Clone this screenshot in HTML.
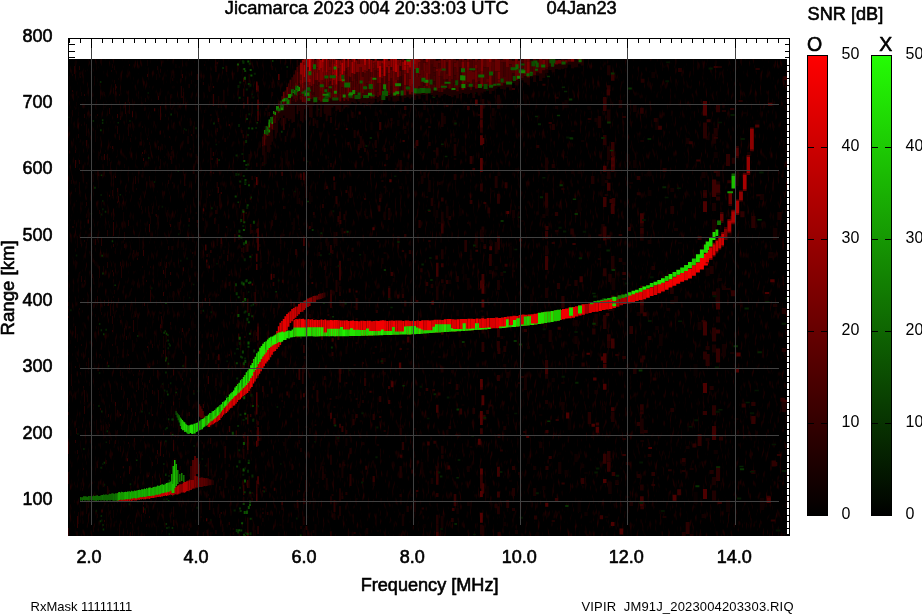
<!DOCTYPE html>
<html><head><meta charset="utf-8"><title>Jicamarca ionogram</title>
<style>html,body{margin:0;padding:0;background:#fff}svg{display:block}text{font-family:"Liberation Sans",sans-serif;fill:#000}</style></head><body>
<svg width="922" height="614" viewBox="0 0 922 614">
<defs>
<linearGradient id="gr" x1="0" y1="1" x2="0" y2="0"><stop offset="0" stop-color="#000"/><stop offset="1" stop-color="#ff0000"/></linearGradient>
<linearGradient id="gg" x1="0" y1="1" x2="0" y2="0"><stop offset="0" stop-color="#000"/><stop offset="1" stop-color="#24fc04"/></linearGradient>
<filter id="b1" x="-5%" y="-5%" width="110%" height="110%"><feGaussianBlur stdDeviation="0.25 0.75"/></filter>
<filter id="nz" x="0" y="0" width="100%" height="100%" color-interpolation-filters="sRGB"><feTurbulence type="fractalNoise" baseFrequency="0.4 0.1" numOctaves="2" seed="5"/><feColorMatrix type="matrix" values="0.5 0 0 0 -0.29  0 0 0 0 0  0 0 0 0 0  0 0 0 0 1"/></filter>
<filter id="b2" x="-5%" y="-5%" width="110%" height="110%"><feGaussianBlur stdDeviation="1.5"/></filter>
<clipPath id="cp"><rect x="68" y="59" width="719" height="477"/></clipPath>
</defs>
<rect width="922" height="614" fill="#fff"/>
<g stroke="#000" stroke-width="1" shape-rendering="crispEdges" fill="none">
<rect x="68.5" y="38.5" width="721" height="497"/>
<path d="M69.5 38v5M80.5 38v5M91.5 38v10M102.5 38v5M112.5 38v5M123.5 38v5M134.5 38v5M145.5 38v5M155.5 38v5M166.5 38v5M177.5 38v5M188.5 38v5M198.5 38v10M209.5 38v5M220.5 38v5M231.5 38v5M241.5 38v5M252.5 38v5M263.5 38v5M273.5 38v5M284.5 38v5M295.5 38v5M306.5 38v10M316.5 38v5M327.5 38v5M338.5 38v5M349.5 38v5M359.5 38v5M370.5 38v5M381.5 38v5M392.5 38v5M402.5 38v5M413.5 38v10M424.5 38v5M434.5 38v5M445.5 38v5M456.5 38v5M467.5 38v5M477.5 38v5M488.5 38v5M499.5 38v5M510.5 38v5M520.5 38v10M531.5 38v5M542.5 38v5M553.5 38v5M563.5 38v5M574.5 38v5M585.5 38v5M595.5 38v5M606.5 38v5M617.5 38v5M627.5 38v10M638.5 38v5M649.5 38v5M660.5 38v5M671.5 38v5M681.5 38v5M692.5 38v5M703.5 38v5M714.5 38v5M724.5 38v5M735.5 38v10M746.5 38v5M756.5 38v5M767.5 38v5M778.5 38v5M68 534.5h7M790 534.5h-5M68 528.5h7M790 528.5h-5M68 521.5h7M790 521.5h-5M68 515.5h7M790 515.5h-5M68 508.5h7M790 508.5h-5M68 501.5h12M790 501.5h-10M68 495.5h7M790 495.5h-5M68 488.5h7M790 488.5h-5M68 482.5h7M790 482.5h-5M68 475.5h7M790 475.5h-5M68 468.5h7M790 468.5h-5M68 462.5h7M790 462.5h-5M68 455.5h7M790 455.5h-5M68 448.5h7M790 448.5h-5M68 442.5h7M790 442.5h-5M68 435.5h12M790 435.5h-10M68 429.5h7M790 429.5h-5M68 422.5h7M790 422.5h-5M68 415.5h7M790 415.5h-5M68 409.5h7M790 409.5h-5M68 402.5h7M790 402.5h-5M68 396.5h7M790 396.5h-5M68 389.5h7M790 389.5h-5M68 382.5h7M790 382.5h-5M68 376.5h7M790 376.5h-5M68 368.5h12M790 368.5h-10M68 362.5h7M790 362.5h-5M68 356.5h7M790 356.5h-5M68 349.5h7M790 349.5h-5M68 343.5h7M790 343.5h-5M68 336.5h7M790 336.5h-5M68 329.5h7M790 329.5h-5M68 323.5h7M790 323.5h-5M68 316.5h7M790 316.5h-5M68 309.5h7M790 309.5h-5M68 302.5h12M790 302.5h-10M68 296.5h7M790 296.5h-5M68 290.5h7M790 290.5h-5M68 283.5h7M790 283.5h-5M68 276.5h7M790 276.5h-5M68 270.5h7M790 270.5h-5M68 263.5h7M790 263.5h-5M68 257.5h7M790 257.5h-5M68 250.5h7M790 250.5h-5M68 243.5h7M790 243.5h-5M68 237.5h12M790 237.5h-10M68 230.5h7M790 230.5h-5M68 223.5h7M790 223.5h-5M68 217.5h7M790 217.5h-5M68 210.5h7M790 210.5h-5M68 204.5h7M790 204.5h-5M68 197.5h7M790 197.5h-5M68 190.5h7M790 190.5h-5M68 184.5h7M790 184.5h-5M68 177.5h7M790 177.5h-5M68 170.5h12M790 170.5h-10M68 164.5h7M790 164.5h-5M68 157.5h7M790 157.5h-5M68 151.5h7M790 151.5h-5M68 144.5h7M790 144.5h-5M68 137.5h7M790 137.5h-5M68 131.5h7M790 131.5h-5M68 124.5h7M790 124.5h-5M68 118.5h7M790 118.5h-5M68 111.5h7M790 111.5h-5M68 104.5h12M790 104.5h-10M68 98.5h7M790 98.5h-5M68 91.5h7M790 91.5h-5M68 85.5h7M790 85.5h-5M68 78.5h7M790 78.5h-5M68 71.5h7M790 71.5h-5M68 65.5h7M790 65.5h-5M68 57.5h7M790 57.5h-5M68 51.5h7M790 51.5h-5M68 44.5h7M790 44.5h-5M68 38.5h12M790 38.5h-10"/>
</g>
<rect x="68" y="59" width="719" height="477" fill="#000"/>
<g clip-path="url(#cp)">
<rect x="68" y="59" width="719" height="477" filter="url(#nz)"/>
<g ><path fill="#1f0000" d="M68.0 472.0h1.0v12.0h-1.0zM68.0 316.0h1.0v2.0h-1.0zM68.0 412.0h1.0v3.0h-1.0zM75.0 326.0h1.0v12.0h-1.0zM75.0 150.0h1.0v3.0h-1.0zM75.0 366.0h1.0v2.0h-1.0zM77.0 450.0h1.0v4.0h-1.0zM79.0 66.0h1.0v4.0h-1.0zM81.0 276.0h1.0v6.0h-1.0zM83.0 386.0h1.0v2.0h-1.0zM83.0 468.0h1.0v2.0h-1.0zM84.0 240.0h1.0v2.0h-1.0zM84.0 114.0h1.0v4.0h-1.0zM84.0 390.0h1.0v12.0h-1.0zM84.0 280.0h1.0v2.0h-1.0zM86.0 202.0h1.0v4.0h-1.0zM94.0 498.0h1.0v4.0h-1.0zM97.0 464.0h1.0v4.0h-1.0zM97.0 296.0h1.0v8.0h-1.0zM97.0 114.0h1.0v2.0h-1.0zM97.0 238.0h1.0v2.0h-1.0zM97.0 496.0h1.0v2.0h-1.0zM104.0 300.0h1.0v6.0h-1.0zM107.0 262.0h1.0v6.0h-1.0zM107.0 154.0h1.0v8.0h-1.0zM107.0 230.0h1.0v6.0h-1.0zM107.0 486.0h1.0v8.0h-1.0zM109.0 108.0h1.0v6.0h-1.0zM112.0 190.0h1.0v6.0h-1.0zM112.0 316.0h1.0v8.0h-1.0zM112.0 270.0h1.0v2.0h-1.0zM112.0 344.0h1.0v2.0h-1.0zM115.0 440.0h1.0v4.0h-1.0zM117.0 126.0h1.0v8.0h-1.0zM117.0 410.0h1.0v4.0h-1.0zM120.0 116.0h1.0v4.0h-1.0zM120.0 262.0h1.0v4.0h-1.0zM120.0 320.0h1.0v3.0h-1.0zM120.0 370.0h1.0v2.0h-1.0zM120.0 476.0h1.0v2.0h-1.0zM121.0 266.0h1.0v12.0h-1.0zM121.0 386.0h1.0v4.0h-1.0zM124.0 244.0h1.0v4.0h-1.0zM127.0 398.0h1.0v12.0h-1.0zM128.0 220.0h1.0v6.0h-1.0zM128.0 442.0h1.0v2.0h-1.0zM129.0 364.0h1.0v6.0h-1.0zM135.0 176.0h1.0v8.0h-1.0zM135.0 412.0h1.0v4.0h-1.0zM135.0 314.0h1.0v3.0h-1.0zM139.0 370.0h1.0v2.0h-1.0zM142.0 404.0h1.0v6.0h-1.0zM144.0 150.0h1.0v4.0h-1.0zM146.0 280.0h1.0v2.0h-1.0zM146.0 490.0h1.0v2.0h-1.0zM149.0 380.0h1.0v3.0h-1.0zM149.0 516.0h1.0v2.0h-1.0zM152.0 344.0h1.0v4.0h-1.0zM152.0 462.0h1.0v4.0h-1.0zM152.0 476.0h1.0v2.0h-1.0zM152.0 390.0h1.0v4.0h-1.0zM153.0 536.0h1.0v6.0h-1.0zM157.0 370.0h1.0v4.0h-1.0zM158.0 390.0h1.0v12.0h-1.0zM158.0 146.0h1.0v4.0h-1.0zM163.0 432.0h1.0v4.0h-1.0zM163.0 454.0h1.0v3.0h-1.0zM168.1 246.0h1.0v4.0h-1.0zM168.1 180.0h1.0v4.0h-1.0zM170.1 432.0h1.0v4.0h-1.0zM170.1 322.0h1.0v3.0h-1.0zM170.1 156.0h1.0v4.0h-1.0zM170.1 282.0h1.0v4.0h-1.0zM171.2 156.0h1.0v8.0h-1.0zM171.2 512.0h1.0v2.0h-1.0zM171.2 146.0h1.0v4.0h-1.0zM176.5 388.0h1.1v2.0h-1.1zM176.5 474.0h1.1v4.0h-1.1zM181.9 378.0h1.1v3.0h-1.1zM183.0 92.0h1.1v12.0h-1.1zM185.2 208.0h1.1v4.0h-1.1zM187.5 136.0h1.1v8.0h-1.1zM188.6 84.0h1.1v4.0h-1.1zM188.6 328.0h1.1v3.0h-1.1zM188.6 528.0h1.1v3.0h-1.1zM192.1 252.0h1.2v2.0h-1.2zM198.0 324.0h1.2v4.0h-1.2zM198.0 178.0h1.2v12.0h-1.2zM198.0 468.0h1.2v3.0h-1.2zM200.4 516.0h1.2v2.0h-1.2zM200.4 310.0h1.2v4.0h-1.2zM202.8 82.0h1.2v3.0h-1.2zM206.5 530.0h1.2v3.0h-1.2zM207.7 354.0h1.3v6.0h-1.3zM207.7 468.0h1.3v8.0h-1.3zM207.7 458.0h1.3v12.0h-1.3zM209.0 298.0h1.3v8.0h-1.3zM209.0 318.0h1.3v2.0h-1.3zM209.0 498.0h1.3v12.0h-1.3zM209.0 194.0h1.3v2.0h-1.3zM212.8 172.0h1.3v2.0h-1.3zM214.1 218.0h1.3v6.0h-1.3zM215.3 530.0h1.3v4.0h-1.3zM215.3 360.0h1.3v4.0h-1.3zM215.3 378.0h1.3v8.0h-1.3zM216.6 182.0h1.3v6.0h-1.3zM216.6 128.0h1.3v4.0h-1.3zM217.9 414.0h1.3v4.0h-1.3zM217.9 364.0h1.3v6.0h-1.3zM219.2 194.0h1.3v12.0h-1.3zM219.2 514.0h1.3v4.0h-1.3zM220.6 478.0h1.3v2.0h-1.3zM224.5 138.0h1.3v4.0h-1.3zM228.6 282.0h1.4v4.0h-1.4zM228.6 274.0h1.4v2.0h-1.4zM228.6 522.0h1.4v3.0h-1.4zM228.6 354.0h1.4v2.0h-1.4zM238.3 234.0h1.4v6.0h-1.4zM247.0 388.0h1.5v2.0h-1.5zM249.9 388.0h1.5v8.0h-1.5zM249.9 430.0h1.5v2.0h-1.5zM249.9 226.0h1.5v8.0h-1.5zM251.4 230.0h1.5v3.0h-1.5zM251.4 498.0h1.5v4.0h-1.5zM251.4 176.0h1.5v4.0h-1.5zM251.4 492.0h1.5v2.0h-1.5zM262.1 162.0h1.6v4.0h-1.6zM262.1 512.0h1.6v2.0h-1.6zM262.1 490.0h1.6v2.0h-1.6zM265.2 352.0h1.6v4.0h-1.6zM268.4 112.0h1.6v4.0h-1.6zM283.0 206.0h1.7v3.0h-1.7zM296.6 60.0h1.7v12.0h-1.7zM298.4 490.0h1.8v2.0h-1.8zM305.5 426.0h1.8v2.0h-1.8zM305.5 500.0h1.8v4.0h-1.8zM312.7 118.0h1.8v8.0h-1.8zM312.7 386.0h1.8v4.0h-1.8zM312.7 318.0h1.8v2.0h-1.8zM323.9 376.0h1.9v4.0h-1.9zM323.9 266.0h1.9v4.0h-1.9zM323.9 70.0h1.9v4.0h-1.9zM329.6 398.0h1.9v2.0h-1.9zM331.6 250.0h1.9v4.0h-1.9zM333.5 182.0h2.0v8.0h-2.0zM333.5 420.0h2.0v6.0h-2.0zM335.5 128.0h2.0v2.0h-2.0zM335.5 280.0h2.0v12.0h-2.0zM335.5 232.0h2.0v4.0h-2.0zM335.5 334.0h2.0v2.0h-2.0zM339.4 270.0h2.0v4.0h-2.0zM341.4 496.0h2.0v3.0h-2.0zM343.4 464.0h2.0v2.0h-2.0zM343.4 214.0h2.0v6.0h-2.0zM345.4 492.0h2.0v3.0h-2.0zM345.4 382.0h2.0v2.0h-2.0zM345.4 430.0h2.0v4.0h-2.0zM349.5 390.0h2.0v4.0h-2.0zM349.5 448.0h2.0v6.0h-2.0zM349.5 186.0h2.0v12.0h-2.0zM349.5 70.0h2.0v4.0h-2.0zM349.5 74.0h2.0v2.0h-2.0zM355.6 342.0h2.1v2.0h-2.1zM355.6 398.0h2.1v2.0h-2.1zM355.6 318.0h2.1v6.0h-2.1zM361.9 362.0h2.1v2.0h-2.1zM364.0 148.0h2.1v4.0h-2.1zM383.6 430.0h2.2v2.0h-2.2zM383.6 148.0h2.2v4.0h-2.2zM388.0 208.0h2.3v12.0h-2.3zM399.5 428.0h2.3v8.0h-2.3zM399.5 160.0h2.3v12.0h-2.3zM399.5 466.0h2.3v12.0h-2.3zM399.5 494.0h2.3v3.0h-2.3zM399.5 406.0h2.3v2.0h-2.3zM404.1 64.0h2.3v3.0h-2.3zM404.1 114.0h2.3v2.0h-2.3zM428.2 142.0h2.5v4.0h-2.5zM428.2 126.0h2.5v2.0h-2.5zM430.7 284.0h2.5v4.0h-2.5zM430.7 198.0h2.5v8.0h-2.5zM448.5 426.0h2.6v3.0h-2.6zM448.5 216.0h2.6v4.0h-2.6zM448.5 382.0h2.6v2.0h-2.6zM453.7 144.0h2.6v12.0h-2.6zM453.7 174.0h2.6v6.0h-2.6zM456.3 276.0h2.6v6.0h-2.6zM467.0 90.0h2.7v4.0h-2.7zM472.4 94.0h2.7v4.0h-2.7zM472.4 408.0h2.7v6.0h-2.7zM472.4 320.0h2.7v8.0h-2.7zM477.9 114.0h2.8v2.0h-2.8zM483.4 244.0h2.8v4.0h-2.8zM483.4 418.0h2.8v2.0h-2.8zM494.7 504.0h2.9v4.0h-2.9zM494.7 176.0h2.9v12.0h-2.9zM497.5 434.0h2.9v4.0h-2.9zM503.3 346.0h2.9v6.0h-2.9zM512.0 488.0h3.0v8.0h-3.0zM512.0 508.0h3.0v3.0h-3.0zM520.9 376.0h3.0v2.0h-3.0zM545.4 314.0h3.1v2.0h-3.1zM551.7 124.0h3.2v6.0h-3.2zM551.7 520.0h3.2v2.0h-3.2zM551.7 164.0h3.2v4.0h-3.2zM554.9 230.0h3.2v2.0h-3.2zM561.3 188.0h3.2v2.0h-3.2zM561.3 402.0h3.2v3.0h-3.2zM574.3 280.0h3.3v6.0h-3.3zM591.0 176.0h3.4v8.0h-3.4zM594.4 322.0h3.4v2.0h-3.4zM597.8 116.0h3.4v12.0h-3.4zM608.2 274.0h3.5v8.0h-3.5zM615.2 482.0h3.5v3.0h-3.5zM618.7 258.0h3.5v4.0h-3.5zM622.3 438.0h3.6v2.0h-3.6zM625.8 462.0h3.6v3.0h-3.6zM633.0 368.0h3.6v6.0h-3.6zM636.7 474.0h3.6v4.0h-3.6zM647.7 454.0h3.7v3.0h-3.7zM647.7 336.0h3.7v4.0h-3.7zM651.4 266.0h3.7v4.0h-3.7zM670.3 408.0h3.8v4.0h-3.8zM670.3 206.0h3.8v8.0h-3.8zM681.8 532.0h3.9v12.0h-3.9zM681.8 470.0h3.9v2.0h-3.9zM705.6 346.0h4.0v4.0h-4.0zM709.6 266.0h4.1v8.0h-4.1zM709.6 386.0h4.1v4.0h-4.1zM709.6 470.0h4.1v4.0h-4.1zM713.7 246.0h4.1v8.0h-4.1zM713.7 128.0h4.1v8.0h-4.1zM717.8 66.0h4.1v2.0h-4.1zM721.9 110.0h4.1v2.0h-4.1zM751.2 470.0h4.3v4.0h-4.3zM781.8 308.0h4.5v6.0h-4.5zM781.8 400.0h4.5v12.0h-4.5zM781.8 348.0h4.5v4.0h-4.5zM786.2 332.0h4.5v2.0h-4.5zM243.0 535.2h1.4v14.0h-1.4zM243.0 247.1h1.4v6.0h-1.4zM243.0 449.0h1.4v10.0h-1.4zM247.0 517.5h1.5v14.0h-1.5zM256.0 162.8h1.5v4.0h-1.5zM256.0 332.0h1.5v4.0h-1.5zM256.0 419.8h1.5v8.0h-1.5zM256.0 236.8h1.5v6.0h-1.5zM257.3 322.8h1.5v6.0h-1.5zM303.0 516.6h1.8v4.0h-1.8zM303.0 157.2h1.8v4.0h-1.8zM303.0 235.4h1.8v10.0h-1.8zM330.0 531.2h1.9v14.0h-1.9zM330.0 117.0h1.9v6.0h-1.9zM330.0 322.4h1.9v4.0h-1.9zM339.0 331.7h2.0v4.0h-2.0zM339.0 286.1h2.0v10.0h-2.0zM339.0 211.6h2.0v8.0h-2.0zM436.0 466.1h2.5v8.0h-2.5zM436.0 525.1h2.5v6.0h-2.5zM436.0 147.6h2.5v8.0h-2.5zM436.0 514.8h2.5v10.0h-2.5zM441.0 279.3h2.6v4.0h-2.6zM480.0 229.4h2.8v10.0h-2.8zM480.0 524.4h2.8v10.0h-2.8zM481.5 99.0h2.8v10.0h-2.8zM481.5 525.6h2.8v14.0h-2.8zM481.5 226.4h2.8v6.0h-2.8zM481.5 319.6h2.8v14.0h-2.8zM497.0 506.2h2.9v8.0h-2.9zM545.0 201.1h3.1v8.0h-3.1zM545.0 364.8h3.1v14.0h-3.1zM603.0 98.0h3.5v10.0h-3.5zM607.0 334.1h3.5v14.0h-3.5zM611.0 412.0h3.5v10.0h-3.5zM611.0 202.4h3.5v10.0h-3.5zM611.0 304.8h3.5v6.0h-3.5zM611.0 256.1h3.5v14.0h-3.5zM640.0 484.5h3.7v6.0h-3.7zM640.0 216.7h3.7v10.0h-3.7zM703.0 123.1h4.0v4.0h-4.0zM712.0 490.5h4.1v10.0h-4.1zM716.0 170.4h4.1v6.0h-4.1zM160.0 262.0h1.0v4.0h-1.0zM160.0 452.0h1.0v4.0h-1.0zM113.0 225.7h1.0v6.0h-1.0z"/>
<path fill="#140000" d="M68.0 302.0h1.0v4.0h-1.0zM71.0 180.0h1.0v4.0h-1.0zM72.0 74.0h1.0v2.0h-1.0zM72.0 110.0h1.0v4.0h-1.0zM73.0 94.0h1.0v4.0h-1.0zM78.0 512.0h1.0v12.0h-1.0zM79.0 182.0h1.0v12.0h-1.0zM79.0 308.0h1.0v2.0h-1.0zM79.0 168.0h1.0v2.0h-1.0zM80.0 372.0h1.0v3.0h-1.0zM80.0 76.0h1.0v2.0h-1.0zM81.0 92.0h1.0v4.0h-1.0zM82.0 488.0h1.0v3.0h-1.0zM86.0 182.0h1.0v2.0h-1.0zM86.0 502.0h1.0v12.0h-1.0zM86.0 214.0h1.0v4.0h-1.0zM86.0 362.0h1.0v4.0h-1.0zM86.0 242.0h1.0v6.0h-1.0zM86.0 124.0h1.0v12.0h-1.0zM87.0 398.0h1.0v4.0h-1.0zM88.0 500.0h1.0v8.0h-1.0zM92.0 482.0h1.0v2.0h-1.0zM93.0 526.0h1.0v6.0h-1.0zM93.0 494.0h1.0v2.0h-1.0zM97.0 514.0h1.0v4.0h-1.0zM100.0 354.0h1.0v2.0h-1.0zM101.0 312.0h1.0v3.0h-1.0zM101.0 156.0h1.0v4.0h-1.0zM103.0 266.0h1.0v8.0h-1.0zM106.0 424.0h1.0v6.0h-1.0zM107.0 304.0h1.0v2.0h-1.0zM110.0 162.0h1.0v8.0h-1.0zM110.0 146.0h1.0v2.0h-1.0zM111.0 394.0h1.0v8.0h-1.0zM111.0 172.0h1.0v12.0h-1.0zM112.0 64.0h1.0v4.0h-1.0zM113.0 296.0h1.0v2.0h-1.0zM114.0 290.0h1.0v4.0h-1.0zM114.0 66.0h1.0v4.0h-1.0zM114.0 80.0h1.0v3.0h-1.0zM115.0 404.0h1.0v12.0h-1.0zM117.0 346.0h1.0v8.0h-1.0zM117.0 430.0h1.0v3.0h-1.0zM117.0 302.0h1.0v6.0h-1.0zM117.0 192.0h1.0v4.0h-1.0zM119.0 528.0h1.0v12.0h-1.0zM120.0 446.0h1.0v6.0h-1.0zM120.0 370.0h1.0v6.0h-1.0zM125.0 304.0h1.0v3.0h-1.0zM128.0 424.0h1.0v8.0h-1.0zM130.0 138.0h1.0v4.0h-1.0zM130.0 522.0h1.0v2.0h-1.0zM131.0 418.0h1.0v2.0h-1.0zM133.0 374.0h1.0v2.0h-1.0zM134.0 442.0h1.0v8.0h-1.0zM135.0 476.0h1.0v8.0h-1.0zM135.0 428.0h1.0v3.0h-1.0zM135.0 426.0h1.0v2.0h-1.0zM136.0 188.0h1.0v2.0h-1.0zM138.0 252.0h1.0v4.0h-1.0zM141.0 514.0h1.0v8.0h-1.0zM141.0 206.0h1.0v4.0h-1.0zM142.0 126.0h1.0v2.0h-1.0zM142.0 382.0h1.0v3.0h-1.0zM142.0 266.0h1.0v2.0h-1.0zM143.0 388.0h1.0v12.0h-1.0zM143.0 436.0h1.0v2.0h-1.0zM144.0 108.0h1.0v3.0h-1.0zM145.0 228.0h1.0v3.0h-1.0zM145.0 400.0h1.0v4.0h-1.0zM145.0 98.0h1.0v4.0h-1.0zM146.0 502.0h1.0v6.0h-1.0zM146.0 524.0h1.0v3.0h-1.0zM148.0 206.0h1.0v8.0h-1.0zM149.0 142.0h1.0v3.0h-1.0zM150.0 266.0h1.0v2.0h-1.0zM150.0 216.0h1.0v8.0h-1.0zM152.0 206.0h1.0v8.0h-1.0zM155.0 214.0h1.0v2.0h-1.0zM158.0 400.0h1.0v3.0h-1.0zM158.0 206.0h1.0v4.0h-1.0zM158.0 376.0h1.0v4.0h-1.0zM159.0 486.0h1.0v3.0h-1.0zM159.0 166.0h1.0v3.0h-1.0zM162.0 530.0h1.0v2.0h-1.0zM163.0 400.0h1.0v4.0h-1.0zM163.0 336.0h1.0v12.0h-1.0zM165.0 114.0h1.0v3.0h-1.0zM168.1 420.0h1.0v3.0h-1.0zM168.1 384.0h1.0v4.0h-1.0zM168.1 280.0h1.0v4.0h-1.0zM169.1 222.0h1.0v3.0h-1.0zM169.1 470.0h1.0v4.0h-1.0zM171.2 94.0h1.0v4.0h-1.0zM171.2 246.0h1.0v4.0h-1.0zM171.2 108.0h1.0v2.0h-1.0zM171.2 406.0h1.0v6.0h-1.0zM172.2 466.0h1.1v8.0h-1.1zM172.2 182.0h1.1v2.0h-1.1zM173.3 74.0h1.1v4.0h-1.1zM173.3 262.0h1.1v3.0h-1.1zM174.3 458.0h1.1v12.0h-1.1zM177.5 246.0h1.1v2.0h-1.1zM178.6 500.0h1.1v4.0h-1.1zM179.7 232.0h1.1v2.0h-1.1zM181.9 282.0h1.1v6.0h-1.1zM183.0 352.0h1.1v2.0h-1.1zM183.0 442.0h1.1v4.0h-1.1zM183.0 130.0h1.1v4.0h-1.1zM184.1 370.0h1.1v2.0h-1.1zM185.2 452.0h1.1v3.0h-1.1zM188.6 302.0h1.1v8.0h-1.1zM188.6 400.0h1.1v4.0h-1.1zM188.6 400.0h1.1v6.0h-1.1zM189.8 118.0h1.2v8.0h-1.2zM189.8 148.0h1.2v2.0h-1.2zM190.9 260.0h1.2v8.0h-1.2zM195.6 212.0h1.2v2.0h-1.2zM195.6 154.0h1.2v4.0h-1.2zM196.8 156.0h1.2v8.0h-1.2zM198.0 354.0h1.2v4.0h-1.2zM198.0 456.0h1.2v2.0h-1.2zM201.6 442.0h1.2v2.0h-1.2zM202.8 532.0h1.2v12.0h-1.2zM202.8 212.0h1.2v2.0h-1.2zM202.8 218.0h1.2v3.0h-1.2zM204.0 64.0h1.2v2.0h-1.2zM206.5 190.0h1.2v8.0h-1.2zM207.7 494.0h1.3v2.0h-1.3zM209.0 86.0h1.3v6.0h-1.3zM209.0 316.0h1.3v6.0h-1.3zM211.5 306.0h1.3v6.0h-1.3zM212.8 270.0h1.3v12.0h-1.3zM212.8 508.0h1.3v6.0h-1.3zM215.3 346.0h1.3v4.0h-1.3zM216.6 356.0h1.3v4.0h-1.3zM216.6 206.0h1.3v8.0h-1.3zM216.6 238.0h1.3v8.0h-1.3zM217.9 224.0h1.3v8.0h-1.3zM217.9 294.0h1.3v2.0h-1.3zM217.9 96.0h1.3v12.0h-1.3zM217.9 504.0h1.3v8.0h-1.3zM220.6 372.0h1.3v12.0h-1.3zM221.9 280.0h1.3v6.0h-1.3zM221.9 524.0h1.3v8.0h-1.3zM223.2 250.0h1.3v4.0h-1.3zM223.2 532.0h1.3v4.0h-1.3zM225.9 436.0h1.4v4.0h-1.4zM228.6 464.0h1.4v3.0h-1.4zM231.4 312.0h1.4v2.0h-1.4zM231.4 112.0h1.4v4.0h-1.4zM231.4 366.0h1.4v2.0h-1.4zM232.7 532.0h1.4v3.0h-1.4zM232.7 528.0h1.4v2.0h-1.4zM236.9 64.0h1.4v8.0h-1.4zM242.6 292.0h1.4v8.0h-1.4zM242.6 364.0h1.4v2.0h-1.4zM245.5 268.0h1.5v2.0h-1.5zM248.5 476.0h1.5v12.0h-1.5zM248.5 74.0h1.5v8.0h-1.5zM248.5 154.0h1.5v12.0h-1.5zM251.4 394.0h1.5v8.0h-1.5zM251.4 102.0h1.5v12.0h-1.5zM251.4 254.0h1.5v2.0h-1.5zM252.9 524.0h1.5v12.0h-1.5zM254.4 330.0h1.5v12.0h-1.5zM255.9 512.0h1.5v4.0h-1.5zM257.5 230.0h1.5v3.0h-1.5zM259.0 244.0h1.5v3.0h-1.5zM259.0 102.0h1.5v3.0h-1.5zM262.1 508.0h1.6v2.0h-1.6zM262.1 518.0h1.6v4.0h-1.6zM265.2 488.0h1.6v4.0h-1.6zM266.8 394.0h1.6v3.0h-1.6zM266.8 262.0h1.6v2.0h-1.6zM271.5 456.0h1.6v8.0h-1.6zM271.5 66.0h1.6v4.0h-1.6zM273.1 154.0h1.6v4.0h-1.6zM274.8 344.0h1.6v4.0h-1.6zM274.8 170.0h1.6v4.0h-1.6zM279.7 240.0h1.7v4.0h-1.7zM279.7 342.0h1.7v2.0h-1.7zM281.3 158.0h1.7v12.0h-1.7zM281.3 504.0h1.7v6.0h-1.7zM281.3 400.0h1.7v2.0h-1.7zM283.0 234.0h1.7v2.0h-1.7zM283.0 128.0h1.7v2.0h-1.7zM284.7 330.0h1.7v4.0h-1.7zM284.7 346.0h1.7v12.0h-1.7zM293.2 316.0h1.7v12.0h-1.7zM296.6 100.0h1.7v2.0h-1.7zM298.4 440.0h1.8v4.0h-1.8zM298.4 292.0h1.8v12.0h-1.8zM298.4 198.0h1.8v6.0h-1.8zM301.9 80.0h1.8v2.0h-1.8zM303.7 406.0h1.8v2.0h-1.8zM309.1 502.0h1.8v2.0h-1.8zM312.7 530.0h1.8v3.0h-1.8zM314.6 86.0h1.8v2.0h-1.8zM316.4 482.0h1.9v2.0h-1.9zM316.4 92.0h1.9v4.0h-1.9zM316.4 120.0h1.9v8.0h-1.9zM318.3 86.0h1.9v12.0h-1.9zM322.0 466.0h1.9v12.0h-1.9zM323.9 474.0h1.9v4.0h-1.9zM323.9 186.0h1.9v4.0h-1.9zM325.8 276.0h1.9v12.0h-1.9zM325.8 478.0h1.9v12.0h-1.9zM325.8 238.0h1.9v8.0h-1.9zM333.5 232.0h2.0v12.0h-2.0zM333.5 134.0h2.0v2.0h-2.0zM333.5 406.0h2.0v2.0h-2.0zM333.5 514.0h2.0v6.0h-2.0zM335.5 70.0h2.0v4.0h-2.0zM335.5 396.0h2.0v3.0h-2.0zM335.5 238.0h2.0v8.0h-2.0zM335.5 436.0h2.0v4.0h-2.0zM337.4 438.0h2.0v4.0h-2.0zM339.4 300.0h2.0v6.0h-2.0zM339.4 320.0h2.0v6.0h-2.0zM339.4 268.0h2.0v8.0h-2.0zM341.4 228.0h2.0v6.0h-2.0zM341.4 466.0h2.0v12.0h-2.0zM345.4 68.0h2.0v4.0h-2.0zM345.4 60.0h2.0v4.0h-2.0zM349.5 334.0h2.0v4.0h-2.0zM349.5 276.0h2.0v4.0h-2.0zM353.6 306.0h2.1v2.0h-2.1zM353.6 364.0h2.1v2.0h-2.1zM357.7 404.0h2.1v4.0h-2.1zM361.9 442.0h2.1v3.0h-2.1zM364.0 372.0h2.1v2.0h-2.1zM364.0 340.0h2.1v4.0h-2.1zM364.0 380.0h2.1v2.0h-2.1zM366.1 528.0h2.1v6.0h-2.1zM366.1 216.0h2.1v3.0h-2.1zM372.6 92.0h2.2v4.0h-2.2zM372.6 352.0h2.2v2.0h-2.2zM372.6 478.0h2.2v8.0h-2.2zM372.6 100.0h2.2v2.0h-2.2zM376.9 240.0h2.2v2.0h-2.2zM376.9 444.0h2.2v2.0h-2.2zM379.1 110.0h2.2v2.0h-2.2zM379.1 194.0h2.2v4.0h-2.2zM381.3 258.0h2.2v6.0h-2.2zM383.6 372.0h2.2v3.0h-2.2zM383.6 252.0h2.2v2.0h-2.2zM383.6 358.0h2.2v4.0h-2.2zM383.6 212.0h2.2v8.0h-2.2zM383.6 186.0h2.2v2.0h-2.2zM388.0 286.0h2.3v8.0h-2.3zM388.0 210.0h2.3v8.0h-2.3zM390.3 146.0h2.3v4.0h-2.3zM394.9 86.0h2.3v2.0h-2.3zM394.9 168.0h2.3v2.0h-2.3zM397.2 84.0h2.3v6.0h-2.3zM399.5 186.0h2.3v3.0h-2.3zM401.8 514.0h2.3v12.0h-2.3zM404.1 130.0h2.3v4.0h-2.3zM404.1 126.0h2.3v3.0h-2.3zM408.8 322.0h2.4v6.0h-2.4zM413.6 428.0h2.4v2.0h-2.4zM413.6 500.0h2.4v12.0h-2.4zM416.0 320.0h2.4v4.0h-2.4zM418.4 392.0h2.4v4.0h-2.4zM420.8 176.0h2.4v8.0h-2.4zM423.3 102.0h2.5v8.0h-2.5zM423.3 172.0h2.5v6.0h-2.5zM425.7 118.0h2.5v4.0h-2.5zM425.7 196.0h2.5v2.0h-2.5zM428.2 180.0h2.5v12.0h-2.5zM430.7 478.0h2.5v6.0h-2.5zM433.2 158.0h2.5v6.0h-2.5zM433.2 150.0h2.5v2.0h-2.5zM438.2 182.0h2.5v3.0h-2.5zM440.8 516.0h2.6v12.0h-2.6zM443.3 116.0h2.6v8.0h-2.6zM445.9 206.0h2.6v12.0h-2.6zM448.5 320.0h2.6v2.0h-2.6zM451.1 370.0h2.6v3.0h-2.6zM453.7 158.0h2.6v2.0h-2.6zM467.0 222.0h2.7v2.0h-2.7zM467.0 466.0h2.7v6.0h-2.7zM472.4 84.0h2.7v8.0h-2.7zM475.1 240.0h2.7v4.0h-2.7zM477.9 288.0h2.8v2.0h-2.8zM480.6 230.0h2.8v12.0h-2.8zM480.6 310.0h2.8v2.0h-2.8zM489.0 270.0h2.8v4.0h-2.8zM491.8 108.0h2.8v8.0h-2.8zM497.5 68.0h2.9v2.0h-2.9zM500.4 272.0h2.9v4.0h-2.9zM500.4 336.0h2.9v3.0h-2.9zM503.3 364.0h2.9v3.0h-2.9zM506.2 372.0h2.9v6.0h-2.9zM512.0 210.0h3.0v8.0h-3.0zM512.0 270.0h3.0v2.0h-3.0zM515.0 530.0h3.0v4.0h-3.0zM524.0 378.0h3.0v12.0h-3.0zM527.0 346.0h3.0v3.0h-3.0zM533.1 466.0h3.1v4.0h-3.1zM539.2 442.0h3.1v6.0h-3.1zM542.3 214.0h3.1v4.0h-3.1zM554.9 106.0h3.2v3.0h-3.2zM558.1 462.0h3.2v12.0h-3.2zM561.3 382.0h3.2v2.0h-3.2zM561.3 402.0h3.2v8.0h-3.2zM567.8 284.0h3.3v2.0h-3.3zM571.1 356.0h3.3v4.0h-3.3zM574.3 336.0h3.3v8.0h-3.3zM574.3 320.0h3.3v6.0h-3.3zM574.3 354.0h3.3v2.0h-3.3zM594.4 314.0h3.4v12.0h-3.4zM594.4 390.0h3.4v4.0h-3.4zM594.4 118.0h3.4v4.0h-3.4zM608.2 482.0h3.5v12.0h-3.5zM608.2 458.0h3.5v4.0h-3.5zM611.7 278.0h3.5v12.0h-3.5zM615.2 480.0h3.5v4.0h-3.5zM622.3 278.0h3.6v2.0h-3.6zM633.0 104.0h3.6v8.0h-3.6zM636.7 312.0h3.6v4.0h-3.6zM640.3 140.0h3.7v2.0h-3.7zM640.3 440.0h3.7v2.0h-3.7zM647.7 240.0h3.7v4.0h-3.7zM666.4 308.0h3.8v3.0h-3.8zM670.3 284.0h3.8v3.0h-3.8zM670.3 300.0h3.8v4.0h-3.8zM670.3 188.0h3.8v4.0h-3.8zM674.1 228.0h3.9v3.0h-3.9zM674.1 296.0h3.9v6.0h-3.9zM685.7 138.0h3.9v6.0h-3.9zM685.7 138.0h3.9v3.0h-3.9zM685.7 446.0h3.9v3.0h-3.9zM689.7 468.0h3.9v2.0h-3.9zM697.6 322.0h4.0v8.0h-4.0zM701.6 514.0h4.0v4.0h-4.0zM701.6 172.0h4.0v6.0h-4.0zM705.6 136.0h4.0v4.0h-4.0zM705.6 268.0h4.0v8.0h-4.0zM705.6 438.0h4.0v3.0h-4.0zM705.6 354.0h4.0v6.0h-4.0zM717.8 278.0h4.1v3.0h-4.1zM721.9 344.0h4.1v12.0h-4.1zM730.1 352.0h4.2v2.0h-4.2zM734.3 174.0h4.2v12.0h-4.2zM747.0 152.0h4.3v4.0h-4.3zM759.8 194.0h4.3v6.0h-4.3zM768.5 252.0h4.4v6.0h-4.4zM772.9 228.0h4.4v12.0h-4.4zM786.2 96.0h4.5v6.0h-4.5zM786.2 70.0h4.5v4.0h-4.5zM160.0 158.9h1.0v10.0h-1.0zM173.0 290.9h1.1v10.0h-1.1zM173.0 413.5h1.1v14.0h-1.1zM173.0 511.1h1.1v6.0h-1.1z"/>
<path fill="#290000" d="M68.0 442.0h1.0v12.0h-1.0zM68.0 528.0h1.0v12.0h-1.0zM75.0 440.0h1.0v3.0h-1.0zM79.0 160.0h1.0v4.0h-1.0zM84.0 94.0h1.0v2.0h-1.0zM84.0 406.0h1.0v8.0h-1.0zM86.0 140.0h1.0v6.0h-1.0zM104.0 520.0h1.0v2.0h-1.0zM112.0 330.0h1.0v2.0h-1.0zM115.0 84.0h1.0v6.0h-1.0zM117.0 188.0h1.0v4.0h-1.0zM135.0 492.0h1.0v3.0h-1.0zM143.0 502.0h1.0v3.0h-1.0zM143.0 498.0h1.0v2.0h-1.0zM146.0 496.0h1.0v3.0h-1.0zM149.0 366.0h1.0v2.0h-1.0zM163.0 350.0h1.0v4.0h-1.0zM202.8 208.0h1.2v2.0h-1.2zM212.8 152.0h1.3v4.0h-1.3zM215.3 66.0h1.3v6.0h-1.3zM215.3 210.0h1.3v4.0h-1.3zM215.3 424.0h1.3v3.0h-1.3zM216.6 62.0h1.3v2.0h-1.3zM220.6 512.0h1.3v2.0h-1.3zM249.9 224.0h1.5v3.0h-1.5zM251.4 360.0h1.5v6.0h-1.5zM262.1 386.0h1.6v6.0h-1.6zM296.6 326.0h1.7v12.0h-1.7zM296.6 500.0h1.7v8.0h-1.7zM296.6 102.0h1.7v12.0h-1.7zM305.5 186.0h1.8v12.0h-1.8zM305.5 526.0h1.8v4.0h-1.8zM323.9 76.0h1.9v2.0h-1.9zM331.6 352.0h1.9v4.0h-1.9zM331.6 338.0h1.9v4.0h-1.9zM333.5 90.0h2.0v6.0h-2.0zM333.5 500.0h2.0v12.0h-2.0zM335.5 196.0h2.0v8.0h-2.0zM335.5 64.0h2.0v3.0h-2.0zM337.4 72.0h2.0v2.0h-2.0zM337.4 68.0h2.0v2.0h-2.0zM337.4 216.0h2.0v6.0h-2.0zM341.4 88.0h2.0v12.0h-2.0zM345.4 190.0h2.0v3.0h-2.0zM349.5 474.0h2.0v12.0h-2.0zM355.6 414.0h2.1v4.0h-2.1zM355.6 298.0h2.1v12.0h-2.1zM364.0 198.0h2.1v2.0h-2.1zM364.0 378.0h2.1v8.0h-2.1zM372.6 414.0h2.2v6.0h-2.2zM379.1 198.0h2.2v4.0h-2.2zM379.1 396.0h2.2v6.0h-2.2zM379.1 416.0h2.2v2.0h-2.2zM401.8 442.0h2.3v8.0h-2.3zM401.8 290.0h2.3v8.0h-2.3zM401.8 536.0h2.3v2.0h-2.3zM401.8 250.0h2.3v2.0h-2.3zM404.1 234.0h2.3v4.0h-2.3zM428.2 240.0h2.5v2.0h-2.5zM445.9 104.0h2.6v3.0h-2.6zM445.9 280.0h2.6v4.0h-2.6zM448.5 92.0h2.6v4.0h-2.6zM456.3 322.0h2.6v8.0h-2.6zM483.4 246.0h2.8v3.0h-2.8zM489.0 62.0h2.8v4.0h-2.8zM489.0 254.0h2.8v12.0h-2.8zM497.5 348.0h2.9v6.0h-2.9zM497.5 532.0h2.9v4.0h-2.9zM497.5 532.0h2.9v2.0h-2.9zM512.0 466.0h3.0v4.0h-3.0zM545.4 466.0h3.1v4.0h-3.1zM551.7 242.0h3.2v2.0h-3.2zM554.9 212.0h3.2v4.0h-3.2zM561.3 296.0h3.2v12.0h-3.2zM608.2 308.0h3.5v3.0h-3.5zM615.2 354.0h3.5v2.0h-3.5zM618.7 234.0h3.5v2.0h-3.5zM622.3 356.0h3.6v3.0h-3.6zM622.3 116.0h3.6v2.0h-3.6zM629.4 326.0h3.6v8.0h-3.6zM636.7 176.0h3.6v4.0h-3.6zM636.7 422.0h3.6v4.0h-3.6zM651.4 472.0h3.7v4.0h-3.7zM651.4 484.0h3.7v2.0h-3.7zM681.8 458.0h3.9v6.0h-3.9zM685.7 522.0h3.9v12.0h-3.9zM701.6 320.0h4.0v2.0h-4.0zM705.6 354.0h4.0v12.0h-4.0zM713.7 170.0h4.1v3.0h-4.1zM730.1 216.0h4.2v8.0h-4.2zM730.1 108.0h4.2v2.0h-4.2zM751.2 216.0h4.3v12.0h-4.3zM751.2 402.0h4.3v4.0h-4.3zM786.2 164.0h4.5v3.0h-4.5zM243.0 102.4h1.4v6.0h-1.4zM243.0 374.8h1.4v4.0h-1.4zM243.0 88.4h1.4v8.0h-1.4zM247.0 298.6h1.5v14.0h-1.5zM247.0 243.7h1.5v8.0h-1.5zM247.0 530.3h1.5v6.0h-1.5zM256.0 480.6h1.5v6.0h-1.5zM256.0 88.2h1.5v4.0h-1.5zM256.0 228.8h1.5v4.0h-1.5zM257.3 324.0h1.5v8.0h-1.5zM257.3 107.8h1.5v8.0h-1.5zM257.3 525.9h1.5v8.0h-1.5zM303.0 345.1h1.8v8.0h-1.8zM303.0 498.2h1.8v6.0h-1.8zM330.0 289.8h1.9v14.0h-1.9zM330.0 244.9h1.9v8.0h-1.9zM339.0 368.6h2.0v14.0h-2.0zM339.0 97.7h2.0v14.0h-2.0zM436.0 493.0h2.5v4.0h-2.5zM441.0 197.6h2.6v4.0h-2.6zM480.0 124.8h2.8v8.0h-2.8zM480.0 183.5h2.8v8.0h-2.8zM481.5 315.8h2.8v14.0h-2.8zM481.5 341.9h2.8v10.0h-2.8zM497.0 193.8h2.9v10.0h-2.9zM497.0 235.7h2.9v14.0h-2.9zM497.0 375.1h2.9v6.0h-2.9zM497.0 95.1h2.9v8.0h-2.9zM497.0 323.3h2.9v14.0h-2.9zM497.0 341.0h2.9v10.0h-2.9zM545.0 359.9h3.1v8.0h-3.1zM545.0 192.8h3.1v14.0h-3.1zM603.0 268.3h3.5v8.0h-3.5zM603.0 315.0h3.5v14.0h-3.5zM603.0 298.7h3.5v6.0h-3.5zM603.0 135.1h3.5v10.0h-3.5zM607.0 451.1h3.5v10.0h-3.5zM607.0 335.0h3.5v6.0h-3.5zM607.0 85.2h3.5v6.0h-3.5zM607.0 235.3h3.5v4.0h-3.5zM607.0 461.5h3.5v6.0h-3.5zM611.0 295.2h3.5v8.0h-3.5zM640.0 429.6h3.7v4.0h-3.7zM640.0 107.8h3.7v6.0h-3.7zM640.0 404.3h3.7v10.0h-3.7zM640.0 299.5h3.7v14.0h-3.7zM703.0 122.4h4.0v10.0h-4.0zM703.0 351.4h4.0v8.0h-4.0zM703.0 190.1h4.0v8.0h-4.0zM703.0 124.6h4.0v14.0h-4.0zM712.0 405.2h4.1v10.0h-4.1zM712.0 327.4h4.1v14.0h-4.1zM712.0 291.4h4.1v4.0h-4.1zM716.0 104.3h4.1v8.0h-4.1zM716.0 466.9h4.1v14.0h-4.1zM716.0 196.6h4.1v4.0h-4.1zM160.0 130.4h1.0v4.0h-1.0zM173.0 439.7h1.1v8.0h-1.1z"/>
<path fill="#0f0000" d="M68.0 352.0h1.0v3.0h-1.0zM68.0 272.0h1.0v3.0h-1.0zM74.0 220.0h1.0v4.0h-1.0zM75.0 260.0h1.0v4.0h-1.0zM75.0 188.0h1.0v4.0h-1.0zM75.0 346.0h1.0v2.0h-1.0zM77.0 236.0h1.0v12.0h-1.0zM77.0 334.0h1.0v8.0h-1.0zM77.0 358.0h1.0v4.0h-1.0zM79.0 272.0h1.0v2.0h-1.0zM80.0 232.0h1.0v12.0h-1.0zM81.0 394.0h1.0v2.0h-1.0zM81.0 124.0h1.0v2.0h-1.0zM83.0 298.0h1.0v2.0h-1.0zM88.0 210.0h1.0v12.0h-1.0zM88.0 94.0h1.0v2.0h-1.0zM89.0 228.0h1.0v2.0h-1.0zM91.0 516.0h1.0v4.0h-1.0zM91.0 452.0h1.0v4.0h-1.0zM91.0 400.0h1.0v3.0h-1.0zM93.0 280.0h1.0v4.0h-1.0zM93.0 404.0h1.0v2.0h-1.0zM93.0 174.0h1.0v8.0h-1.0zM94.0 76.0h1.0v6.0h-1.0zM94.0 260.0h1.0v4.0h-1.0zM95.0 314.0h1.0v3.0h-1.0zM95.0 130.0h1.0v12.0h-1.0zM96.0 420.0h1.0v12.0h-1.0zM96.0 326.0h1.0v3.0h-1.0zM98.0 388.0h1.0v2.0h-1.0zM99.0 354.0h1.0v4.0h-1.0zM99.0 394.0h1.0v2.0h-1.0zM99.0 152.0h1.0v4.0h-1.0zM104.0 358.0h1.0v2.0h-1.0zM104.0 92.0h1.0v2.0h-1.0zM107.0 160.0h1.0v6.0h-1.0zM107.0 498.0h1.0v3.0h-1.0zM108.0 504.0h1.0v3.0h-1.0zM109.0 158.0h1.0v3.0h-1.0zM109.0 490.0h1.0v2.0h-1.0zM110.0 510.0h1.0v4.0h-1.0zM113.0 510.0h1.0v8.0h-1.0zM113.0 310.0h1.0v4.0h-1.0zM115.0 248.0h1.0v6.0h-1.0zM116.0 156.0h1.0v2.0h-1.0zM116.0 310.0h1.0v2.0h-1.0zM119.0 228.0h1.0v6.0h-1.0zM122.0 204.0h1.0v6.0h-1.0zM122.0 480.0h1.0v4.0h-1.0zM122.0 372.0h1.0v6.0h-1.0zM123.0 212.0h1.0v12.0h-1.0zM123.0 342.0h1.0v4.0h-1.0zM123.0 312.0h1.0v4.0h-1.0zM124.0 164.0h1.0v4.0h-1.0zM124.0 232.0h1.0v6.0h-1.0zM126.0 190.0h1.0v2.0h-1.0zM129.0 500.0h1.0v3.0h-1.0zM130.0 262.0h1.0v4.0h-1.0zM131.0 288.0h1.0v2.0h-1.0zM132.0 340.0h1.0v12.0h-1.0zM133.0 184.0h1.0v8.0h-1.0zM136.0 452.0h1.0v2.0h-1.0zM137.0 510.0h1.0v4.0h-1.0zM138.0 378.0h1.0v2.0h-1.0zM139.0 198.0h1.0v2.0h-1.0zM141.0 154.0h1.0v2.0h-1.0zM142.0 454.0h1.0v2.0h-1.0zM142.0 280.0h1.0v2.0h-1.0zM142.0 168.0h1.0v3.0h-1.0zM144.0 270.0h1.0v8.0h-1.0zM146.0 392.0h1.0v6.0h-1.0zM147.0 60.0h1.0v6.0h-1.0zM149.0 176.0h1.0v6.0h-1.0zM151.0 406.0h1.0v8.0h-1.0zM152.0 478.0h1.0v4.0h-1.0zM153.0 368.0h1.0v8.0h-1.0zM154.0 490.0h1.0v2.0h-1.0zM154.0 436.0h1.0v2.0h-1.0zM156.0 74.0h1.0v6.0h-1.0zM157.0 360.0h1.0v4.0h-1.0zM160.0 280.0h1.0v2.0h-1.0zM160.0 496.0h1.0v2.0h-1.0zM160.0 492.0h1.0v2.0h-1.0zM161.0 330.0h1.0v3.0h-1.0zM162.0 144.0h1.0v6.0h-1.0zM163.0 430.0h1.0v3.0h-1.0zM166.0 356.0h1.0v2.0h-1.0zM167.0 210.0h1.0v12.0h-1.0zM168.1 414.0h1.0v2.0h-1.0zM168.1 174.0h1.0v3.0h-1.0zM168.1 262.0h1.0v2.0h-1.0zM171.2 424.0h1.0v2.0h-1.0zM172.2 460.0h1.1v12.0h-1.1zM173.3 396.0h1.1v4.0h-1.1zM174.3 108.0h1.1v6.0h-1.1zM175.4 64.0h1.1v4.0h-1.1zM176.5 498.0h1.1v4.0h-1.1zM177.5 242.0h1.1v6.0h-1.1zM180.8 70.0h1.1v6.0h-1.1zM183.0 242.0h1.1v8.0h-1.1zM183.0 296.0h1.1v12.0h-1.1zM185.2 184.0h1.1v2.0h-1.1zM185.2 248.0h1.1v3.0h-1.1zM186.4 236.0h1.1v4.0h-1.1zM186.4 368.0h1.1v6.0h-1.1zM189.8 338.0h1.2v3.0h-1.2zM190.9 80.0h1.2v4.0h-1.2zM192.1 238.0h1.2v4.0h-1.2zM194.4 324.0h1.2v4.0h-1.2zM194.4 480.0h1.2v4.0h-1.2zM195.6 190.0h1.2v8.0h-1.2zM200.4 500.0h1.2v12.0h-1.2zM201.6 250.0h1.2v8.0h-1.2zM201.6 334.0h1.2v4.0h-1.2zM204.0 384.0h1.2v3.0h-1.2zM204.0 110.0h1.2v3.0h-1.2zM205.2 418.0h1.2v2.0h-1.2zM207.7 522.0h1.3v2.0h-1.3zM210.2 532.0h1.3v12.0h-1.3zM211.5 474.0h1.3v6.0h-1.3zM215.3 490.0h1.3v2.0h-1.3zM216.6 78.0h1.3v4.0h-1.3zM217.9 122.0h1.3v2.0h-1.3zM219.2 390.0h1.3v4.0h-1.3zM220.6 102.0h1.3v6.0h-1.3zM224.5 456.0h1.3v8.0h-1.3zM224.5 412.0h1.3v2.0h-1.3zM230.0 168.0h1.4v2.0h-1.4zM232.7 316.0h1.4v8.0h-1.4zM239.8 468.0h1.4v4.0h-1.4zM241.2 178.0h1.4v2.0h-1.4zM242.6 98.0h1.4v3.0h-1.4zM244.1 410.0h1.5v8.0h-1.5zM249.9 338.0h1.5v4.0h-1.5zM254.4 230.0h1.5v4.0h-1.5zM254.4 176.0h1.5v3.0h-1.5zM254.4 530.0h1.5v6.0h-1.5zM255.9 424.0h1.5v3.0h-1.5zM257.5 484.0h1.5v4.0h-1.5zM257.5 180.0h1.5v3.0h-1.5zM259.0 416.0h1.5v4.0h-1.5zM260.5 262.0h1.5v6.0h-1.5zM262.1 406.0h1.6v4.0h-1.6zM262.1 206.0h1.6v3.0h-1.6zM263.6 126.0h1.6v8.0h-1.6zM263.6 128.0h1.6v2.0h-1.6zM265.2 152.0h1.6v12.0h-1.6zM265.2 324.0h1.6v2.0h-1.6zM268.4 202.0h1.6v2.0h-1.6zM269.9 130.0h1.6v3.0h-1.6zM273.1 370.0h1.6v8.0h-1.6zM273.1 498.0h1.6v3.0h-1.6zM274.8 478.0h1.6v3.0h-1.6zM278.0 80.0h1.6v3.0h-1.6zM278.0 258.0h1.6v4.0h-1.6zM281.3 496.0h1.7v3.0h-1.7zM283.0 406.0h1.7v2.0h-1.7zM283.0 442.0h1.7v4.0h-1.7zM283.0 98.0h1.7v4.0h-1.7zM284.7 438.0h1.7v12.0h-1.7zM286.3 150.0h1.7v12.0h-1.7zM291.4 222.0h1.7v3.0h-1.7zM291.4 522.0h1.7v6.0h-1.7zM293.2 218.0h1.7v12.0h-1.7zM294.9 394.0h1.7v6.0h-1.7zM294.9 364.0h1.7v2.0h-1.7zM296.6 188.0h1.7v12.0h-1.7zM296.6 288.0h1.7v3.0h-1.7zM296.6 192.0h1.7v12.0h-1.7zM298.4 228.0h1.8v2.0h-1.8zM303.7 528.0h1.8v8.0h-1.8zM305.5 398.0h1.8v2.0h-1.8zM309.1 428.0h1.8v6.0h-1.8zM309.1 192.0h1.8v12.0h-1.8zM310.9 222.0h1.8v6.0h-1.8zM312.7 498.0h1.8v12.0h-1.8zM314.6 434.0h1.8v6.0h-1.8zM320.1 242.0h1.9v8.0h-1.9zM322.0 476.0h1.9v2.0h-1.9zM327.7 404.0h1.9v12.0h-1.9zM329.6 316.0h1.9v6.0h-1.9zM335.5 266.0h2.0v2.0h-2.0zM339.4 286.0h2.0v6.0h-2.0zM345.4 346.0h2.0v8.0h-2.0zM345.4 438.0h2.0v8.0h-2.0zM347.4 66.0h2.0v6.0h-2.0zM347.4 258.0h2.0v3.0h-2.0zM347.4 104.0h2.0v4.0h-2.0zM351.5 414.0h2.1v12.0h-2.1zM351.5 532.0h2.1v4.0h-2.1zM351.5 262.0h2.1v4.0h-2.1zM355.6 498.0h2.1v2.0h-2.1zM357.7 94.0h2.1v4.0h-2.1zM359.8 420.0h2.1v2.0h-2.1zM364.0 212.0h2.1v2.0h-2.1zM364.0 254.0h2.1v8.0h-2.1zM366.1 82.0h2.1v2.0h-2.1zM374.7 112.0h2.2v4.0h-2.2zM374.7 154.0h2.2v3.0h-2.2zM392.6 278.0h2.3v4.0h-2.3zM397.2 120.0h2.3v6.0h-2.3zM401.8 288.0h2.3v6.0h-2.3zM406.5 348.0h2.4v2.0h-2.4zM420.8 462.0h2.4v12.0h-2.4zM435.7 210.0h2.5v8.0h-2.5zM438.2 356.0h2.5v2.0h-2.5zM438.2 222.0h2.5v2.0h-2.5zM443.3 284.0h2.6v6.0h-2.6zM445.9 430.0h2.6v6.0h-2.6zM445.9 462.0h2.6v8.0h-2.6zM448.5 280.0h2.6v4.0h-2.6zM453.7 138.0h2.6v4.0h-2.6zM453.7 120.0h2.6v6.0h-2.6zM456.3 392.0h2.6v3.0h-2.6zM456.3 310.0h2.6v6.0h-2.6zM456.3 508.0h2.6v6.0h-2.6zM467.0 502.0h2.7v4.0h-2.7zM467.0 278.0h2.7v12.0h-2.7zM469.7 446.0h2.7v2.0h-2.7zM483.4 286.0h2.8v8.0h-2.8zM489.0 240.0h2.8v4.0h-2.8zM489.0 502.0h2.8v2.0h-2.8zM494.7 266.0h2.9v4.0h-2.9zM497.5 172.0h2.9v4.0h-2.9zM503.3 522.0h2.9v4.0h-2.9zM518.0 206.0h3.0v3.0h-3.0zM533.1 64.0h3.1v6.0h-3.1zM539.2 344.0h3.1v8.0h-3.1zM542.3 486.0h3.1v4.0h-3.1zM545.4 208.0h3.1v8.0h-3.1zM551.7 378.0h3.2v4.0h-3.2zM564.5 470.0h3.2v4.0h-3.2zM564.5 100.0h3.2v8.0h-3.2zM571.1 170.0h3.3v4.0h-3.3zM571.1 130.0h3.3v2.0h-3.3zM574.3 454.0h3.3v8.0h-3.3zM581.0 464.0h3.3v4.0h-3.3zM581.0 140.0h3.3v2.0h-3.3zM584.3 512.0h3.4v4.0h-3.4zM591.0 436.0h3.4v2.0h-3.4zM597.8 244.0h3.4v4.0h-3.4zM604.7 516.0h3.5v2.0h-3.5zM622.3 262.0h3.6v3.0h-3.6zM625.8 496.0h3.6v2.0h-3.6zM625.8 154.0h3.6v8.0h-3.6zM629.4 182.0h3.6v2.0h-3.6zM633.0 160.0h3.6v8.0h-3.6zM647.7 190.0h3.7v6.0h-3.7zM647.7 170.0h3.7v6.0h-3.7zM651.4 72.0h3.7v6.0h-3.7zM655.1 326.0h3.8v4.0h-3.8zM655.1 118.0h3.8v12.0h-3.8zM658.9 334.0h3.8v12.0h-3.8zM681.8 462.0h3.9v4.0h-3.9zM713.7 152.0h4.1v6.0h-4.1zM713.7 450.0h4.1v4.0h-4.1zM726.0 500.0h4.1v12.0h-4.1zM730.1 190.0h4.2v2.0h-4.2zM734.3 418.0h4.2v2.0h-4.2zM738.5 302.0h4.2v3.0h-4.2zM759.8 498.0h4.3v12.0h-4.3zM768.5 254.0h4.4v2.0h-4.4zM113.0 356.6h1.0v6.0h-1.0z"/>
<path fill="#050000" d="M69.0 456.0h1.0v2.0h-1.0zM269.9 348.0h1.6v2.0h-1.6zM276.4 436.0h1.6v2.0h-1.6zM288.0 250.0h1.7v4.0h-1.7zM289.7 370.0h1.7v12.0h-1.7zM368.3 150.0h2.1v2.0h-2.1zM558.1 452.0h3.2v3.0h-3.2z"/>
<path fill="#0a0000" d="M69.0 76.0h1.0v4.0h-1.0zM70.0 430.0h1.0v6.0h-1.0zM70.0 340.0h1.0v4.0h-1.0zM71.0 364.0h1.0v12.0h-1.0zM72.0 386.0h1.0v4.0h-1.0zM73.0 284.0h1.0v8.0h-1.0zM74.0 500.0h1.0v3.0h-1.0zM74.0 396.0h1.0v2.0h-1.0zM76.0 160.0h1.0v4.0h-1.0zM76.0 200.0h1.0v2.0h-1.0zM76.0 102.0h1.0v4.0h-1.0zM78.0 96.0h1.0v2.0h-1.0zM78.0 112.0h1.0v4.0h-1.0zM80.0 194.0h1.0v3.0h-1.0zM82.0 518.0h1.0v6.0h-1.0zM85.0 206.0h1.0v2.0h-1.0zM85.0 70.0h1.0v2.0h-1.0zM87.0 140.0h1.0v12.0h-1.0zM89.0 382.0h1.0v4.0h-1.0zM90.0 252.0h1.0v4.0h-1.0zM90.0 426.0h1.0v4.0h-1.0zM92.0 246.0h1.0v4.0h-1.0zM92.0 254.0h1.0v8.0h-1.0zM95.0 264.0h1.0v2.0h-1.0zM96.0 304.0h1.0v4.0h-1.0zM98.0 278.0h1.0v8.0h-1.0zM98.0 176.0h1.0v12.0h-1.0zM100.0 212.0h1.0v6.0h-1.0zM101.0 394.0h1.0v8.0h-1.0zM102.0 466.0h1.0v3.0h-1.0zM102.0 496.0h1.0v6.0h-1.0zM102.0 210.0h1.0v6.0h-1.0zM102.0 164.0h1.0v4.0h-1.0zM103.0 102.0h1.0v8.0h-1.0zM103.0 436.0h1.0v3.0h-1.0zM105.0 422.0h1.0v12.0h-1.0zM105.0 150.0h1.0v2.0h-1.0zM106.0 104.0h1.0v2.0h-1.0zM106.0 512.0h1.0v12.0h-1.0zM108.0 422.0h1.0v4.0h-1.0zM114.0 502.0h1.0v4.0h-1.0zM116.0 346.0h1.0v2.0h-1.0zM116.0 356.0h1.0v12.0h-1.0zM118.0 78.0h1.0v2.0h-1.0zM118.0 188.0h1.0v8.0h-1.0zM118.0 356.0h1.0v2.0h-1.0zM121.0 428.0h1.0v2.0h-1.0zM125.0 458.0h1.0v3.0h-1.0zM125.0 194.0h1.0v2.0h-1.0zM126.0 520.0h1.0v8.0h-1.0zM126.0 320.0h1.0v6.0h-1.0zM127.0 72.0h1.0v3.0h-1.0zM127.0 414.0h1.0v8.0h-1.0zM131.0 134.0h1.0v3.0h-1.0zM132.0 154.0h1.0v6.0h-1.0zM132.0 302.0h1.0v12.0h-1.0zM134.0 250.0h1.0v4.0h-1.0zM134.0 532.0h1.0v4.0h-1.0zM136.0 338.0h1.0v4.0h-1.0zM137.0 454.0h1.0v4.0h-1.0zM137.0 318.0h1.0v12.0h-1.0zM138.0 94.0h1.0v3.0h-1.0zM139.0 238.0h1.0v12.0h-1.0zM140.0 468.0h1.0v4.0h-1.0zM140.0 132.0h1.0v8.0h-1.0zM141.0 378.0h1.0v4.0h-1.0zM148.0 342.0h1.0v2.0h-1.0zM148.0 154.0h1.0v12.0h-1.0zM148.0 128.0h1.0v8.0h-1.0zM151.0 212.0h1.0v2.0h-1.0zM153.0 320.0h1.0v3.0h-1.0zM154.0 334.0h1.0v12.0h-1.0zM155.0 176.0h1.0v4.0h-1.0zM155.0 486.0h1.0v8.0h-1.0zM155.0 230.0h1.0v4.0h-1.0zM156.0 526.0h1.0v12.0h-1.0zM156.0 156.0h1.0v2.0h-1.0zM159.0 340.0h1.0v4.0h-1.0zM161.0 530.0h1.0v4.0h-1.0zM161.0 144.0h1.0v2.0h-1.0zM162.0 280.0h1.0v8.0h-1.0zM162.0 502.0h1.0v12.0h-1.0zM164.0 156.0h1.0v2.0h-1.0zM164.0 272.0h1.0v3.0h-1.0zM165.0 184.0h1.0v2.0h-1.0zM167.0 240.0h1.0v4.0h-1.0zM167.0 296.0h1.0v12.0h-1.0zM167.0 392.0h1.0v2.0h-1.0zM169.1 220.0h1.0v4.0h-1.0zM173.3 406.0h1.1v8.0h-1.1zM174.3 124.0h1.1v6.0h-1.1zM174.3 350.0h1.1v3.0h-1.1zM175.4 416.0h1.1v12.0h-1.1zM177.5 102.0h1.1v8.0h-1.1zM177.5 296.0h1.1v4.0h-1.1zM179.7 496.0h1.1v8.0h-1.1zM180.8 214.0h1.1v4.0h-1.1zM184.1 182.0h1.1v4.0h-1.1zM184.1 308.0h1.1v8.0h-1.1zM186.4 416.0h1.1v12.0h-1.1zM186.4 396.0h1.1v3.0h-1.1zM187.5 450.0h1.1v4.0h-1.1zM187.5 464.0h1.1v12.0h-1.1zM190.9 504.0h1.2v3.0h-1.2zM192.1 318.0h1.2v12.0h-1.2zM193.2 472.0h1.2v12.0h-1.2zM194.4 266.0h1.2v3.0h-1.2zM195.6 84.0h1.2v2.0h-1.2zM196.8 378.0h1.2v2.0h-1.2zM199.2 380.0h1.2v4.0h-1.2zM199.2 70.0h1.2v4.0h-1.2zM199.2 304.0h1.2v2.0h-1.2zM201.6 488.0h1.2v2.0h-1.2zM204.0 226.0h1.2v8.0h-1.2zM205.2 212.0h1.2v4.0h-1.2zM205.2 478.0h1.2v6.0h-1.2zM211.5 532.0h1.3v2.0h-1.3zM214.1 164.0h1.3v4.0h-1.3zM214.1 258.0h1.3v8.0h-1.3zM221.9 282.0h1.3v6.0h-1.3zM221.9 380.0h1.3v2.0h-1.3zM223.2 370.0h1.3v2.0h-1.3zM225.9 486.0h1.4v2.0h-1.4zM227.2 92.0h1.4v4.0h-1.4zM227.2 376.0h1.4v4.0h-1.4zM227.2 228.0h1.4v4.0h-1.4zM230.0 410.0h1.4v8.0h-1.4zM231.4 258.0h1.4v2.0h-1.4zM234.1 186.0h1.4v4.0h-1.4zM234.1 264.0h1.4v12.0h-1.4zM235.5 208.0h1.4v2.0h-1.4zM235.5 310.0h1.4v6.0h-1.4zM236.9 380.0h1.4v6.0h-1.4zM236.9 208.0h1.4v12.0h-1.4zM238.3 62.0h1.4v6.0h-1.4zM238.3 202.0h1.4v2.0h-1.4zM239.8 296.0h1.4v6.0h-1.4zM239.8 470.0h1.4v8.0h-1.4zM241.2 332.0h1.4v2.0h-1.4zM244.1 384.0h1.5v2.0h-1.5zM247.0 394.0h1.5v8.0h-1.5zM247.0 160.0h1.5v8.0h-1.5zM248.5 460.0h1.5v2.0h-1.5zM252.9 292.0h1.5v4.0h-1.5zM252.9 206.0h1.5v3.0h-1.5zM255.9 388.0h1.5v6.0h-1.5zM255.9 468.0h1.5v4.0h-1.5zM257.5 290.0h1.5v4.0h-1.5zM260.5 434.0h1.5v4.0h-1.5zM263.6 310.0h1.6v3.0h-1.6zM266.8 292.0h1.6v6.0h-1.6zM268.4 426.0h1.6v3.0h-1.6zM276.4 386.0h1.6v4.0h-1.6zM278.0 378.0h1.6v2.0h-1.6zM278.0 532.0h1.6v8.0h-1.6zM279.7 524.0h1.7v2.0h-1.7zM279.7 298.0h1.7v8.0h-1.7zM286.3 70.0h1.7v8.0h-1.7zM288.0 194.0h1.7v2.0h-1.7zM289.7 164.0h1.7v12.0h-1.7zM291.4 284.0h1.7v6.0h-1.7zM294.9 504.0h1.7v6.0h-1.7zM294.9 324.0h1.7v8.0h-1.7zM300.1 202.0h1.8v3.0h-1.8zM301.9 472.0h1.8v3.0h-1.8zM307.3 390.0h1.8v8.0h-1.8zM307.3 282.0h1.8v3.0h-1.8zM307.3 368.0h1.8v2.0h-1.8zM310.9 196.0h1.8v6.0h-1.8zM310.9 266.0h1.8v8.0h-1.8zM310.9 310.0h1.8v8.0h-1.8zM314.6 524.0h1.8v12.0h-1.8zM318.3 470.0h1.9v8.0h-1.9zM318.3 100.0h1.9v3.0h-1.9zM320.1 282.0h1.9v2.0h-1.9zM327.7 412.0h1.9v4.0h-1.9zM327.7 160.0h1.9v4.0h-1.9zM329.6 258.0h1.9v8.0h-1.9zM343.4 460.0h2.0v2.0h-2.0zM366.1 366.0h2.1v3.0h-2.1zM368.3 298.0h2.1v4.0h-2.1zM370.4 122.0h2.2v8.0h-2.2zM370.4 166.0h2.2v8.0h-2.2zM376.9 62.0h2.2v4.0h-2.2zM376.9 530.0h2.2v2.0h-2.2zM381.3 348.0h2.2v4.0h-2.2zM385.8 190.0h2.2v2.0h-2.2zM392.6 236.0h2.3v2.0h-2.3zM394.9 320.0h2.3v6.0h-2.3zM394.9 136.0h2.3v2.0h-2.3zM406.5 162.0h2.4v12.0h-2.4zM408.8 262.0h2.4v2.0h-2.4zM411.2 494.0h2.4v3.0h-2.4zM411.2 296.0h2.4v4.0h-2.4zM418.4 88.0h2.4v2.0h-2.4zM420.8 154.0h2.4v2.0h-2.4zM423.3 524.0h2.5v4.0h-2.5zM433.2 204.0h2.5v12.0h-2.5zM435.7 98.0h2.5v2.0h-2.5zM435.7 276.0h2.5v12.0h-2.5zM440.8 144.0h2.6v3.0h-2.6zM440.8 532.0h2.6v4.0h-2.6zM451.1 344.0h2.6v12.0h-2.6zM459.0 210.0h2.7v6.0h-2.7zM459.0 208.0h2.7v3.0h-2.7zM459.0 340.0h2.7v8.0h-2.7zM461.6 146.0h2.7v6.0h-2.7zM461.6 270.0h2.7v4.0h-2.7zM461.6 404.0h2.7v2.0h-2.7zM464.3 102.0h2.7v4.0h-2.7zM464.3 274.0h2.7v6.0h-2.7zM477.9 62.0h2.8v4.0h-2.8zM480.6 108.0h2.8v12.0h-2.8zM486.2 488.0h2.8v4.0h-2.8zM486.2 486.0h2.8v12.0h-2.8zM491.8 118.0h2.8v12.0h-2.8zM491.8 190.0h2.8v2.0h-2.8zM506.2 414.0h2.9v2.0h-2.9zM509.1 480.0h2.9v2.0h-2.9zM509.1 246.0h2.9v12.0h-2.9zM515.0 168.0h3.0v4.0h-3.0zM520.9 220.0h3.0v2.0h-3.0zM524.0 94.0h3.0v12.0h-3.0zM527.0 458.0h3.0v6.0h-3.0zM530.0 62.0h3.1v6.0h-3.1zM530.0 294.0h3.1v12.0h-3.1zM536.1 532.0h3.1v8.0h-3.1zM536.1 190.0h3.1v2.0h-3.1zM539.2 414.0h3.1v2.0h-3.1zM542.3 334.0h3.1v4.0h-3.1zM564.5 156.0h3.2v2.0h-3.2zM567.8 418.0h3.3v12.0h-3.3zM577.6 170.0h3.3v4.0h-3.3zM577.6 200.0h3.3v12.0h-3.3zM577.6 500.0h3.3v12.0h-3.3zM584.3 472.0h3.4v2.0h-3.4zM587.7 106.0h3.4v4.0h-3.4zM601.3 406.0h3.5v4.0h-3.5zM601.3 174.0h3.5v12.0h-3.5zM644.0 174.0h3.7v2.0h-3.7zM658.9 510.0h3.8v4.0h-3.8zM666.4 62.0h3.8v2.0h-3.8zM678.0 242.0h3.9v2.0h-3.9zM693.6 492.0h4.0v12.0h-4.0zM693.6 364.0h4.0v12.0h-4.0zM742.7 112.0h4.2v2.0h-4.2zM755.5 120.0h4.3v4.0h-4.3zM764.2 294.0h4.4v8.0h-4.4zM777.3 480.0h4.4v2.0h-4.4z"/>
<path fill="#1a0000" d="M71.0 374.0h1.0v12.0h-1.0zM71.0 192.0h1.0v2.0h-1.0zM78.0 134.0h1.0v4.0h-1.0zM81.0 344.0h1.0v2.0h-1.0zM88.0 358.0h1.0v12.0h-1.0zM90.0 430.0h1.0v2.0h-1.0zM90.0 114.0h1.0v2.0h-1.0zM91.0 400.0h1.0v12.0h-1.0zM91.0 188.0h1.0v6.0h-1.0zM92.0 274.0h1.0v4.0h-1.0zM99.0 266.0h1.0v12.0h-1.0zM99.0 210.0h1.0v4.0h-1.0zM100.0 302.0h1.0v4.0h-1.0zM103.0 484.0h1.0v3.0h-1.0zM106.0 460.0h1.0v4.0h-1.0zM109.0 424.0h1.0v3.0h-1.0zM109.0 440.0h1.0v4.0h-1.0zM110.0 304.0h1.0v12.0h-1.0zM111.0 70.0h1.0v2.0h-1.0zM111.0 300.0h1.0v4.0h-1.0zM118.0 298.0h1.0v4.0h-1.0zM119.0 94.0h1.0v2.0h-1.0zM119.0 136.0h1.0v4.0h-1.0zM122.0 494.0h1.0v2.0h-1.0zM124.0 232.0h1.0v8.0h-1.0zM124.0 328.0h1.0v8.0h-1.0zM128.0 124.0h1.0v12.0h-1.0zM128.0 354.0h1.0v2.0h-1.0zM129.0 102.0h1.0v12.0h-1.0zM129.0 64.0h1.0v2.0h-1.0zM130.0 532.0h1.0v8.0h-1.0zM131.0 408.0h1.0v4.0h-1.0zM133.0 250.0h1.0v4.0h-1.0zM136.0 390.0h1.0v2.0h-1.0zM138.0 378.0h1.0v12.0h-1.0zM144.0 424.0h1.0v4.0h-1.0zM147.0 138.0h1.0v2.0h-1.0zM157.0 458.0h1.0v6.0h-1.0zM157.0 66.0h1.0v4.0h-1.0zM165.0 266.0h1.0v12.0h-1.0zM166.0 340.0h1.0v2.0h-1.0zM169.1 136.0h1.0v2.0h-1.0zM172.2 246.0h1.1v4.0h-1.1zM172.2 78.0h1.1v3.0h-1.1zM178.6 426.0h1.1v6.0h-1.1zM178.6 398.0h1.1v2.0h-1.1zM179.7 288.0h1.1v4.0h-1.1zM179.7 466.0h1.1v4.0h-1.1zM180.8 338.0h1.1v12.0h-1.1zM181.9 96.0h1.1v2.0h-1.1zM189.8 378.0h1.2v4.0h-1.2zM193.2 126.0h1.2v8.0h-1.2zM206.5 264.0h1.2v4.0h-1.2zM206.5 480.0h1.2v6.0h-1.2zM210.2 148.0h1.3v12.0h-1.3zM210.2 114.0h1.3v2.0h-1.3zM219.2 256.0h1.3v3.0h-1.3zM219.2 486.0h1.3v4.0h-1.3zM223.2 90.0h1.3v12.0h-1.3zM224.5 480.0h1.3v8.0h-1.3zM232.7 486.0h1.4v4.0h-1.4zM234.1 286.0h1.4v6.0h-1.4zM236.9 306.0h1.4v12.0h-1.4zM239.8 340.0h1.4v8.0h-1.4zM244.1 432.0h1.5v12.0h-1.5zM245.5 240.0h1.5v12.0h-1.5zM245.5 114.0h1.5v6.0h-1.5zM252.9 418.0h1.5v2.0h-1.5zM265.2 108.0h1.6v3.0h-1.6zM271.5 92.0h1.6v4.0h-1.6zM271.5 220.0h1.6v6.0h-1.6zM271.5 82.0h1.6v6.0h-1.6zM273.1 308.0h1.6v6.0h-1.6zM274.8 216.0h1.6v4.0h-1.6zM284.7 136.0h1.7v6.0h-1.7zM291.4 464.0h1.7v6.0h-1.7zM293.2 128.0h1.7v8.0h-1.7zM293.2 382.0h1.7v3.0h-1.7zM300.1 526.0h1.8v3.0h-1.8zM300.1 448.0h1.8v4.0h-1.8zM301.9 366.0h1.8v8.0h-1.8zM303.7 180.0h1.8v4.0h-1.8zM303.7 356.0h1.8v3.0h-1.8zM309.1 314.0h1.8v4.0h-1.8zM309.1 76.0h1.8v2.0h-1.8zM314.6 424.0h1.8v2.0h-1.8zM318.3 252.0h1.9v4.0h-1.9zM322.0 472.0h1.9v8.0h-1.9zM331.6 494.0h1.9v2.0h-1.9zM351.5 248.0h2.1v4.0h-2.1zM351.5 112.0h2.1v6.0h-2.1zM353.6 130.0h2.1v8.0h-2.1zM357.7 144.0h2.1v2.0h-2.1zM359.8 156.0h2.1v2.0h-2.1zM359.8 136.0h2.1v12.0h-2.1zM361.9 80.0h2.1v4.0h-2.1zM361.9 478.0h2.1v4.0h-2.1zM361.9 400.0h2.1v3.0h-2.1zM374.7 346.0h2.2v2.0h-2.2zM374.7 150.0h2.2v2.0h-2.2zM374.7 140.0h2.2v8.0h-2.2zM381.3 180.0h2.2v2.0h-2.2zM385.8 154.0h2.2v6.0h-2.2zM385.8 60.0h2.2v2.0h-2.2zM385.8 60.0h2.2v6.0h-2.2zM390.3 118.0h2.3v3.0h-2.3zM390.3 380.0h2.3v6.0h-2.3zM397.2 236.0h2.3v6.0h-2.3zM406.5 506.0h2.4v6.0h-2.4zM413.6 146.0h2.4v2.0h-2.4zM438.2 324.0h2.5v2.0h-2.5zM469.7 258.0h2.7v2.0h-2.7zM475.1 236.0h2.7v12.0h-2.7zM494.7 242.0h2.9v12.0h-2.9zM503.3 426.0h2.9v4.0h-2.9zM518.0 382.0h3.0v2.0h-3.0zM518.0 472.0h3.0v3.0h-3.0zM533.1 488.0h3.1v8.0h-3.1zM548.6 330.0h3.2v12.0h-3.2zM597.8 258.0h3.4v2.0h-3.4zM601.3 224.0h3.5v12.0h-3.5zM604.7 194.0h3.5v2.0h-3.5zM604.7 180.0h3.5v3.0h-3.5zM618.7 100.0h3.5v8.0h-3.5zM629.4 502.0h3.6v4.0h-3.6zM640.3 410.0h3.7v2.0h-3.7zM662.6 516.0h3.8v2.0h-3.8zM689.7 534.0h3.9v2.0h-3.9zM721.9 286.0h4.1v4.0h-4.1zM726.0 288.0h4.1v2.0h-4.1zM772.9 304.0h4.4v3.0h-4.4zM777.3 212.0h4.4v8.0h-4.4zM243.0 291.9h1.4v14.0h-1.4zM243.0 497.0h1.4v8.0h-1.4zM247.0 448.2h1.5v6.0h-1.5zM303.0 364.7h1.8v8.0h-1.8zM303.0 493.6h1.8v4.0h-1.8zM303.0 521.0h1.8v4.0h-1.8zM303.0 535.7h1.8v14.0h-1.8zM330.0 496.2h1.9v8.0h-1.9zM330.0 78.3h1.9v14.0h-1.9zM330.0 454.8h1.9v10.0h-1.9zM330.0 79.4h1.9v10.0h-1.9zM330.0 163.1h1.9v4.0h-1.9zM339.0 488.2h2.0v14.0h-2.0zM339.0 506.0h2.0v10.0h-2.0zM339.0 463.5h2.0v4.0h-2.0zM436.0 162.8h2.5v6.0h-2.5zM436.0 286.3h2.5v14.0h-2.5zM436.0 295.1h2.5v4.0h-2.5zM441.0 366.4h2.6v6.0h-2.6zM441.0 211.7h2.6v14.0h-2.6zM441.0 454.8h2.6v4.0h-2.6zM441.0 249.3h2.6v10.0h-2.6zM441.0 445.8h2.6v8.0h-2.6zM441.0 72.8h2.6v6.0h-2.6zM441.0 113.0h2.6v14.0h-2.6zM497.0 279.9h2.9v10.0h-2.9zM497.0 94.7h2.9v14.0h-2.9zM545.0 288.1h3.1v10.0h-3.1zM545.0 400.0h3.1v4.0h-3.1zM545.0 245.4h3.1v10.0h-3.1zM545.0 157.6h3.1v14.0h-3.1zM607.0 109.5h3.5v14.0h-3.5zM607.0 169.3h3.5v10.0h-3.5zM607.0 65.3h3.5v10.0h-3.5zM607.0 146.3h3.5v14.0h-3.5zM640.0 230.8h3.7v10.0h-3.7zM640.0 418.6h3.7v14.0h-3.7zM712.0 202.9h4.1v8.0h-4.1zM712.0 133.7h4.1v10.0h-4.1zM712.0 344.6h4.1v8.0h-4.1zM712.0 219.4h4.1v14.0h-4.1zM712.0 477.1h4.1v8.0h-4.1zM716.0 288.3h4.1v14.0h-4.1zM716.0 316.6h4.1v6.0h-4.1zM716.0 181.2h4.1v14.0h-4.1zM160.0 68.8h1.0v4.0h-1.0zM160.0 482.2h1.0v6.0h-1.0zM173.0 506.4h1.1v8.0h-1.1zM113.0 210.1h1.0v10.0h-1.0zM113.0 87.8h1.0v6.0h-1.0zM113.0 300.9h1.0v10.0h-1.0z"/>
<path fill="#240000" d="M72.0 90.0h1.0v2.0h-1.0zM74.0 66.0h1.0v8.0h-1.0zM76.0 428.0h1.0v6.0h-1.0zM100.0 408.0h1.0v2.0h-1.0zM101.0 238.0h1.0v8.0h-1.0zM108.0 300.0h1.0v6.0h-1.0zM108.0 414.0h1.0v3.0h-1.0zM113.0 244.0h1.0v3.0h-1.0zM125.0 102.0h1.0v12.0h-1.0zM126.0 336.0h1.0v4.0h-1.0zM133.0 320.0h1.0v12.0h-1.0zM134.0 438.0h1.0v4.0h-1.0zM137.0 258.0h1.0v2.0h-1.0zM145.0 510.0h1.0v4.0h-1.0zM150.0 290.0h1.0v12.0h-1.0zM150.0 490.0h1.0v8.0h-1.0zM156.0 214.0h1.0v3.0h-1.0zM161.0 316.0h1.0v8.0h-1.0zM165.0 350.0h1.0v12.0h-1.0zM166.0 262.0h1.0v6.0h-1.0zM166.0 356.0h1.0v4.0h-1.0zM178.6 222.0h1.1v8.0h-1.1zM180.8 86.0h1.1v12.0h-1.1zM184.1 174.0h1.1v12.0h-1.1zM190.9 134.0h1.2v2.0h-1.2zM193.2 166.0h1.2v8.0h-1.2zM193.2 390.0h1.2v4.0h-1.2zM196.8 220.0h1.2v3.0h-1.2zM196.8 74.0h1.2v6.0h-1.2zM211.5 158.0h1.3v2.0h-1.3zM225.9 66.0h1.4v6.0h-1.4zM225.9 226.0h1.4v2.0h-1.4zM234.1 234.0h1.4v8.0h-1.4zM241.2 248.0h1.4v4.0h-1.4zM241.2 130.0h1.4v3.0h-1.4zM242.6 366.0h1.4v2.0h-1.4zM244.1 336.0h1.5v2.0h-1.5zM245.5 212.0h1.5v2.0h-1.5zM259.0 438.0h1.5v3.0h-1.5zM266.8 512.0h1.6v3.0h-1.6zM300.1 176.0h1.8v4.0h-1.8zM301.9 372.0h1.8v12.0h-1.8zM316.4 390.0h1.9v12.0h-1.9zM322.0 204.0h1.9v4.0h-1.9zM347.4 142.0h2.0v3.0h-2.0zM353.6 532.0h2.1v2.0h-2.1zM357.7 146.0h2.1v4.0h-2.1zM359.8 76.0h2.1v3.0h-2.1zM381.3 358.0h2.2v6.0h-2.2zM390.3 76.0h2.3v8.0h-2.3zM408.8 250.0h2.4v4.0h-2.4zM418.4 220.0h2.4v8.0h-2.4zM451.1 518.0h2.6v4.0h-2.6zM464.3 240.0h2.7v12.0h-2.7zM475.1 80.0h2.7v12.0h-2.7zM486.2 410.0h2.8v4.0h-2.8zM506.2 500.0h2.9v8.0h-2.9zM587.7 118.0h3.4v2.0h-3.4zM587.7 412.0h3.4v12.0h-3.4zM644.0 430.0h3.7v3.0h-3.7zM662.6 168.0h3.8v4.0h-3.8zM678.0 68.0h3.9v4.0h-3.9zM738.5 100.0h4.2v2.0h-4.2zM755.5 68.0h4.3v2.0h-4.3zM100.7 424.7h1.0v6.0h-1.0zM404.1 300.5h2.3v6.0h-2.3zM481.2 488.0h2.8v6.0h-2.8zM455.3 433.9h2.6v2.0h-2.6zM636.8 192.3h3.7v3.0h-3.7zM242.7 134.2h1.4v4.0h-1.4zM731.8 157.7h4.2v6.0h-4.2zM189.2 277.8h1.1v4.0h-1.1zM416.7 460.6h2.4v3.0h-2.4zM300.6 88.1h1.8v4.0h-1.8zM523.1 431.1h3.0v2.0h-3.0zM270.9 387.6h1.6v6.0h-1.6zM786.0 313.1h4.5v4.0h-4.5zM455.8 384.1h2.6v6.0h-2.6zM640.0 358.4h3.7v4.0h-3.7zM375.7 310.0h2.2v3.0h-2.2zM352.5 419.1h2.1v6.0h-2.1zM432.5 388.9h2.5v2.0h-2.5zM209.9 438.0h1.3v6.0h-1.3zM536.2 145.0h3.1v3.0h-3.1zM756.2 194.2h4.3v2.0h-4.3zM641.6 355.6h3.7v4.0h-3.7zM592.1 328.4h3.4v6.0h-3.4zM534.0 515.4h3.1v4.0h-3.1zM411.2 469.6h2.4v4.0h-2.4zM392.4 83.1h2.3v2.0h-2.3zM420.2 268.3h2.4v4.0h-2.4zM312.9 211.9h1.8v3.0h-1.8zM555.4 96.7h3.2v2.0h-3.2zM277.8 117.4h1.6v3.0h-1.6zM500.0 449.6h2.9v2.0h-2.9zM487.4 207.6h2.8v6.0h-2.8zM277.2 358.5h1.6v6.0h-1.6zM227.0 254.9h1.4v6.0h-1.4zM69.1 150.6h1.0v3.0h-1.0zM173.2 519.8h1.1v6.0h-1.1zM670.0 288.1h3.8v6.0h-3.8zM640.8 78.8h3.7v4.0h-3.7zM581.5 362.4h3.3v4.0h-3.3zM556.9 283.0h3.2v6.0h-3.2zM652.7 377.4h3.7v3.0h-3.7zM719.0 436.5h4.1v4.0h-4.1zM653.8 117.9h3.7v4.0h-3.7zM327.5 314.0h1.9v2.0h-1.9zM421.6 507.6h2.4v2.0h-2.4zM489.1 404.6h2.8v2.0h-2.8zM488.9 63.1h2.8v3.0h-2.8zM570.3 228.6h3.3v6.0h-3.3zM442.0 86.2h2.6v6.0h-2.6zM160.4 312.0h1.0v2.0h-1.0zM210.4 333.9h1.3v3.0h-1.3zM668.0 469.2h3.8v2.0h-3.8zM193.7 463.6h1.2v4.0h-1.2zM113.0 272.2h1.0v4.0h-1.0zM113.0 208.5h1.0v6.0h-1.0z"/>
<path fill="#330000" d="M75.0 160.0h1.0v8.0h-1.0zM104.0 154.0h1.0v6.0h-1.0zM104.0 536.0h1.0v4.0h-1.0zM107.0 362.0h1.0v2.0h-1.0zM115.0 402.0h1.0v4.0h-1.0zM115.0 176.0h1.0v2.0h-1.0zM117.0 114.0h1.0v4.0h-1.0zM120.0 414.0h1.0v2.0h-1.0zM135.0 490.0h1.0v12.0h-1.0zM142.0 152.0h1.0v2.0h-1.0zM143.0 158.0h1.0v3.0h-1.0zM143.0 250.0h1.0v6.0h-1.0zM149.0 224.0h1.0v8.0h-1.0zM158.0 96.0h1.0v4.0h-1.0zM163.0 270.0h1.0v4.0h-1.0zM163.0 292.0h1.0v4.0h-1.0zM170.1 224.0h1.0v3.0h-1.0zM170.1 272.0h1.0v3.0h-1.0zM188.6 218.0h1.1v4.0h-1.1zM188.6 412.0h1.1v4.0h-1.1zM198.0 148.0h1.2v4.0h-1.2zM202.8 404.0h1.2v4.0h-1.2zM207.7 376.0h1.3v8.0h-1.3zM212.8 94.0h1.3v12.0h-1.3zM212.8 86.0h1.3v2.0h-1.3zM216.6 158.0h1.3v6.0h-1.3zM217.9 118.0h1.3v4.0h-1.3zM220.6 192.0h1.3v2.0h-1.3zM220.6 238.0h1.3v6.0h-1.3zM228.6 124.0h1.4v2.0h-1.4zM249.9 414.0h1.5v3.0h-1.5zM281.3 502.0h1.7v3.0h-1.7zM281.3 172.0h1.7v4.0h-1.7zM283.0 118.0h1.7v12.0h-1.7zM283.0 96.0h1.7v4.0h-1.7zM298.4 368.0h1.8v12.0h-1.8zM305.5 480.0h1.8v12.0h-1.8zM312.7 100.0h1.8v3.0h-1.8zM333.5 418.0h2.0v6.0h-2.0zM337.4 336.0h2.0v4.0h-2.0zM339.4 220.0h2.0v4.0h-2.0zM339.4 368.0h2.0v6.0h-2.0zM341.4 426.0h2.0v6.0h-2.0zM372.6 476.0h2.2v6.0h-2.2zM379.1 122.0h2.2v8.0h-2.2zM388.0 400.0h2.3v4.0h-2.3zM388.0 288.0h2.3v12.0h-2.3zM388.0 386.0h2.3v3.0h-2.3zM399.5 348.0h2.3v2.0h-2.3zM404.1 106.0h2.3v4.0h-2.3zM416.0 490.0h2.4v2.0h-2.4zM416.0 300.0h2.4v3.0h-2.4zM416.0 140.0h2.4v6.0h-2.4zM416.0 140.0h2.4v4.0h-2.4zM428.2 210.0h2.5v2.0h-2.5zM445.9 82.0h2.6v3.0h-2.6zM453.7 494.0h2.6v12.0h-2.6zM456.3 72.0h2.6v6.0h-2.6zM467.0 106.0h2.7v4.0h-2.7zM472.4 168.0h2.7v2.0h-2.7zM483.4 202.0h2.8v2.0h-2.8zM512.0 88.0h3.0v2.0h-3.0zM545.4 226.0h3.1v4.0h-3.1zM545.4 430.0h3.1v3.0h-3.1zM554.9 498.0h3.2v4.0h-3.2zM611.7 156.0h3.5v12.0h-3.5zM611.7 198.0h3.5v8.0h-3.5zM611.7 472.0h3.5v4.0h-3.5zM622.3 454.0h3.6v2.0h-3.6zM622.3 272.0h3.6v3.0h-3.6zM713.7 66.0h4.1v2.0h-4.1zM717.8 502.0h4.1v2.0h-4.1zM751.2 416.0h4.3v8.0h-4.3zM243.0 209.3h1.4v14.0h-1.4zM243.0 434.3h1.4v4.0h-1.4zM243.0 485.1h1.4v10.0h-1.4zM247.0 414.3h1.5v10.0h-1.5zM247.0 480.3h1.5v6.0h-1.5zM247.0 479.9h1.5v8.0h-1.5zM256.0 485.2h1.5v8.0h-1.5zM256.0 81.2h1.5v6.0h-1.5zM257.3 437.8h1.5v8.0h-1.5zM257.3 421.3h1.5v4.0h-1.5zM330.0 294.0h1.9v14.0h-1.9zM339.0 66.4h2.0v6.0h-2.0zM339.0 260.7h2.0v14.0h-2.0zM339.0 272.4h2.0v8.0h-2.0zM339.0 423.7h2.0v4.0h-2.0zM436.0 470.7h2.5v14.0h-2.5zM441.0 263.3h2.6v4.0h-2.6zM441.0 324.8h2.6v10.0h-2.6zM441.0 223.4h2.6v10.0h-2.6zM480.0 478.4h2.8v10.0h-2.8zM480.0 428.3h2.8v6.0h-2.8zM480.0 468.7h2.8v14.0h-2.8zM497.0 491.6h2.9v6.0h-2.9zM545.0 230.8h3.1v8.0h-3.1zM545.0 312.9h3.1v8.0h-3.1zM603.0 97.0h3.5v14.0h-3.5zM603.0 453.7h3.5v10.0h-3.5zM603.0 226.4h3.5v14.0h-3.5zM607.0 461.8h3.5v10.0h-3.5zM611.0 141.9h3.5v14.0h-3.5zM611.0 72.8h3.5v8.0h-3.5zM703.0 110.0h4.0v6.0h-4.0zM703.0 410.9h4.0v4.0h-4.0zM703.0 192.5h4.0v4.0h-4.0zM716.0 184.5h4.1v4.0h-4.1zM716.0 329.5h4.1v4.0h-4.1zM716.0 348.4h4.1v14.0h-4.1zM160.0 106.0h1.0v14.0h-1.0zM160.0 442.1h1.0v14.0h-1.0zM160.0 477.8h1.0v6.0h-1.0zM173.0 443.3h1.1v8.0h-1.1zM173.0 401.5h1.1v4.0h-1.1zM173.0 369.4h1.1v6.0h-1.1zM173.0 481.5h1.1v14.0h-1.1z"/>
<path fill="#2e0000" d="M77.0 516.0h1.0v12.0h-1.0zM129.0 466.0h1.0v8.0h-1.0zM144.0 302.0h1.0v4.0h-1.0zM147.0 346.0h1.0v2.0h-1.0zM147.0 420.0h1.0v6.0h-1.0zM147.0 74.0h1.0v3.0h-1.0zM157.0 450.0h1.0v4.0h-1.0zM181.9 328.0h1.1v4.0h-1.1zM181.9 74.0h1.1v4.0h-1.1zM185.2 356.0h1.1v12.0h-1.1zM206.5 254.0h1.2v3.0h-1.2zM210.2 250.0h1.3v3.0h-1.3zM210.2 170.0h1.3v3.0h-1.3zM224.5 446.0h1.3v12.0h-1.3zM254.4 292.0h1.5v12.0h-1.5zM273.1 274.0h1.6v4.0h-1.6zM293.2 302.0h1.7v4.0h-1.7zM397.2 324.0h2.3v4.0h-2.3zM425.7 282.0h2.5v4.0h-2.5zM425.7 388.0h2.5v3.0h-2.5zM469.7 156.0h2.7v8.0h-2.7zM469.7 200.0h2.7v4.0h-2.7zM548.6 122.0h3.2v2.0h-3.2zM548.6 456.0h3.2v3.0h-3.2zM581.0 478.0h3.3v6.0h-3.3zM697.6 236.0h4.0v4.0h-4.0zM697.6 434.0h4.0v12.0h-4.0zM726.0 154.0h4.1v12.0h-4.1zM772.9 462.0h4.4v4.0h-4.4zM235.6 430.4h1.4v6.0h-1.4zM433.4 440.8h2.5v3.0h-2.5zM776.9 453.9h4.4v2.0h-4.4zM117.9 196.1h1.0v6.0h-1.0zM504.6 263.8h2.9v3.0h-2.9zM286.3 391.4h1.7v4.0h-1.7zM217.7 187.0h1.3v6.0h-1.3zM117.2 201.3h1.0v2.0h-1.0zM741.6 403.6h4.2v4.0h-4.2zM215.8 422.6h1.3v4.0h-1.3zM321.1 336.0h1.9v4.0h-1.9zM640.1 227.8h3.7v6.0h-3.7zM740.3 211.3h4.2v6.0h-4.2zM482.8 414.9h2.8v4.0h-2.8zM519.1 238.6h3.0v3.0h-3.0zM555.6 419.1h3.2v2.0h-3.2zM730.9 290.2h4.2v6.0h-4.2zM459.4 408.6h2.7v6.0h-2.7zM189.6 488.2h1.1v2.0h-1.1zM435.4 255.4h2.5v4.0h-2.5zM688.8 141.2h3.9v3.0h-3.9zM396.9 294.5h2.3v4.0h-2.3zM97.6 366.9h1.0v4.0h-1.0zM152.1 414.0h1.0v2.0h-1.0zM365.2 465.7h2.1v4.0h-2.1zM348.7 288.4h2.0v4.0h-2.0zM771.5 460.4h4.4v6.0h-4.4zM281.9 279.7h1.7v3.0h-1.7zM780.4 397.8h4.5v4.0h-4.5zM298.5 85.4h1.8v2.0h-1.8zM504.6 182.2h2.9v6.0h-2.9zM325.9 186.1h1.9v3.0h-1.9zM378.2 205.4h2.2v6.0h-2.2zM524.0 329.1h3.0v3.0h-3.0zM238.0 333.5h1.4v6.0h-1.4zM295.2 248.9h1.7v6.0h-1.7zM673.0 273.1h3.9v6.0h-3.9zM727.3 180.3h4.2v3.0h-4.2zM692.4 443.6h4.0v4.0h-4.0zM272.7 281.9h1.6v4.0h-1.6zM627.3 226.9h3.6v4.0h-3.6zM94.8 238.9h1.0v6.0h-1.0zM713.8 136.7h4.1v2.0h-4.1zM115.8 86.2h1.0v2.0h-1.0zM640.3 506.2h3.7v3.0h-3.7zM783.3 76.3h4.5v4.0h-4.5zM542.4 83.7h3.1v2.0h-3.1zM438.0 392.5h2.5v3.0h-2.5zM129.4 326.3h1.0v2.0h-1.0zM309.0 226.0h1.8v3.0h-1.8zM598.4 234.2h3.4v2.0h-3.4zM239.3 184.8h1.4v3.0h-1.4zM561.5 482.5h3.2v2.0h-3.2zM72.5 226.1h1.0v2.0h-1.0zM384.0 164.2h2.2v2.0h-2.2zM770.8 519.4h4.4v2.0h-4.4zM113.0 222.1h1.0v14.0h-1.0z"/>
<path fill="#4c0000" d="M591.5 423.8h3.4v3.0h-3.4zM398.9 362.4h2.3v6.0h-2.3zM545.2 502.8h3.1v4.0h-3.1zM619.5 528.4h3.6v6.0h-3.6zM101.5 509.4h1.0v3.0h-1.0zM251.7 283.4h1.5v2.0h-1.5zM205.2 244.5h1.2v6.0h-1.2zM208.5 265.6h1.3v3.0h-1.3zM672.6 494.8h3.9v6.0h-3.9zM764.8 291.9h4.4v2.0h-4.4zM206.1 518.2h1.2v3.0h-1.2zM142.9 506.7h1.0v6.0h-1.0zM477.9 438.8h2.8v6.0h-2.8zM391.1 381.2h2.3v6.0h-2.3zM600.8 356.5h3.4v4.0h-3.4zM595.7 426.7h3.4v6.0h-3.4zM736.4 352.5h4.2v4.0h-4.2zM593.1 377.5h3.4v3.0h-3.4zM734.8 368.6h4.2v4.0h-4.2zM126.8 458.2h1.0v3.0h-1.0zM475.0 99.5h2.7v6.0h-2.7zM770.2 279.3h4.4v3.0h-4.4zM526.2 435.0h3.0v3.0h-3.0zM160.4 324.3h1.0v4.0h-1.0zM766.5 497.1h4.4v6.0h-4.4zM489.3 246.2h2.8v4.0h-2.8zM586.5 352.7h3.4v2.0h-3.4zM154.2 108.2h1.0v3.0h-1.0zM372.4 227.3h2.2v3.0h-2.2zM198.7 350.7h1.2v3.0h-1.2zM506.3 211.1h2.9v3.0h-2.9zM648.3 447.1h3.7v2.0h-3.7zM278.0 73.9h1.6v6.0h-1.6zM566.0 412.4h3.3v6.0h-3.3zM218.2 354.3h1.3v6.0h-1.3zM768.0 102.8h4.4v3.0h-4.4zM431.4 300.7h2.5v4.0h-2.5zM333.9 87.7h2.0v6.0h-2.0zM755.1 124.5h4.3v3.0h-4.3zM270.6 273.8h1.6v6.0h-1.6zM206.2 259.6h1.2v3.0h-1.2zM389.3 179.2h2.3v3.0h-2.3zM203.0 208.5h1.2v3.0h-1.2zM87.7 219.6h1.0v4.0h-1.0zM481.5 138.1h2.8v6.0h-2.8zM481.5 299.5h2.8v8.0h-2.8zM481.5 279.8h2.8v14.0h-2.8zM481.5 395.3h2.8v10.0h-2.8zM481.5 61.5h2.8v4.0h-2.8zM603.0 479.1h3.5v4.0h-3.5zM603.0 165.8h3.5v6.0h-3.5zM603.0 353.2h3.5v10.0h-3.5zM603.0 383.8h3.5v6.0h-3.5zM611.0 522.0h3.5v4.0h-3.5zM611.0 157.5h3.5v14.0h-3.5zM703.0 207.9h4.0v4.0h-4.0zM703.0 100.9h4.0v14.0h-4.0zM703.0 201.2h4.0v8.0h-4.0zM703.0 489.1h4.0v10.0h-4.0zM703.0 382.9h4.0v10.0h-4.0z"/>
<path fill="#380000" d="M228.8 426.1h1.4v6.0h-1.4zM399.8 454.7h2.3v3.0h-2.3zM390.6 272.1h2.3v4.0h-2.3zM329.8 64.0h1.9v6.0h-1.9zM611.4 166.4h3.5v4.0h-3.5zM606.6 89.5h3.5v6.0h-3.5zM658.1 125.8h3.8v4.0h-3.8zM273.8 487.8h1.6v3.0h-1.6zM132.0 111.2h1.0v6.0h-1.0zM333.0 176.4h2.0v4.0h-2.0zM475.4 249.8h2.7v2.0h-2.7zM447.5 465.6h2.6v4.0h-2.6zM369.4 390.7h2.2v2.0h-2.2zM182.8 267.2h1.1v4.0h-1.1zM579.5 276.3h3.3v6.0h-3.3zM300.0 173.5h1.8v4.0h-1.8zM311.4 282.0h1.8v2.0h-1.8zM572.4 243.1h3.3v2.0h-3.3zM595.7 422.6h3.4v3.0h-3.4zM122.8 466.3h1.0v2.0h-1.0zM263.3 486.6h1.6v2.0h-1.6zM766.3 495.7h4.4v2.0h-4.4zM331.8 338.3h1.9v3.0h-1.9zM642.8 312.2h3.7v4.0h-3.7zM147.7 474.9h1.0v2.0h-1.0zM677.2 489.3h3.9v6.0h-3.9zM109.1 194.8h1.0v2.0h-1.0zM402.5 139.9h2.3v2.0h-2.3zM174.7 434.7h1.1v2.0h-1.1zM345.8 127.9h2.0v2.0h-2.0zM557.6 326.7h3.2v3.0h-3.2zM355.5 290.5h2.1v2.0h-2.1zM343.6 231.2h2.0v2.0h-2.0zM427.2 441.4h2.5v4.0h-2.5zM451.9 508.0h2.6v3.0h-2.6zM204.7 298.0h1.2v3.0h-1.2zM609.5 199.1h3.5v4.0h-3.5zM599.7 515.2h3.4v4.0h-3.4zM140.5 141.6h1.0v4.0h-1.0zM605.8 313.0h3.5v3.0h-3.5zM112.2 145.9h1.0v3.0h-1.0zM706.6 119.3h4.0v3.0h-4.0zM407.0 336.4h2.4v6.0h-2.4zM249.8 197.7h1.5v2.0h-1.5zM696.2 159.4h4.0v2.0h-4.0zM783.1 399.7h4.5v2.0h-4.5zM358.6 111.4h2.1v3.0h-2.1z"/>
<path fill="#3d0000" d="M243.0 77.7h1.4v4.0h-1.4zM247.0 531.9h1.5v8.0h-1.5zM247.0 96.8h1.5v8.0h-1.5zM247.0 533.5h1.5v8.0h-1.5zM247.0 436.1h1.5v14.0h-1.5zM303.0 172.3h1.8v8.0h-1.8zM303.0 393.2h1.8v4.0h-1.8zM303.0 238.0h1.8v8.0h-1.8zM330.0 412.7h1.9v6.0h-1.9zM436.0 531.6h2.5v14.0h-2.5zM436.0 404.7h2.5v8.0h-2.5zM436.0 262.7h2.5v14.0h-2.5zM481.5 274.1h2.8v10.0h-2.8zM481.5 483.3h2.8v10.0h-2.8zM481.5 59.0h2.8v6.0h-2.8zM497.0 320.9h2.9v6.0h-2.9zM497.0 466.7h2.9v10.0h-2.9zM545.0 255.9h3.1v14.0h-3.1zM545.0 368.1h3.1v6.0h-3.1zM603.0 364.1h3.5v4.0h-3.5zM603.0 197.0h3.5v10.0h-3.5zM607.0 182.8h3.5v8.0h-3.5zM611.0 160.6h3.5v4.0h-3.5zM611.0 203.9h3.5v10.0h-3.5zM611.0 535.9h3.5v4.0h-3.5zM611.0 407.3h3.5v4.0h-3.5zM611.0 338.6h3.5v10.0h-3.5zM640.0 297.4h3.7v8.0h-3.7zM640.0 496.3h3.7v10.0h-3.7zM640.0 213.2h3.7v10.0h-3.7zM640.0 285.7h3.7v10.0h-3.7zM703.0 321.5h4.0v14.0h-4.0zM712.0 179.5h4.1v10.0h-4.1zM712.0 425.9h4.1v14.0h-4.1zM712.0 182.9h4.1v14.0h-4.1zM716.0 184.7h4.1v8.0h-4.1zM716.0 301.4h4.1v8.0h-4.1z"/>
<path fill="#420000" d="M256.0 403.7h1.5v10.0h-1.5zM256.0 253.7h1.5v8.0h-1.5zM256.0 493.2h1.5v8.0h-1.5zM256.0 410.6h1.5v4.0h-1.5zM256.0 264.1h1.5v6.0h-1.5zM257.3 85.5h1.5v6.0h-1.5zM257.3 326.4h1.5v14.0h-1.5zM257.3 107.0h1.5v14.0h-1.5zM480.0 104.5h2.8v14.0h-2.8zM480.0 280.4h2.8v8.0h-2.8zM480.0 383.7h2.8v6.0h-2.8zM480.0 72.2h2.8v14.0h-2.8zM480.0 119.5h2.8v8.0h-2.8z"/>
<path fill="#520000" d="M256.0 392.3h1.5v14.0h-1.5zM256.0 82.3h1.5v8.0h-1.5zM256.0 440.8h1.5v6.0h-1.5zM256.0 176.9h1.5v8.0h-1.5zM257.3 99.4h1.5v8.0h-1.5zM257.3 228.3h1.5v14.0h-1.5zM257.3 367.9h1.5v10.0h-1.5zM257.3 427.0h1.5v14.0h-1.5zM257.3 476.2h1.5v8.0h-1.5zM257.3 240.7h1.5v10.0h-1.5zM480.0 468.6h2.8v6.0h-2.8zM480.0 378.9h2.8v8.0h-2.8zM480.0 512.7h2.8v10.0h-2.8zM480.0 135.2h2.8v10.0h-2.8zM480.0 411.0h2.8v14.0h-2.8zM480.0 491.1h2.8v6.0h-2.8zM480.0 157.9h2.8v14.0h-2.8z"/>
<path fill="#073201" d="M213.2 122.6h1.5v2.0h-1.5zM222.3 67.0h1.5v2.0h-1.5zM107.8 365.2h1.5v1.5h-1.5zM647.5 138.3h3.7v1.5h-3.7zM114.4 284.4h1.5v1.5h-1.5zM556.9 114.8h3.2v1.5h-3.2zM609.8 149.7h3.5v1.5h-3.5zM307.1 200.8h1.8v1.5h-1.8zM94.2 186.7h1.5v2.0h-1.5zM280.9 130.7h1.7v2.0h-1.7zM513.7 340.0h3.0v2.0h-3.0zM311.8 229.1h1.8v2.0h-1.8zM175.4 391.7h1.5v1.5h-1.5zM565.2 505.0h3.3v2.0h-3.3zM610.9 72.4h3.5v2.0h-3.5zM628.2 87.5h3.6v2.0h-3.6zM218.3 159.3h1.5v1.5h-1.5zM607.1 121.6h3.5v2.0h-3.5zM739.9 468.3h4.2v2.0h-4.2zM546.9 75.7h3.1v1.5h-3.1zM299.8 534.6h1.8v2.0h-1.8zM255.4 127.2h1.5v1.5h-1.5zM383.8 268.9h2.2v2.0h-2.2zM197.7 390.2h1.5v2.0h-1.5zM572.8 198.5h3.3v1.5h-3.3zM574.6 213.1h3.3v2.0h-3.3zM569.2 137.2h3.3v1.5h-3.3zM402.4 384.9h2.3v1.5h-2.3zM547.2 420.5h3.1v1.5h-3.1zM569.9 137.6h3.3v2.0h-3.3zM569.0 98.6h3.3v2.0h-3.3zM225.7 396.1h1.5v2.0h-1.5zM250.5 196.5h1.5v2.0h-1.5zM733.6 345.3h4.2v2.0h-4.2zM256.5 122.1h1.5v1.5h-1.5zM592.3 322.7h3.4v2.0h-3.4zM170.4 113.6h1.5v2.0h-1.5zM275.3 290.9h1.6v1.5h-1.6zM100.7 174.5h1.5v1.5h-1.5zM438.4 70.9h2.5v1.5h-2.5zM695.4 485.2h4.0v2.0h-4.0zM332.1 316.0h1.9v1.5h-1.9zM716.1 466.3h4.1v1.5h-4.1zM638.7 369.4h3.7v2.0h-3.7zM719.5 236.3h4.1v2.0h-4.1zM286.4 66.3h1.7v1.5h-1.7zM330.9 346.6h1.9v2.0h-1.9zM237.5 201.5h1.5v1.5h-1.5zM300.0 336.5h1.8v2.0h-1.8zM334.3 424.6h2.0v2.0h-2.0zM346.6 230.7h2.0v2.0h-2.0zM461.9 341.1h2.7v2.0h-2.7zM271.9 59.9h1.6v2.0h-1.6zM559.6 184.3h3.2v2.0h-3.2zM456.5 408.4h2.6v2.0h-2.6zM757.5 219.0h4.3v1.5h-4.3zM500.7 220.1h2.9v2.0h-2.9zM432.6 95.8h2.5v2.0h-2.5zM611.6 269.1h3.5v2.0h-3.5zM647.2 292.6h3.7v1.5h-3.7zM136.0 459.5h1.5v1.5h-1.5zM111.7 240.2h1.5v2.0h-1.5zM306.8 83.7h1.8v2.0h-1.8zM252.6 303.4h1.5v2.0h-1.5zM602.2 298.1h3.5v2.0h-3.5zM518.9 343.4h3.0v2.0h-3.0zM247.9 313.0h2.0v3.0h-2.0zM241.1 356.5h2.0v2.0h-2.0zM250.5 368.7h2.0v2.0h-2.0zM235.8 528.9h2.0v3.0h-2.0zM242.9 242.2h2.0v3.0h-2.0zM237.7 296.3h2.0v2.0h-2.0zM240.9 281.6h2.0v3.0h-2.0zM244.0 535.0h2.0v3.0h-2.0zM247.9 127.3h2.0v2.0h-2.0zM243.6 491.2h2.0v2.0h-2.0zM249.7 517.7h2.0v2.0h-2.0zM245.3 163.9h2.0v2.0h-2.0zM245.2 417.5h2.0v2.0h-2.0zM247.8 83.1h2.0v2.0h-2.0zM246.4 317.7h2.0v3.0h-2.0zM237.2 530.5h2.0v3.0h-2.0zM239.7 510.0h2.0v2.0h-2.0zM253.2 349.4h2.0v3.0h-2.0zM236.5 348.0h2.0v2.0h-2.0zM242.4 60.8h2.0v3.0h-2.0zM239.0 507.5h2.0v2.0h-2.0zM244.3 181.9h2.0v3.0h-2.0zM238.6 96.7h2.0v2.0h-2.0zM240.2 219.1h2.0v3.0h-2.0zM251.2 315.3h2.0v2.0h-2.0zM240.0 355.7h2.0v2.0h-2.0zM244.5 310.4h2.0v2.0h-2.0zM236.1 465.4h2.0v2.0h-2.0zM239.2 180.4h2.0v2.0h-2.0zM235.0 283.2h2.0v3.0h-2.0zM249.2 491.8h2.0v2.0h-2.0zM235.7 292.2h2.0v3.0h-2.0zM238.4 229.8h2.0v3.0h-2.0zM246.0 118.1h2.0v2.0h-2.0zM101.4 254.8h1.5v2.0h-1.5zM103.6 461.7h1.5v2.0h-1.5zM103.0 333.2h1.5v2.0h-1.5zM99.7 520.2h1.5v2.0h-1.5zM101.9 119.2h1.5v2.0h-1.5zM102.2 272.5h1.5v2.0h-1.5zM100.1 129.2h1.5v2.0h-1.5zM102.7 528.5h1.5v2.0h-1.5z"/>
<path fill="#052301" d="M483.4 416.8h2.8v2.0h-2.8zM439.9 475.5h2.5v2.0h-2.5zM561.8 86.4h3.2v1.5h-3.2zM397.3 240.9h2.3v2.0h-2.3zM257.3 405.3h1.5v2.0h-1.5zM757.5 351.2h4.3v2.0h-4.3zM90.7 213.1h1.5v1.5h-1.5zM141.2 410.4h1.5v2.0h-1.5zM320.4 232.2h1.9v2.0h-1.9zM485.9 88.4h2.8v2.0h-2.8zM534.9 115.8h3.1v1.5h-3.1zM454.2 122.5h2.6v2.0h-2.6zM499.5 471.3h2.9v1.5h-2.9zM182.3 364.9h1.5v2.0h-1.5zM433.5 393.2h2.5v2.0h-2.5zM473.0 244.5h2.7v2.0h-2.7zM765.1 301.3h4.4v1.5h-4.4zM117.5 122.0h1.5v1.5h-1.5zM380.6 360.3h2.2v2.0h-2.2zM441.0 143.6h2.6v1.5h-2.6zM344.6 302.5h2.0v2.0h-2.0zM456.3 476.9h2.6v1.5h-2.6zM662.4 186.2h3.8v2.0h-3.8zM444.8 155.7h2.6v1.5h-2.6zM195.3 127.3h1.5v2.0h-1.5zM606.4 249.5h3.5v2.0h-3.5zM739.3 465.7h4.2v1.5h-4.2zM128.7 503.3h1.5v2.0h-1.5zM575.2 381.8h3.3v2.0h-3.3zM601.1 137.0h3.5v2.0h-3.5zM369.7 137.0h2.2v2.0h-2.2zM148.0 157.0h1.5v2.0h-1.5zM472.9 92.4h2.7v1.5h-2.7zM202.6 309.8h1.5v2.0h-1.5zM539.9 196.2h3.1v2.0h-3.1zM427.7 209.4h2.5v1.5h-2.5zM430.2 279.1h2.5v2.0h-2.5zM83.1 448.1h1.5v2.0h-1.5zM98.2 405.1h1.5v2.0h-1.5zM107.4 367.7h1.5v1.5h-1.5zM593.1 295.6h3.4v2.0h-3.4zM421.4 263.6h2.4v2.0h-2.4zM592.2 292.7h3.4v1.5h-3.4zM322.9 301.9h1.9v2.0h-1.9zM241.9 209.2h1.5v2.0h-1.5zM263.4 490.5h1.6v2.0h-1.6zM785.5 297.4h4.5v2.0h-4.5zM390.4 306.8h2.3v1.5h-2.3zM537.9 123.3h3.1v2.0h-3.1zM92.6 120.1h1.5v2.0h-1.5zM177.5 170.3h1.5v1.5h-1.5zM457.7 459.3h2.6v1.5h-2.6zM227.9 368.5h1.5v1.5h-1.5zM744.5 307.4h4.3v2.0h-4.3zM211.1 207.3h1.5v2.0h-1.5zM276.6 406.3h1.6v1.5h-1.6zM129.7 483.2h1.5v2.0h-1.5zM647.9 320.3h3.7v1.5h-3.7zM454.4 522.9h2.6v2.0h-2.6zM564.0 90.7h3.2v1.5h-3.2zM119.6 194.1h1.5v1.5h-1.5zM137.0 335.1h1.5v2.0h-1.5zM578.8 257.2h3.3v2.0h-3.3z"/>
<path fill="#031400" d="M342.3 98.1h2.0v2.0h-2.0zM178.0 233.3h1.5v2.0h-1.5zM161.9 382.9h1.5v2.0h-1.5zM180.0 259.7h1.5v2.0h-1.5zM183.7 128.1h1.5v2.0h-1.5zM639.3 461.4h3.7v2.0h-3.7zM694.3 419.3h4.0v2.0h-4.0zM427.0 417.8h2.5v1.5h-2.5zM715.6 410.8h4.1v2.0h-4.1zM514.2 412.8h3.0v1.5h-3.0zM749.9 412.2h4.3v2.0h-4.3zM688.5 426.1h3.9v1.5h-3.9zM102.1 462.9h1.5v2.0h-1.5zM471.3 434.9h2.7v2.0h-2.7zM185.4 129.0h1.5v2.0h-1.5zM431.7 87.7h2.5v1.5h-2.5zM188.1 224.4h1.5v2.0h-1.5zM388.2 297.9h2.3v2.0h-2.3zM666.1 61.4h3.8v1.5h-3.8zM558.5 226.8h3.2v2.0h-3.2zM137.1 500.8h1.5v2.0h-1.5zM624.8 282.4h3.6v2.0h-3.6zM161.6 205.7h1.5v2.0h-1.5zM419.6 385.7h2.4v2.0h-2.4zM542.7 328.3h3.1v2.0h-3.1zM781.9 469.9h4.5v2.0h-4.5zM186.3 257.5h1.5v2.0h-1.5zM282.4 188.1h1.7v2.0h-1.7zM463.9 92.1h2.7v1.5h-2.7zM530.8 66.8h3.1v2.0h-3.1zM337.1 437.0h2.0v2.0h-2.0zM160.7 402.3h1.5v1.5h-1.5zM582.8 230.7h3.3v2.0h-3.3zM787.0 89.6h4.5v2.0h-4.5zM775.8 529.4h4.4v2.0h-4.4zM236.5 348.5h1.5v1.5h-1.5zM642.1 218.9h3.7v2.0h-3.7zM771.7 443.7h4.4v1.5h-4.4zM147.5 92.0h1.5v2.0h-1.5zM77.1 433.1h1.5v2.0h-1.5zM574.4 331.0h3.3v2.0h-3.3zM712.5 295.3h4.1v2.0h-4.1zM151.0 287.2h1.5v2.0h-1.5zM280.0 463.2h1.7v1.5h-1.7zM341.0 88.5h2.0v1.5h-2.0zM201.6 458.1h1.5v2.0h-1.5zM332.4 210.3h1.9v2.0h-1.9zM314.1 441.0h1.8v1.5h-1.8zM665.3 80.2h3.8v2.0h-3.8zM543.2 64.5h3.1v1.5h-3.1zM717.9 121.7h4.1v1.5h-4.1zM148.6 412.2h1.5v2.0h-1.5zM428.5 321.3h2.5v2.0h-2.5zM348.7 369.2h2.0v2.0h-2.0zM440.3 527.9h2.6v2.0h-2.6zM216.2 263.0h1.5v1.5h-1.5zM649.9 276.2h3.7v2.0h-3.7zM566.1 136.6h3.3v2.0h-3.3zM660.9 509.9h3.8v2.0h-3.8zM68.2 116.6h1.5v1.5h-1.5zM247.9 291.0h1.5v2.0h-1.5zM503.1 271.0h2.9v2.0h-2.9zM754.5 389.7h4.3v1.5h-4.3zM244.3 182.5h1.5v1.5h-1.5zM204.8 465.0h1.5v1.5h-1.5zM263.7 163.2h1.6v1.5h-1.6zM188.9 296.9h1.5v1.5h-1.5zM210.0 519.2h1.5v1.5h-1.5z"/>
<path fill="#041900" d="M596.0 467.6h3.4v2.0h-3.4zM429.1 257.0h2.5v2.0h-2.5zM361.1 481.6h2.1v2.0h-2.1zM361.4 412.2h2.1v2.0h-2.1zM75.8 254.6h1.5v2.0h-1.5zM730.5 114.0h4.2v2.0h-4.2zM737.0 497.6h4.2v2.0h-4.2zM664.7 196.8h3.8v1.5h-3.8zM196.4 506.7h1.5v2.0h-1.5zM740.6 138.0h4.2v2.0h-4.2zM277.9 279.6h1.6v2.0h-1.6zM105.6 441.4h1.5v1.5h-1.5zM519.7 516.7h3.0v2.0h-3.0zM234.1 352.4h1.5v2.0h-1.5zM129.2 120.1h1.5v2.0h-1.5zM251.5 93.4h1.5v1.5h-1.5zM615.7 474.8h3.5v2.0h-3.5zM514.3 248.8h3.0v1.5h-3.0zM226.4 360.4h1.5v1.5h-1.5zM639.3 502.0h3.7v2.0h-3.7zM256.9 109.6h1.5v1.5h-1.5zM294.2 190.8h1.7v1.5h-1.7zM359.1 254.0h2.1v1.5h-2.1zM317.6 108.8h1.9v1.5h-1.9zM473.2 533.8h2.7v1.5h-2.7zM676.9 187.6h3.9v1.5h-3.9zM101.0 519.6h1.5v2.0h-1.5zM535.7 492.2h3.1v2.0h-3.1zM192.9 283.7h1.5v1.5h-1.5zM215.6 143.7h1.5v1.5h-1.5zM781.6 322.7h4.5v2.0h-4.5zM745.5 401.8h4.3v1.5h-4.3zM337.6 265.2h2.0v1.5h-2.0zM376.2 426.4h2.2v2.0h-2.2zM759.3 171.6h4.3v2.0h-4.3zM306.5 160.7h1.8v1.5h-1.8zM252.3 96.4h1.5v2.0h-1.5zM708.6 67.4h4.1v2.0h-4.1zM718.4 409.0h4.1v1.5h-4.1zM375.4 456.2h2.2v2.0h-2.2zM328.6 253.3h1.9v1.5h-1.9zM678.1 320.4h3.9v1.5h-3.9zM518.1 216.5h3.0v1.5h-3.0zM365.3 145.1h2.1v2.0h-2.1zM750.0 470.9h4.3v1.5h-4.3zM193.4 444.9h1.5v2.0h-1.5zM144.2 508.3h1.5v2.0h-1.5zM563.0 230.5h3.2v2.0h-3.2zM437.8 471.4h2.5v2.0h-2.5zM70.1 309.3h1.5v2.0h-1.5zM153.7 181.1h1.5v2.0h-1.5zM319.9 254.2h1.9v2.0h-1.9zM103.7 483.7h1.5v2.0h-1.5zM295.9 517.4h1.7v2.0h-1.7zM561.6 375.7h3.2v2.0h-3.2zM545.1 66.5h3.1v2.0h-3.1zM446.8 396.5h2.6v2.0h-2.6zM542.3 177.0h3.1v1.5h-3.1zM193.2 392.7h1.5v2.0h-1.5zM714.8 366.6h4.1v1.5h-4.1zM210.5 311.3h1.5v2.0h-1.5zM394.1 175.4h2.3v1.5h-2.3zM594.4 471.4h3.4v2.0h-3.4zM98.8 372.1h1.5v2.0h-1.5zM100.7 213.5h1.5v2.0h-1.5zM102.1 208.2h1.5v2.0h-1.5zM100.4 194.0h1.5v2.0h-1.5zM95.6 509.9h1.5v2.0h-1.5zM102.0 200.1h1.5v2.0h-1.5z"/>
<path fill="#062801" d="M249.5 532.2h2.0v3.0h-2.0zM247.1 163.5h2.0v2.0h-2.0zM251.4 474.4h2.0v3.0h-2.0zM235.6 154.4h2.0v2.0h-2.0zM245.1 139.9h2.0v3.0h-2.0zM248.7 62.8h2.0v2.0h-2.0zM239.2 81.5h2.0v2.0h-2.0zM238.6 460.3h2.0v3.0h-2.0zM243.0 468.6h2.0v2.0h-2.0zM242.8 175.0h2.0v2.0h-2.0zM252.2 418.7h2.0v3.0h-2.0zM247.8 459.7h2.0v2.0h-2.0zM247.0 469.7h2.0v3.0h-2.0zM241.9 60.3h2.0v2.0h-2.0zM237.5 173.4h2.0v2.0h-2.0zM239.5 413.7h2.0v2.0h-2.0zM237.1 424.9h2.0v2.0h-2.0zM243.6 311.4h2.0v2.0h-2.0zM246.1 509.8h2.0v3.0h-2.0zM236.2 377.6h2.0v2.0h-2.0z"/>
<path fill="#0c5101" d="M250.4 74.6h2.0v2.0h-2.0zM237.4 313.9h2.0v3.0h-2.0zM245.0 241.7h2.0v2.0h-2.0zM243.7 511.1h2.0v3.0h-2.0zM245.9 511.1h2.0v3.0h-2.0zM238.7 336.7h2.0v3.0h-2.0zM244.1 297.9h2.0v2.0h-2.0zM238.2 529.3h2.0v2.0h-2.0zM241.1 522.2h2.0v2.0h-2.0zM249.3 281.6h2.0v2.0h-2.0zM238.3 235.1h2.0v3.0h-2.0zM237.2 397.8h2.0v2.0h-2.0zM242.4 210.8h2.0v2.0h-2.0zM244.0 479.5h2.0v3.0h-2.0zM243.9 76.8h2.0v3.0h-2.0zM249.0 503.9h2.0v2.0h-2.0zM242.6 468.5h2.0v3.0h-2.0zM244.2 412.8h2.0v2.0h-2.0zM247.8 505.9h2.0v3.0h-2.0zM242.6 282.6h2.0v3.0h-2.0zM243.3 160.0h2.0v2.0h-2.0zM237.0 63.5h2.0v2.0h-2.0zM242.9 442.1h2.0v3.0h-2.0zM247.5 341.4h2.0v3.0h-2.0zM243.3 67.9h2.0v2.0h-2.0zM245.1 387.7h2.0v2.0h-2.0zM242.9 228.9h2.0v2.0h-2.0zM243.2 396.2h2.0v3.0h-2.0zM245.0 240.5h2.0v3.0h-2.0zM247.3 60.6h2.0v2.0h-2.0zM249.7 69.1h2.0v2.0h-2.0z"/>
<path fill="#041e00" d="M244.3 180.7h2.0v3.0h-2.0zM246.2 206.1h2.0v3.0h-2.0zM247.0 134.0h2.0v2.0h-2.0zM242.3 225.1h2.0v2.0h-2.0zM238.2 449.3h2.0v2.0h-2.0zM233.6 509.4h2.0v2.0h-2.0zM249.4 83.8h2.0v3.0h-2.0zM238.8 341.9h2.0v3.0h-2.0zM245.5 168.2h2.0v2.0h-2.0zM244.1 357.4h2.0v2.0h-2.0zM242.5 419.1h2.0v2.0h-2.0zM250.4 393.8h2.0v3.0h-2.0zM241.4 152.9h2.0v2.0h-2.0zM253.8 72.7h2.0v2.0h-2.0zM235.3 173.0h2.0v3.0h-2.0zM244.7 532.0h2.0v2.0h-2.0zM248.3 113.2h2.0v2.0h-2.0zM243.8 258.3h2.0v3.0h-2.0zM237.5 85.1h2.0v3.0h-2.0zM242.3 473.8h2.0v2.0h-2.0zM245.8 88.4h2.0v2.0h-2.0zM244.8 280.2h2.0v2.0h-2.0zM244.0 467.5h2.0v2.0h-2.0zM239.0 486.8h2.0v2.0h-2.0zM250.4 304.4h2.0v2.0h-2.0zM238.0 124.0h2.0v3.0h-2.0zM169.9 382.2h1.5v2.0h-1.5zM163.9 389.4h1.5v2.0h-1.5zM166.3 390.5h1.5v2.0h-1.5zM168.4 343.1h1.5v2.0h-1.5zM163.1 463.0h1.5v2.0h-1.5zM168.3 475.1h1.5v2.0h-1.5zM164.9 428.3h1.5v2.0h-1.5zM169.4 494.6h1.5v2.0h-1.5zM166.2 498.2h1.5v2.0h-1.5zM167.5 347.3h1.5v2.0h-1.5zM163.3 498.5h1.5v2.0h-1.5zM168.2 526.6h1.5v2.0h-1.5zM168.6 533.2h1.5v2.0h-1.5zM165.1 440.2h1.5v2.0h-1.5z"/>
<path fill="#093f01" d="M249.3 255.7h2.0v2.0h-2.0zM241.9 350.4h2.0v3.0h-2.0zM244.2 299.2h2.0v2.0h-2.0zM247.5 345.7h2.0v2.0h-2.0zM244.3 359.9h2.0v3.0h-2.0zM248.1 281.9h2.0v2.0h-2.0zM249.1 500.6h2.0v3.0h-2.0zM240.4 236.5h2.0v2.0h-2.0zM234.7 195.4h2.0v2.0h-2.0zM242.9 362.2h2.0v3.0h-2.0zM246.5 533.0h2.0v2.0h-2.0zM251.9 405.1h2.0v2.0h-2.0zM235.8 362.3h2.0v2.0h-2.0zM251.3 127.4h2.0v2.0h-2.0zM242.1 300.9h2.0v2.0h-2.0zM252.9 220.8h2.0v3.0h-2.0zM248.9 332.8h2.0v2.0h-2.0zM244.2 70.0h2.0v2.0h-2.0zM245.6 279.2h2.0v3.0h-2.0zM240.3 529.4h2.0v2.0h-2.0zM243.0 533.8h2.0v2.0h-2.0zM231.8 431.7h2.0v3.0h-2.0zM243.3 221.3h2.0v2.0h-2.0zM248.0 184.2h2.0v2.0h-2.0zM242.7 503.1h2.0v2.0h-2.0zM247.8 321.3h2.0v2.0h-2.0zM246.7 204.3h2.0v2.0h-2.0zM244.5 179.0h2.0v2.0h-2.0zM247.7 461.9h2.0v2.0h-2.0zM163.4 331.8h1.5v2.0h-1.5zM165.2 302.1h1.5v2.0h-1.5zM171.9 434.0h1.5v2.0h-1.5zM165.8 332.7h1.5v2.0h-1.5zM168.6 479.8h1.5v2.0h-1.5zM165.0 359.6h1.5v2.0h-1.5zM165.7 357.2h1.5v2.0h-1.5zM167.9 500.1h1.5v2.0h-1.5zM167.6 489.9h1.5v2.0h-1.5zM172.1 418.6h1.5v2.0h-1.5zM167.1 393.6h1.5v2.0h-1.5z"/>
<path fill="#062d01" d="M166.2 427.0h1.5v2.0h-1.5zM166.2 527.1h1.5v2.0h-1.5zM165.1 473.6h1.5v2.0h-1.5zM167.3 339.6h1.5v2.0h-1.5zM165.0 474.0h1.5v2.0h-1.5zM164.4 482.8h1.5v2.0h-1.5zM165.6 523.1h1.5v2.0h-1.5zM167.7 362.8h1.5v2.0h-1.5zM165.2 371.4h1.5v2.0h-1.5zM167.9 418.3h1.5v2.0h-1.5zM167.1 333.9h1.5v2.0h-1.5zM164.5 330.3h1.5v2.0h-1.5zM171.3 418.6h1.5v2.0h-1.5zM169.3 344.4h1.5v2.0h-1.5zM171.7 526.9h1.5v2.0h-1.5z"/>
<path fill="#052601" d="M101.9 122.1h1.5v2.0h-1.5zM102.3 523.9h1.5v2.0h-1.5zM98.9 323.1h1.5v2.0h-1.5zM100.6 515.0h1.5v2.0h-1.5zM101.0 410.4h1.5v2.0h-1.5zM106.5 430.3h1.5v2.0h-1.5zM104.8 210.7h1.5v2.0h-1.5zM100.6 329.2h1.5v2.0h-1.5zM99.9 81.0h1.5v2.0h-1.5zM100.4 466.7h1.5v2.0h-1.5zM105.4 328.8h1.5v2.0h-1.5z"/></g>
<g filter="url(#b1)"><path fill="#330000" d="M262.0 136.4h1.6v8.0h-1.6zM269.9 127.7h1.6v4.7h-1.6zM273.1 113.3h1.6v5.0h-1.6zM273.1 123.3h1.6v1.2h-1.6zM276.3 107.4h1.6v3.0h-1.6zM279.6 105.8h1.7v5.0h-1.7zM281.2 101.2h1.7v3.0h-1.7zM281.2 107.2h1.7v1.4h-1.7zM282.9 103.7h1.7v5.0h-1.7zM284.6 90.4h1.7v5.0h-1.7zM284.6 95.4h1.7v10.4h-1.7zM286.3 100.0h1.7v7.4h-1.7zM287.9 101.5h1.7v2.3h-1.7zM291.4 77.2h1.7v8.0h-1.7zM293.1 91.5h1.7v3.0h-1.7zM294.8 87.3h1.7v5.0h-1.7zM294.8 92.3h1.7v3.0h-1.7zM298.3 65.3h1.8v3.0h-1.8zM298.3 68.3h1.8v3.0h-1.8zM298.3 83.3h1.8v12.0h-1.8zM310.8 86.0h1.8v8.0h-1.8zM312.6 92.0h1.8v3.0h-1.8zM329.5 81.0h1.9v3.0h-1.9zM337.3 81.0h2.0v12.0h-2.0zM355.5 92.2h2.1v5.0h-2.1zM357.6 96.0h2.1v2.5h-2.1zM390.2 86.0h2.3v7.7h-2.3zM399.3 66.1h2.3v5.0h-2.3zM399.3 76.1h2.3v12.0h-2.3zM399.3 88.1h2.3v5.0h-2.3zM420.7 90.0h2.4v0.9h-2.4zM423.2 82.9h2.5v3.0h-2.5zM430.6 88.0h2.5v4.9h-2.5zM433.1 81.3h2.5v3.0h-2.5zM445.8 79.0h2.6v3.0h-2.6zM445.8 82.0h2.6v6.6h-2.6zM458.8 67.0h2.7v12.0h-2.7zM458.8 79.0h2.7v3.0h-2.7zM458.8 82.0h2.7v3.0h-2.7zM458.8 85.0h2.7v2.7h-2.7zM464.1 84.1h2.7v5.3h-2.7zM477.7 80.9h2.8v7.7h-2.8zM511.9 73.5h3.0v3.0h-3.0zM511.9 76.5h3.0v3.8h-3.0zM548.4 62.0h3.2v4.7h-3.2z"/>
<path fill="#3d0000" d="M262.0 144.4h1.6v2.3h-1.6zM265.1 128.8h1.6v5.0h-1.6zM265.1 133.8h1.6v5.9h-1.6zM268.3 129.5h1.6v6.5h-1.6zM273.1 118.3h1.6v5.0h-1.6zM274.7 110.6h1.6v8.0h-1.6zM274.7 118.6h1.6v4.4h-1.6zM277.9 103.2h1.6v3.0h-1.6zM281.2 96.2h1.7v5.0h-1.7zM281.2 104.2h1.7v3.0h-1.7zM287.9 83.5h1.7v5.0h-1.7zM287.9 88.5h1.7v8.0h-1.7zM287.9 96.5h1.7v5.0h-1.7zM289.6 87.8h1.7v5.0h-1.7zM289.6 92.8h1.7v5.0h-1.7zM291.4 85.2h1.7v8.0h-1.7zM293.1 74.5h1.7v5.0h-1.7zM293.1 79.5h1.7v12.0h-1.7zM293.1 94.5h1.7v5.0h-1.7zM294.8 70.3h1.7v12.0h-1.7zM294.8 95.3h1.7v3.0h-1.7zM296.5 95.9h1.7v4.8h-1.7zM298.3 71.3h1.8v12.0h-1.8zM310.8 94.0h1.8v5.0h-1.8zM310.8 99.0h1.8v0.3h-1.8zM312.6 95.0h1.8v3.0h-1.8zM314.5 80.1h1.8v12.0h-1.8zM314.5 92.1h1.8v3.0h-1.8zM314.5 95.1h1.8v4.5h-1.8zM316.3 85.3h1.9v5.0h-1.9zM316.3 90.3h1.9v5.0h-1.9zM316.3 95.3h1.9v3.1h-1.9zM318.2 82.0h1.9v3.0h-1.9zM325.7 87.0h1.9v8.0h-1.9zM325.7 95.0h1.9v4.6h-1.9zM337.3 93.0h2.0v7.2h-2.0zM339.3 101.3h2.0v0.1h-2.0zM345.3 68.2h2.0v5.0h-2.0zM349.4 76.9h2.0v5.0h-2.0zM349.4 96.9h2.0v1.9h-2.0zM353.4 95.0h2.1v3.1h-2.1zM355.5 72.2h2.1v8.0h-2.1zM355.5 97.2h2.1v0.2h-2.1zM361.8 72.0h2.1v5.0h-2.1zM361.8 93.0h2.1v3.4h-2.1zM363.9 90.0h2.1v6.0h-2.1zM366.0 83.6h2.1v8.0h-2.1zM366.0 91.6h2.1v5.0h-2.1zM374.6 86.0h2.2v10.3h-2.2zM376.8 83.4h2.2v8.0h-2.2zM381.2 78.4h2.2v8.0h-2.2zM381.2 86.4h2.2v3.0h-2.2zM385.7 73.0h2.2v5.0h-2.2zM385.7 78.0h2.2v5.0h-2.2zM385.7 95.0h2.2v0.3h-2.2zM390.2 67.0h2.3v3.0h-2.3zM390.2 78.0h2.3v5.0h-2.3zM390.2 83.0h2.3v3.0h-2.3zM397.0 80.1h2.3v3.0h-2.3zM399.3 93.1h2.3v0.6h-2.3zM401.7 75.0h2.3v12.0h-2.3zM401.7 87.0h2.3v8.0h-2.3zM401.7 95.0h2.3v0.6h-2.3zM418.3 86.5h2.4v4.5h-2.4zM420.7 78.0h2.4v12.0h-2.4zM430.6 64.0h2.5v3.0h-2.5zM430.6 67.0h2.5v3.0h-2.5zM430.6 70.0h2.5v5.0h-2.5zM430.6 75.0h2.5v5.0h-2.5zM430.6 80.0h2.5v8.0h-2.5zM433.1 72.3h2.5v3.0h-2.5zM438.1 88.2h2.5v3.0h-2.5zM438.1 91.2h2.5v0.8h-2.5zM440.6 76.0h2.6v8.0h-2.6zM440.6 92.0h2.6v0.2h-2.6zM445.8 62.0h2.6v12.0h-2.6zM450.9 79.0h2.6v11.7h-2.6zM453.6 75.6h2.6v8.0h-2.6zM466.8 82.0h2.7v5.0h-2.7zM466.8 87.0h2.7v0.4h-2.7zM469.5 88.0h2.7v2.1h-2.7zM472.2 79.7h2.7v7.4h-2.7zM477.7 74.9h2.8v3.0h-2.8zM491.7 74.0h2.8v12.0h-2.8zM503.1 62.1h2.9v12.0h-2.9zM503.1 74.1h2.9v3.0h-2.9zM509.0 81.6h2.9v1.3h-2.9zM520.8 62.6h3.0v3.0h-3.0zM520.8 68.6h3.0v9.6h-3.0zM529.8 60.2h3.1v5.0h-3.1zM529.8 65.2h3.1v5.0h-3.1zM529.8 70.2h3.1v4.0h-3.1zM532.9 59.0h3.1v3.0h-3.1zM536.0 59.6h3.1v3.0h-3.1zM536.0 62.6h3.1v10.1h-3.1zM545.3 67.0h3.1v2.8h-3.1z"/>
<path fill="#1f0000" d="M262.0 146.6h1.6v8.7h-1.6zM263.6 145.5h1.6v18.6h-1.6zM265.1 139.7h1.6v5.8h-1.6zM266.7 136.0h1.6v15.9h-1.6zM268.3 136.0h1.6v16.4h-1.6zM269.9 132.4h1.6v12.9h-1.6zM271.5 129.4h1.6v12.0h-1.6zM273.1 124.5h1.6v5.5h-1.6zM274.7 123.0h1.6v15.5h-1.6zM276.3 117.9h1.6v14.9h-1.6zM277.9 113.3h1.6v5.8h-1.6zM279.6 111.0h1.7v7.0h-1.7zM281.2 108.5h1.7v17.3h-1.7zM282.9 108.6h1.7v6.7h-1.7zM284.6 105.8h1.7v18.0h-1.7zM286.3 107.3h1.7v10.6h-1.7zM287.9 103.8h1.7v17.2h-1.7zM289.6 104.7h1.7v14.5h-1.7zM291.4 96.2h1.7v3.0h-1.7zM291.4 101.4h1.7v21.4h-1.7zM293.1 101.7h1.7v20.4h-1.7zM294.8 101.9h1.7v3.5h-1.7zM296.5 100.8h1.7v4.2h-1.7zM298.3 99.8h1.8v11.2h-1.8zM300.0 99.8h1.8v20.9h-1.8zM301.8 101.9h1.8v20.7h-1.8zM303.6 102.5h1.8v6.6h-1.8zM305.4 102.7h1.8v17.5h-1.8zM307.2 101.2h1.8v6.1h-1.8zM309.0 99.0h1.8v18.3h-1.8zM310.8 99.3h1.8v18.4h-1.8zM312.6 99.5h1.8v6.2h-1.8zM314.5 99.5h1.8v3.1h-1.8zM316.3 98.4h1.9v18.1h-1.9zM318.2 100.2h1.9v4.2h-1.9zM320.0 101.8h1.9v15.3h-1.9zM321.9 101.6h1.9v3.5h-1.9zM323.8 98.7h1.9v15.0h-1.9zM325.7 99.6h1.9v21.7h-1.9zM327.6 101.0h1.9v14.4h-1.9zM329.5 98.6h1.9v17.2h-1.9zM331.5 99.5h1.9v8.1h-1.9zM333.4 98.4h2.0v7.6h-2.0zM335.4 99.8h2.0v11.0h-2.0zM337.3 100.3h2.0v9.1h-2.0zM339.3 101.4h2.0v10.3h-2.0zM341.3 97.8h2.0v5.8h-2.0zM343.3 100.9h2.0v7.6h-2.0zM345.3 99.4h2.0v7.5h-2.0zM347.3 101.0h2.0v2.7h-2.0zM349.4 98.9h2.0v6.2h-2.0zM351.4 98.6h2.1v3.3h-2.1zM353.4 98.1h2.1v5.1h-2.1zM355.5 97.4h2.1v2.3h-2.1zM357.6 98.5h2.1v3.0h-2.1zM359.7 98.0h2.1v7.2h-2.1zM361.8 96.4h2.1v6.3h-2.1zM363.9 96.0h2.1v7.1h-2.1zM366.0 99.1h2.1v6.9h-2.1zM368.2 95.5h2.1v6.5h-2.1zM370.3 98.8h2.2v6.2h-2.2zM372.5 98.1h2.2v4.3h-2.2zM374.6 96.4h2.2v2.6h-2.2zM376.8 97.1h2.2v5.1h-2.2zM379.0 95.4h2.2v5.4h-2.2zM381.2 94.9h2.2v7.3h-2.2zM383.4 95.1h2.2v2.4h-2.2zM385.7 95.3h2.2v2.3h-2.2zM387.9 95.1h2.3v5.4h-2.3zM390.2 93.7h2.3v3.3h-2.3zM392.5 95.7h2.3v5.7h-2.3zM394.7 94.7h2.3v6.7h-2.3zM397.0 96.1h2.3v4.6h-2.3zM399.3 93.7h2.3v2.1h-2.3zM401.7 95.6h2.3v6.5h-2.3zM404.0 95.3h2.3v2.6h-2.3zM406.4 91.4h2.4v5.3h-2.4zM408.7 94.4h2.4v4.0h-2.4zM411.1 94.7h2.4v2.5h-2.4zM413.5 94.4h2.4v5.7h-2.4zM415.9 92.0h2.4v3.4h-2.4zM418.3 91.0h2.4v7.8h-2.4zM420.7 90.9h2.4v3.7h-2.4zM423.2 90.3h2.5v4.7h-2.5zM425.6 93.7h2.5v6.8h-2.5zM428.1 91.3h2.5v2.0h-2.5zM430.6 92.9h2.5v2.2h-2.5zM433.1 90.3h2.5v6.8h-2.5zM435.6 90.7h2.5v4.0h-2.5zM438.1 92.0h2.5v5.6h-2.5zM440.6 92.2h2.6v3.3h-2.6zM443.2 89.2h2.6v4.9h-2.6zM445.8 88.6h2.6v6.1h-2.6zM448.3 88.7h2.6v6.8h-2.6zM450.9 90.7h2.6v6.5h-2.6zM453.6 87.7h2.6v7.6h-2.6zM456.2 91.3h2.6v6.9h-2.6zM458.8 87.7h2.7v6.4h-2.7zM461.5 90.0h2.7v2.8h-2.7zM464.1 89.4h2.7v4.3h-2.7zM466.8 87.4h2.7v6.8h-2.7zM469.5 90.1h2.7v2.6h-2.7zM472.2 87.1h2.7v7.2h-2.7zM475.0 88.5h2.7v3.7h-2.7zM477.7 88.6h2.8v6.9h-2.8zM480.5 86.4h2.8v6.0h-2.8zM483.3 85.8h2.8v5.6h-2.8zM486.1 85.9h2.8v3.8h-2.8zM488.9 86.9h2.8v6.8h-2.8zM491.7 86.4h2.8v4.4h-2.8zM494.5 85.7h2.9v2.9h-2.9zM497.4 84.5h2.9v2.4h-2.9zM500.2 85.8h2.9v3.1h-2.9zM503.1 83.2h2.9v6.4h-2.9zM506.0 83.8h2.9v3.5h-2.9zM509.0 82.9h2.9v7.4h-2.9zM511.9 80.3h3.0v2.6h-3.0zM514.8 79.9h3.0v5.4h-3.0zM517.8 78.1h3.0v3.0h-3.0zM520.8 78.2h3.0v2.1h-3.0zM523.8 76.0h3.0v6.5h-3.0zM526.8 77.6h3.0v7.1h-3.0zM529.8 74.2h3.1v2.5h-3.1zM532.9 75.2h3.1v6.8h-3.1zM536.0 72.7h3.1v2.7h-3.1zM539.1 73.4h3.1v7.6h-3.1zM542.2 70.3h3.1v7.4h-3.1zM545.3 69.8h3.1v3.1h-3.1zM548.4 66.7h3.2v3.3h-3.2zM551.6 66.4h3.2v5.9h-3.2zM554.8 64.7h3.2v4.2h-3.2zM557.9 63.8h3.2v5.7h-3.2zM561.2 65.1h3.2v3.6h-3.2zM564.4 63.5h3.2v4.2h-3.2zM567.6 61.8h3.3v2.7h-3.3zM570.9 61.7h3.3v6.6h-3.3zM574.2 59.6h3.3v7.6h-3.3zM577.5 60.0h3.3v4.0h-3.3zM580.8 58.2h3.3v7.3h-3.3z"/>
<path fill="#520000" d="M263.6 133.8h1.6v5.0h-1.6zM263.6 138.8h1.6v6.7h-1.6zM277.9 106.2h1.6v7.1h-1.6zM294.8 82.3h1.7v5.0h-1.7zM296.5 83.9h1.7v12.0h-1.7zM300.0 84.8h1.8v8.0h-1.8zM300.0 95.8h1.8v4.0h-1.8zM303.6 85.0h1.8v3.0h-1.8zM303.6 88.0h1.8v12.0h-1.8zM303.6 100.0h1.8v2.5h-1.8zM305.4 99.0h1.8v3.7h-1.8zM307.2 82.0h1.8v8.0h-1.8zM309.0 85.0h1.8v3.0h-1.8zM309.0 88.0h1.8v5.0h-1.8zM312.6 84.0h1.8v8.0h-1.8zM314.5 60.1h1.8v8.0h-1.8zM318.2 97.0h1.9v3.2h-1.9zM320.0 91.1h1.9v10.7h-1.9zM321.9 80.0h1.9v3.0h-1.9zM323.8 77.1h1.9v5.0h-1.9zM327.6 82.8h1.9v3.0h-1.9zM327.6 97.8h1.9v3.3h-1.9zM329.5 93.0h1.9v5.6h-1.9zM331.5 85.0h1.9v12.0h-1.9zM339.3 81.3h2.0v12.0h-2.0zM341.3 82.5h2.0v5.0h-2.0zM343.3 83.0h2.0v8.0h-2.0zM343.3 91.0h2.0v5.0h-2.0zM343.3 96.0h2.0v4.9h-2.0zM351.4 96.0h2.1v2.6h-2.1zM353.4 79.0h2.1v8.0h-2.1zM353.4 92.0h2.1v3.0h-2.1zM357.6 72.0h2.1v12.0h-2.1zM359.7 80.0h2.1v12.0h-2.1zM359.7 92.0h2.1v6.0h-2.1zM363.9 85.0h2.1v5.0h-2.1zM370.3 72.0h2.2v5.0h-2.2zM372.5 97.5h2.2v0.7h-2.2zM381.2 68.4h2.2v5.0h-2.2zM383.4 88.0h2.2v3.0h-2.2zM383.4 94.0h2.2v1.1h-2.2zM385.7 67.0h2.2v3.0h-2.2zM387.9 93.5h2.3v1.6h-2.3zM394.7 72.0h2.3v8.0h-2.3zM397.0 77.1h2.3v3.0h-2.3zM397.0 83.1h2.3v12.0h-2.3zM399.3 71.1h2.3v5.0h-2.3zM401.7 59.0h2.3v3.0h-2.3zM406.4 73.2h2.4v12.0h-2.4zM406.4 88.2h2.4v3.3h-2.4zM413.5 69.0h2.4v5.0h-2.4zM413.5 74.0h2.4v8.0h-2.4zM413.5 82.0h2.4v12.0h-2.4zM415.9 77.0h2.4v8.0h-2.4zM415.9 85.0h2.4v3.0h-2.4zM418.3 74.5h2.4v12.0h-2.4zM420.7 70.0h2.4v8.0h-2.4zM423.2 85.9h2.5v3.0h-2.5zM425.6 62.0h2.5v3.0h-2.5zM428.1 74.0h2.5v12.0h-2.5zM433.1 59.3h2.5v8.0h-2.5zM435.6 60.4h2.5v8.0h-2.5zM435.6 71.4h2.5v8.0h-2.5zM435.6 79.4h2.5v11.3h-2.5zM443.2 87.7h2.6v1.5h-2.6zM445.8 59.0h2.6v3.0h-2.6zM445.8 74.0h2.6v5.0h-2.6zM448.3 81.5h2.6v7.2h-2.6zM450.9 59.0h2.6v12.0h-2.6zM450.9 71.0h2.6v8.0h-2.6zM453.6 59.6h2.6v3.0h-2.6zM456.2 72.2h2.6v12.0h-2.6zM456.2 89.2h2.6v2.1h-2.6zM461.5 73.0h2.7v8.0h-2.7zM461.5 89.0h2.7v1.0h-2.7zM464.1 60.1h2.7v12.0h-2.7zM464.1 72.1h2.7v12.0h-2.7zM472.2 59.7h2.7v12.0h-2.7zM475.0 62.0h2.7v3.0h-2.7zM475.0 82.0h2.7v3.0h-2.7zM477.7 59.9h2.8v12.0h-2.8zM483.3 59.2h2.8v8.0h-2.8zM491.7 62.0h2.8v12.0h-2.8zM500.2 59.7h2.9v3.0h-2.9zM503.1 59.1h2.9v3.0h-2.9zM509.0 59.6h2.9v5.0h-2.9zM511.9 60.5h3.0v8.0h-3.0zM545.3 59.0h3.1v8.0h-3.1zM561.2 59.4h3.2v5.0h-3.2zM567.6 59.2h3.3v2.6h-3.3z"/>
<path fill="#470000" d="M266.7 125.8h1.6v3.0h-1.6zM269.9 119.7h1.6v8.0h-1.6zM279.6 100.8h1.7v5.0h-1.7zM286.3 95.0h1.7v5.0h-1.7zM289.6 79.8h1.7v8.0h-1.7zM289.6 97.8h1.7v5.0h-1.7zM289.6 102.8h1.7v1.9h-1.7zM294.8 98.3h1.7v3.7h-1.7zM296.5 66.9h1.7v5.0h-1.7zM300.0 92.8h1.8v3.0h-1.8zM303.6 82.0h1.8v3.0h-1.8zM312.6 98.0h1.8v1.5h-1.8zM316.3 80.3h1.9v5.0h-1.9zM318.2 85.0h1.9v12.0h-1.9zM323.8 82.1h1.9v5.0h-1.9zM323.8 87.1h1.9v5.0h-1.9zM323.8 92.1h1.9v6.6h-1.9zM329.5 84.0h1.9v3.0h-1.9zM329.5 87.0h1.9v3.0h-1.9zM329.5 90.0h1.9v3.0h-1.9zM337.3 68.0h2.0v8.0h-2.0zM341.3 87.5h2.0v10.3h-2.0zM345.3 73.2h2.0v5.0h-2.0zM345.3 78.2h2.0v12.0h-2.0zM345.3 90.2h2.0v3.0h-2.0zM345.3 93.2h2.0v6.2h-2.0zM347.3 93.0h2.0v5.0h-2.0zM347.3 98.0h2.0v3.0h-2.0zM351.4 81.0h2.1v3.0h-2.1zM351.4 84.0h2.1v12.0h-2.1zM353.4 74.0h2.1v5.0h-2.1zM355.5 80.2h2.1v12.0h-2.1zM357.6 84.0h2.1v12.0h-2.1zM363.9 73.0h2.1v12.0h-2.1zM366.0 71.6h2.1v12.0h-2.1zM368.2 69.0h2.1v12.0h-2.1zM368.2 89.0h2.1v6.5h-2.1zM370.3 97.0h2.2v1.7h-2.2zM374.6 70.0h2.2v5.0h-2.2zM374.6 75.0h2.2v8.0h-2.2zM374.6 83.0h2.2v3.0h-2.2zM376.8 91.4h2.2v5.7h-2.2zM381.2 89.4h2.2v5.5h-2.2zM385.7 70.0h2.2v3.0h-2.2zM385.7 83.0h2.2v12.0h-2.2zM397.0 95.1h2.3v1.0h-2.3zM401.7 70.0h2.3v5.0h-2.3zM406.4 85.2h2.4v3.0h-2.4zM411.1 92.0h2.4v2.7h-2.4zM420.7 59.0h2.4v8.0h-2.4zM420.7 67.0h2.4v3.0h-2.4zM423.2 59.9h2.5v3.0h-2.5zM423.2 88.9h2.5v1.4h-2.5zM425.6 86.0h2.5v3.0h-2.5zM425.6 89.0h2.5v4.7h-2.5zM430.6 59.0h2.5v5.0h-2.5zM433.1 67.3h2.5v5.0h-2.5zM433.1 75.3h2.5v3.0h-2.5zM433.1 78.3h2.5v3.0h-2.5zM433.1 84.3h2.5v6.0h-2.5zM438.1 63.2h2.5v5.0h-2.5zM440.6 71.0h2.6v5.0h-2.6zM440.6 84.0h2.6v8.0h-2.6zM443.2 79.7h2.6v8.0h-2.6zM453.6 67.6h2.6v8.0h-2.6zM453.6 83.6h2.6v4.1h-2.6zM456.2 84.2h2.6v5.0h-2.6zM458.8 59.0h2.7v8.0h-2.7zM469.5 59.0h2.7v12.0h-2.7zM469.5 83.0h2.7v5.0h-2.7zM477.7 71.9h2.8v3.0h-2.8zM477.7 77.9h2.8v3.0h-2.8zM483.3 67.2h2.8v12.0h-2.8zM483.3 79.2h2.8v6.7h-2.8zM486.1 67.0h2.8v12.0h-2.8zM486.1 82.0h2.8v3.9h-2.8zM491.7 59.0h2.8v3.0h-2.8zM491.7 86.0h2.8v0.4h-2.8zM494.5 71.0h2.9v5.0h-2.9zM494.5 76.0h2.9v9.7h-2.9zM500.2 62.7h2.9v3.0h-2.9zM500.2 65.7h2.9v8.0h-2.9zM500.2 73.7h2.9v12.0h-2.9zM500.2 85.7h2.9v0.1h-2.9zM503.1 77.1h2.9v3.0h-2.9zM503.1 80.1h2.9v3.0h-2.9zM503.1 83.1h2.9v0.1h-2.9zM506.0 67.0h2.9v12.0h-2.9zM506.0 79.0h2.9v4.8h-2.9zM509.0 64.6h2.9v5.0h-2.9zM509.0 69.6h2.9v12.0h-2.9zM511.9 68.5h3.0v5.0h-3.0zM520.8 59.6h3.0v3.0h-3.0zM520.8 65.6h3.0v3.0h-3.0zM523.8 74.0h3.0v2.0h-3.0zM532.9 62.0h3.1v12.0h-3.1zM532.9 74.0h3.1v1.2h-3.1zM539.1 67.0h3.1v6.4h-3.1zM542.2 67.6h3.1v2.6h-3.1zM548.4 59.0h3.2v3.0h-3.2zM551.6 59.0h3.2v7.4h-3.2zM564.4 62.7h3.2v0.7h-3.2z"/>
<path fill="#5c0000" d="M266.7 128.8h1.6v7.1h-1.6zM268.3 124.5h1.6v5.0h-1.6zM271.5 117.6h1.6v11.8h-1.6zM286.3 87.0h1.7v8.0h-1.7zM296.5 71.9h1.7v12.0h-1.7zM300.0 74.8h1.8v5.0h-1.8zM301.8 88.8h1.8v8.0h-1.8zM307.2 67.0h1.8v3.0h-1.8zM307.2 90.0h1.8v11.2h-1.8zM320.0 88.1h1.9v3.0h-1.9zM321.9 83.0h1.9v5.0h-1.9zM321.9 93.0h1.9v8.6h-1.9zM327.6 85.8h1.9v12.0h-1.9zM329.5 62.0h1.9v5.0h-1.9zM329.5 78.0h1.9v3.0h-1.9zM331.5 97.0h1.9v2.5h-1.9zM333.4 83.0h2.0v8.0h-2.0zM333.4 91.0h2.0v7.4h-2.0zM335.4 92.8h2.0v6.9h-2.0zM337.3 76.0h2.0v5.0h-2.0zM339.3 93.3h2.0v8.0h-2.0zM345.3 60.2h2.0v8.0h-2.0zM347.3 76.0h2.0v12.0h-2.0zM349.4 81.9h2.0v3.0h-2.0zM349.4 84.9h2.0v12.0h-2.0zM351.4 73.0h2.1v8.0h-2.1zM353.4 87.0h2.1v5.0h-2.1zM357.6 59.0h2.1v5.0h-2.1zM359.7 67.0h2.1v5.0h-2.1zM359.7 72.0h2.1v8.0h-2.1zM361.8 77.0h2.1v8.0h-2.1zM361.8 85.0h2.1v8.0h-2.1zM363.9 70.0h2.1v3.0h-2.1zM368.2 81.0h2.1v8.0h-2.1zM372.5 68.5h2.2v12.0h-2.2zM372.5 80.5h2.2v12.0h-2.2zM372.5 92.5h2.2v5.0h-2.2zM374.6 65.0h2.2v5.0h-2.2zM376.8 71.4h2.2v12.0h-2.2zM379.0 83.4h2.2v5.0h-2.2zM379.0 88.4h2.2v7.0h-2.2zM381.2 63.4h2.2v5.0h-2.2zM381.2 73.4h2.2v5.0h-2.2zM383.4 91.0h2.2v3.0h-2.2zM387.9 81.5h2.3v12.0h-2.3zM390.2 70.0h2.3v5.0h-2.3zM390.2 75.0h2.3v3.0h-2.3zM392.5 94.0h2.3v1.7h-2.3zM394.7 85.0h2.3v3.0h-2.3zM404.0 85.2h2.3v10.1h-2.3zM408.7 70.7h2.4v8.0h-2.4zM415.9 71.0h2.4v3.0h-2.4zM415.9 74.0h2.4v3.0h-2.4zM415.9 88.0h2.4v4.0h-2.4zM423.2 70.9h2.5v12.0h-2.5zM425.6 65.0h2.5v8.0h-2.5zM428.1 86.0h2.5v5.3h-2.5zM438.1 60.2h2.5v3.0h-2.5zM438.1 76.2h2.5v12.0h-2.5zM443.2 71.7h2.6v8.0h-2.6zM448.3 76.5h2.6v5.0h-2.6zM453.6 62.6h2.6v5.0h-2.6zM456.2 60.2h2.6v12.0h-2.6zM461.5 59.0h2.7v3.0h-2.7zM466.8 59.0h2.7v3.0h-2.7zM466.8 70.0h2.7v12.0h-2.7zM469.5 71.0h2.7v12.0h-2.7zM472.2 71.7h2.7v8.0h-2.7zM475.0 59.0h2.7v3.0h-2.7zM475.0 68.0h2.7v3.0h-2.7zM475.0 85.0h2.7v3.5h-2.7zM486.1 79.0h2.8v3.0h-2.8zM497.4 82.4h2.9v2.1h-2.9zM514.8 67.1h3.0v5.0h-3.0zM514.8 72.1h3.0v7.8h-3.0zM517.8 68.5h3.0v9.6h-3.0zM523.8 59.0h3.0v3.0h-3.0zM523.8 62.0h3.0v12.0h-3.0zM526.8 74.0h3.0v3.6h-3.0zM539.1 59.0h3.1v8.0h-3.1zM564.4 59.7h3.2v3.0h-3.2zM577.5 59.0h3.3v1.0h-3.3z"/>
<path fill="#290000" d="M276.3 110.4h1.6v7.5h-1.6zM279.6 110.8h1.7v0.2h-1.7zM291.4 93.2h1.7v3.0h-1.7zM291.4 99.2h1.7v2.2h-1.7zM293.1 99.5h1.7v2.2h-1.7zM298.3 95.3h1.8v4.5h-1.8zM366.0 96.6h2.1v2.5h-2.1zM561.2 64.4h3.2v0.7h-3.2z"/>
<path fill="#660000" d="M282.9 91.7h1.7v12.0h-1.7zM301.8 96.8h1.8v5.2h-1.8zM303.6 77.0h1.8v5.0h-1.8zM305.4 71.0h1.8v8.0h-1.8zM305.4 79.0h1.8v8.0h-1.8zM305.4 87.0h1.8v12.0h-1.8zM309.0 93.0h1.8v6.0h-1.8zM310.8 74.0h1.8v12.0h-1.8zM312.6 67.0h1.8v5.0h-1.8zM314.5 68.1h1.8v12.0h-1.8zM318.2 70.0h1.9v12.0h-1.9zM320.0 80.1h1.9v8.0h-1.9zM321.9 88.0h1.9v5.0h-1.9zM323.8 59.1h1.9v12.0h-1.9zM327.6 70.8h1.9v12.0h-1.9zM329.5 59.0h1.9v3.0h-1.9zM329.5 70.0h1.9v8.0h-1.9zM333.4 80.0h2.0v3.0h-2.0zM347.3 70.0h2.0v3.0h-2.0zM347.3 73.0h2.0v3.0h-2.0zM349.4 59.9h2.0v5.0h-2.0zM349.4 64.9h2.0v12.0h-2.0zM366.0 59.6h2.1v12.0h-2.1zM370.3 89.0h2.2v8.0h-2.2zM374.6 62.0h2.2v3.0h-2.2zM376.8 68.4h2.2v3.0h-2.2zM383.4 76.0h2.2v12.0h-2.2zM392.5 81.0h2.3v8.0h-2.3zM392.5 89.0h2.3v5.0h-2.3zM394.7 80.0h2.3v5.0h-2.3zM394.7 88.0h2.3v6.7h-2.3zM404.0 70.2h2.3v3.0h-2.3zM408.7 67.7h2.4v3.0h-2.4zM408.7 86.7h2.4v7.8h-2.4zM413.5 94.0h2.4v0.4h-2.4zM418.3 62.5h2.4v12.0h-2.4zM423.2 62.9h2.5v8.0h-2.5zM428.1 59.0h2.5v12.0h-2.5zM428.1 71.0h2.5v3.0h-2.5zM438.1 68.2h2.5v3.0h-2.5zM438.1 71.2h2.5v5.0h-2.5zM440.6 59.0h2.6v12.0h-2.6zM461.5 70.0h2.7v3.0h-2.7zM461.5 81.0h2.7v8.0h-2.7zM475.0 71.0h2.7v8.0h-2.7zM475.0 79.0h2.7v3.0h-2.7zM480.5 71.0h2.8v12.0h-2.8zM486.1 59.0h2.8v8.0h-2.8zM488.9 62.0h2.8v12.0h-2.8zM488.9 86.0h2.8v0.9h-2.8zM494.5 59.0h2.9v12.0h-2.9zM497.4 59.4h2.9v12.0h-2.9zM497.4 79.4h2.9v3.0h-2.9zM506.0 59.0h2.9v8.0h-2.9zM517.8 60.5h3.0v5.0h-3.0zM517.8 65.5h3.0v3.0h-3.0zM526.8 59.0h3.0v3.0h-3.0zM542.2 64.6h3.1v3.0h-3.1zM554.8 60.2h3.2v4.4h-3.2zM557.9 60.0h3.2v3.8h-3.2z"/>
<path fill="#8f0000" d="M300.0 62.8h1.8v12.0h-1.8zM301.8 59.8h1.8v8.0h-1.8zM301.8 67.8h1.8v8.0h-1.8zM301.8 75.8h1.8v8.0h-1.8zM303.6 59.0h1.8v3.0h-1.8zM318.2 59.0h1.9v3.0h-1.9zM321.9 67.0h1.9v5.0h-1.9zM333.4 64.0h2.0v8.0h-2.0zM339.3 73.3h2.0v8.0h-2.0zM341.3 74.5h2.0v8.0h-2.0zM368.2 64.0h2.1v5.0h-2.1zM381.2 60.4h2.2v3.0h-2.2zM390.2 59.0h2.3v8.0h-2.3zM406.4 65.2h2.4v8.0h-2.4z"/>
<path fill="#700000" d="M300.0 79.8h1.8v5.0h-1.8zM309.0 82.0h1.8v3.0h-1.8zM310.8 62.0h1.8v12.0h-1.8zM312.6 59.0h1.8v8.0h-1.8zM316.3 67.3h1.9v5.0h-1.9zM323.8 71.1h1.9v3.0h-1.9zM323.8 74.1h1.9v3.0h-1.9zM325.7 75.0h1.9v12.0h-1.9zM327.6 59.8h1.9v8.0h-1.9zM327.6 67.8h1.9v3.0h-1.9zM329.5 67.0h1.9v3.0h-1.9zM333.4 59.0h2.0v5.0h-2.0zM335.4 84.8h2.0v8.0h-2.0zM337.3 60.0h2.0v8.0h-2.0zM339.3 65.3h2.0v5.0h-2.0zM343.3 71.0h2.0v12.0h-2.0zM347.3 67.0h2.0v3.0h-2.0zM347.3 88.0h2.0v5.0h-2.0zM351.4 59.0h2.1v3.0h-2.1zM359.7 59.0h2.1v5.0h-2.1zM361.8 59.0h2.1v5.0h-2.1zM370.3 77.0h2.2v12.0h-2.2zM372.5 63.5h2.2v5.0h-2.2zM379.0 77.4h2.2v3.0h-2.2zM379.0 80.4h2.2v3.0h-2.2zM387.9 73.5h2.3v8.0h-2.3zM392.5 71.0h2.3v5.0h-2.3zM392.5 76.0h2.3v5.0h-2.3zM397.0 60.1h2.3v5.0h-2.3zM399.3 63.1h2.3v3.0h-2.3zM408.7 78.7h2.4v8.0h-2.4zM411.1 84.0h2.4v3.0h-2.4zM411.1 87.0h2.4v5.0h-2.4zM425.6 73.0h2.5v8.0h-2.5zM425.6 81.0h2.5v5.0h-2.5zM435.6 68.4h2.5v3.0h-2.5zM443.2 59.7h2.6v12.0h-2.6zM466.8 67.0h2.7v3.0h-2.7zM475.0 65.0h2.7v3.0h-2.7zM480.5 83.0h2.8v3.4h-2.8zM488.9 74.0h2.8v12.0h-2.8zM497.4 71.4h2.9v8.0h-2.9zM514.8 59.1h3.0v8.0h-3.0zM542.2 59.6h3.1v5.0h-3.1z"/>
<path fill="#7a0000" d="M301.8 83.8h1.8v5.0h-1.8zM303.6 62.0h1.8v3.0h-1.8zM309.0 71.0h1.8v8.0h-1.8zM310.8 59.0h1.8v3.0h-1.8zM312.6 72.0h1.8v12.0h-1.8zM316.3 59.3h1.9v8.0h-1.9zM320.0 68.1h1.9v12.0h-1.9zM321.9 72.0h1.9v8.0h-1.9zM325.7 72.0h1.9v3.0h-1.9zM331.5 59.0h1.9v3.0h-1.9zM331.5 74.0h1.9v3.0h-1.9zM339.3 70.3h2.0v3.0h-2.0zM341.3 59.5h2.0v3.0h-2.0zM355.5 60.2h2.1v12.0h-2.1zM357.6 64.0h2.1v8.0h-2.1zM359.7 64.0h2.1v3.0h-2.1zM361.8 64.0h2.1v8.0h-2.1zM363.9 65.0h2.1v5.0h-2.1zM372.5 60.5h2.2v3.0h-2.2zM374.6 59.0h2.2v3.0h-2.2zM385.7 59.0h2.2v3.0h-2.2zM387.9 60.5h2.3v5.0h-2.3zM399.3 60.1h2.3v3.0h-2.3zM404.0 73.2h2.3v12.0h-2.3zM415.9 59.0h2.4v12.0h-2.4zM418.3 59.5h2.4v3.0h-2.4zM448.3 59.5h2.6v12.0h-2.6zM448.3 71.5h2.6v5.0h-2.6zM461.5 62.0h2.7v8.0h-2.7zM466.8 62.0h2.7v5.0h-2.7zM480.5 59.0h2.8v12.0h-2.8zM526.8 62.0h3.0v12.0h-3.0zM570.9 59.0h3.3v2.7h-3.3z"/>
<path fill="#ad0000" d="M303.6 65.0h1.8v12.0h-1.8zM353.4 59.0h2.1v3.0h-2.1zM363.9 59.0h2.1v3.0h-2.1zM394.7 64.0h2.3v8.0h-2.3z"/>
<path fill="#990000" d="M305.4 59.0h1.8v12.0h-1.8zM307.2 59.0h1.8v8.0h-1.8zM309.0 79.0h1.8v3.0h-1.8zM318.2 62.0h1.9v8.0h-1.9zM321.9 62.0h1.9v5.0h-1.9zM325.7 59.0h1.9v5.0h-1.9zM325.7 64.0h1.9v8.0h-1.9zM347.3 59.0h2.0v3.0h-2.0zM347.3 62.0h2.0v5.0h-2.0zM368.2 59.0h2.1v5.0h-2.1zM376.8 60.4h2.2v8.0h-2.2zM392.5 59.0h2.3v12.0h-2.3zM413.5 59.0h2.4v5.0h-2.4z"/>
<path fill="#850000" d="M307.2 70.0h1.8v12.0h-1.8zM316.3 72.3h1.9v8.0h-1.9zM331.5 62.0h1.9v12.0h-1.9zM331.5 77.0h1.9v8.0h-1.9zM333.4 72.0h2.0v8.0h-2.0zM339.3 60.3h2.0v5.0h-2.0zM353.4 62.0h2.1v12.0h-2.1zM370.3 60.0h2.2v12.0h-2.2zM379.0 60.4h2.2v5.0h-2.2zM385.7 62.0h2.2v5.0h-2.2zM387.9 65.5h2.3v8.0h-2.3zM397.0 65.1h2.3v12.0h-2.3zM401.7 62.0h2.3v8.0h-2.3zM411.1 59.0h2.4v8.0h-2.4zM411.1 67.0h2.4v5.0h-2.4zM411.1 72.0h2.4v12.0h-2.4zM413.5 64.0h2.4v5.0h-2.4zM425.6 59.0h2.5v3.0h-2.5zM488.9 59.0h2.8v3.0h-2.8z"/>
<path fill="#d60000" d="M309.0 59.0h1.8v12.0h-1.8z"/>
<path fill="#a30000" d="M320.0 60.1h1.9v8.0h-1.9zM335.4 76.8h2.0v8.0h-2.0zM343.3 59.0h2.0v12.0h-2.0zM351.4 62.0h2.1v3.0h-2.1zM351.4 65.0h2.1v8.0h-2.1zM363.9 62.0h2.1v3.0h-2.1zM394.7 59.0h2.3v5.0h-2.3zM404.0 65.2h2.3v5.0h-2.3zM406.4 60.2h2.4v5.0h-2.4zM408.7 59.7h2.4v8.0h-2.4z"/>
<path fill="#b80000" d="M321.9 59.0h1.9v3.0h-1.9zM335.4 59.8h2.0v5.0h-2.0zM341.3 62.5h2.0v12.0h-2.0zM379.0 65.4h2.2v12.0h-2.2zM383.4 64.0h2.2v12.0h-2.2zM404.0 60.2h2.3v5.0h-2.3z"/>
<path fill="#c20000" d="M335.4 64.8h2.0v12.0h-2.0zM383.4 59.0h2.2v5.0h-2.2z"/>
<path fill="#0d5801" d="M493.2 83.8h3.0v2.0h-3.0zM363.1 95.0h6.0v3.0h-6.0zM319.8 84.3h4.0v3.0h-4.0zM313.3 97.2h4.0v5.0h-4.0zM533.4 60.5h4.0v3.0h-4.0zM329.8 75.3h6.0v3.0h-6.0zM301.5 91.8h3.0v2.0h-3.0zM359.7 80.5h3.0v3.0h-3.0zM303.4 90.4h3.0v2.0h-3.0zM468.7 83.7h4.0v3.0h-4.0zM440.9 85.8h6.0v2.0h-6.0zM303.9 92.2h6.0v4.0h-6.0zM357.6 92.5h3.0v3.0h-3.0zM363.1 86.2h4.0v3.0h-4.0zM368.8 83.9h4.0v5.0h-4.0zM328.8 86.3h3.0v2.0h-3.0zM382.0 91.0h6.0v5.0h-6.0zM561.6 61.4h4.0v3.0h-4.0zM529.8 71.8h3.0v3.0h-3.0zM489.0 71.5h4.0v4.0h-4.0zM535.7 62.5h3.0v5.0h-3.0zM510.7 67.3h6.0v3.0h-6.0zM324.4 75.6h4.0v3.0h-4.0zM535.0 68.8h3.0v2.0h-3.0zM400.6 90.5h3.0v5.0h-3.0zM419.6 87.9h6.0v5.0h-6.0zM306.1 87.2h4.0v3.0h-4.0zM489.1 84.7h4.0v3.0h-4.0zM324.3 89.3h3.0v3.0h-3.0zM469.3 68.2h6.0v2.0h-6.0zM496.6 83.5h4.0v2.0h-4.0z"/>
<path fill="#0b4c01" d="M531.4 61.3h4.0v5.0h-4.0zM354.5 95.0h6.0v4.0h-6.0zM323.1 97.6h3.0v3.0h-3.0zM441.7 68.6h4.0v2.0h-4.0zM429.5 79.4h3.0v5.0h-3.0zM341.3 75.0h3.0v4.0h-3.0zM326.5 92.2h4.0v5.0h-4.0zM483.6 84.1h4.0v5.0h-4.0zM332.3 97.6h6.0v3.0h-6.0zM512.9 75.9h3.0v5.0h-3.0zM424.7 88.2h6.0v5.0h-6.0zM520.6 63.4h4.0v2.0h-4.0zM383.8 89.0h3.0v2.0h-3.0zM381.4 95.0h4.0v5.0h-4.0zM455.2 80.2h3.0v5.0h-3.0zM549.4 59.3h6.0v4.0h-6.0zM405.9 86.6h4.0v3.0h-4.0zM529.6 73.1h3.0v3.0h-3.0zM500.6 78.5h3.0v4.0h-3.0zM305.0 89.5h6.0v2.0h-6.0zM370.5 94.4h4.0v2.0h-4.0zM348.4 94.8h4.0v3.0h-4.0zM551.0 62.8h3.0v4.0h-3.0zM324.6 95.7h4.0v3.0h-4.0zM518.5 68.7h6.0v4.0h-6.0zM415.3 88.4h6.0v5.0h-6.0z"/>
<path fill="#127e02" d="M519.3 70.3h6.0v3.0h-6.0zM461.4 83.9h4.0v4.0h-4.0zM395.2 91.3h4.0v3.0h-4.0zM383.1 84.2h3.0v5.0h-3.0zM460.1 75.3h3.0v5.0h-3.0zM368.0 92.8h4.0v3.0h-4.0zM333.9 90.8h3.0v3.0h-3.0zM516.9 75.8h4.0v3.0h-4.0zM342.7 94.5h3.0v3.0h-3.0zM305.0 92.8h4.0v3.0h-4.0zM341.8 79.3h3.0v2.0h-3.0zM393.2 92.6h3.0v3.0h-3.0zM461.4 75.4h4.0v5.0h-4.0zM424.4 79.8h4.0v3.0h-4.0zM406.4 59.4h4.0v2.0h-4.0zM372.4 77.8h4.0v2.0h-4.0zM451.5 87.9h4.0v2.0h-4.0zM322.6 93.8h6.0v2.0h-6.0zM395.1 83.2h6.0v3.0h-6.0zM333.6 66.5h3.0v3.0h-3.0zM348.2 93.5h4.0v2.0h-4.0zM349.1 92.3h4.0v3.0h-4.0zM352.2 89.9h3.0v4.0h-3.0z"/>
<path fill="#0e6502" d="M313.0 64.2h3.0v5.0h-3.0zM433.7 87.5h3.0v3.0h-3.0zM308.4 71.3h3.0v4.0h-3.0zM421.4 77.7h4.0v4.0h-4.0zM526.4 73.2h3.0v3.0h-3.0zM515.5 64.3h3.0v5.0h-3.0zM541.2 64.6h4.0v3.0h-4.0zM444.5 81.8h6.0v2.0h-6.0zM478.2 74.4h6.0v3.0h-6.0zM413.6 88.2h3.0v5.0h-3.0zM461.0 68.2h4.0v4.0h-4.0zM322.5 99.0h6.0v3.0h-6.0zM578.6 59.3h3.0v3.0h-3.0zM477.9 83.9h4.0v4.0h-4.0zM307.3 98.1h3.0v3.0h-3.0zM415.9 68.1h3.0v5.0h-3.0zM506.1 81.5h6.0v3.0h-6.0zM344.2 82.5h6.0v5.0h-6.0z"/></g>
<g filter="url(#b1)"><path fill="#8c0000" d="M117.0 499.1h1.0v3.1h-1.0zM190.7 478.2h1.2v11.9h-1.2zM191.8 477.4h1.2v11.4h-1.2zM193.0 476.0h1.2v12.4h-1.2zM307.0 298.5h1.8v8.5h-1.8zM308.8 297.7h1.8v8.2h-1.8zM310.6 297.3h1.8v5.8h-1.8zM739.0 191.9h3.9v8.0h-3.9zM750.0 129.0h3.8v20.7h-3.8z"/>
<path fill="#990000" d="M118.0 498.8h1.0v2.9h-1.0zM119.0 499.2h1.0v2.7h-1.0zM120.0 498.8h1.0v2.8h-1.0zM746.6 156.5h3.4v17.1h-3.4z"/>
<path fill="#b30000" d="M121.0 498.4h1.0v3.0h-1.0zM125.0 498.3h1.0v2.8h-1.0zM131.0 498.0h1.0v3.1h-1.0zM133.0 497.8h1.0v2.4h-1.0zM134.0 497.1h1.0v3.5h-1.0zM139.0 496.7h1.0v3.3h-1.0zM142.0 496.3h1.0v2.8h-1.0zM143.0 496.4h1.0v2.9h-1.0zM144.0 495.9h1.0v3.4h-1.0zM148.0 495.8h1.0v2.9h-1.0zM150.0 495.6h1.0v2.7h-1.0zM154.0 494.6h1.0v3.2h-1.0zM155.0 494.3h1.0v3.2h-1.0zM157.0 493.5h1.0v3.4h-1.0zM173.1 487.0h1.1v8.0h-1.1zM176.2 486.4h1.1v8.1h-1.1zM177.3 485.4h1.1v9.1h-1.1zM178.4 485.1h1.1v8.6h-1.1zM180.6 484.3h1.1v8.3h-1.1zM182.8 482.6h1.1v9.8h-1.1zM183.9 481.8h1.1v11.0h-1.1zM185.0 481.9h1.1v10.3h-1.1zM186.1 481.3h1.1v10.0h-1.1zM187.3 480.7h1.1v10.3h-1.1zM296.4 306.4h1.7v9.6h-1.7zM299.9 303.1h1.8v9.0h-1.8z"/>
<path fill="#a60000" d="M122.0 498.4h1.0v2.9h-1.0zM123.0 498.4h1.0v2.9h-1.0zM124.0 498.5h1.0v2.9h-1.0zM126.0 498.2h1.0v2.7h-1.0zM128.0 498.0h1.0v2.8h-1.0zM130.0 498.2h1.0v2.4h-1.0zM137.0 497.2h1.0v2.9h-1.0zM172.0 487.4h1.1v8.1h-1.1zM174.1 486.8h1.1v7.8h-1.1zM175.2 487.2h1.1v7.0h-1.1zM181.7 483.8h1.1v8.7h-1.1zM188.4 480.6h1.1v10.7h-1.1zM189.5 479.2h1.1v10.8h-1.1zM301.7 302.5h1.8v9.2h-1.8zM303.4 300.8h1.8v9.2h-1.8zM305.2 300.2h1.8v8.1h-1.8z"/>
<path fill="#bf0000" d="M127.0 498.5h1.0v2.7h-1.0zM129.0 497.7h1.0v3.6h-1.0zM132.0 497.9h1.0v2.7h-1.0zM135.0 497.6h1.0v2.6h-1.0zM136.0 497.3h1.0v3.1h-1.0zM138.0 496.6h1.0v3.1h-1.0zM140.0 496.5h1.0v2.8h-1.0zM141.0 496.5h1.0v3.0h-1.0zM146.0 495.9h1.0v2.9h-1.0zM147.0 495.6h1.0v3.2h-1.0zM149.0 495.4h1.0v3.5h-1.0zM152.0 495.0h1.0v3.1h-1.0zM156.0 494.0h1.0v3.3h-1.0zM158.0 493.9h1.0v3.2h-1.0zM160.0 492.8h1.0v4.2h-1.0zM161.0 492.5h1.0v4.1h-1.0zM163.0 492.2h1.0v3.9h-1.0zM164.0 491.7h1.0v4.4h-1.0zM168.1 491.3h1.0v4.1h-1.0zM169.1 490.3h1.0v4.6h-1.0zM179.5 484.2h1.1v9.3h-1.1zM207.6 420.5h1.3v6.4h-1.3z"/>
<path fill="#cc0000" d="M145.0 496.1h1.0v3.1h-1.0zM151.0 495.2h1.0v2.8h-1.0zM153.0 495.0h1.0v2.9h-1.0zM159.0 493.2h1.0v3.6h-1.0zM162.0 492.4h1.0v4.0h-1.0zM171.2 489.4h1.0v5.5h-1.0zM208.8 420.6h1.3v6.3h-1.3zM210.1 419.0h1.3v6.3h-1.3zM212.6 417.1h1.3v7.2h-1.3zM217.8 413.4h1.3v7.3h-1.3zM220.4 410.4h1.3v7.7h-1.3zM224.4 404.8h1.3v8.6h-1.3zM236.7 391.1h1.4v10.8h-1.4zM254.2 367.9h1.5v13.6h-1.5zM281.1 320.9h1.7v20.9h-1.7zM289.5 311.2h1.7v11.9h-1.7zM292.9 307.9h1.7v11.4h-1.7zM294.7 306.8h1.7v10.9h-1.7zM298.1 304.1h1.8v10.2h-1.8zM721.2 233.5h2.8v11.5h-2.8z"/>
<path fill="#d90000" d="M165.0 492.1h1.0v3.4h-1.0zM166.0 491.4h1.0v4.5h-1.0zM167.0 491.0h1.0v4.4h-1.0zM170.1 490.3h1.0v4.2h-1.0zM211.3 418.4h1.3v6.2h-1.3zM216.5 413.8h1.3v8.0h-1.3zM221.7 408.0h1.3v8.4h-1.3zM223.0 406.6h1.3v8.2h-1.3zM225.7 403.3h1.4v9.6h-1.4zM228.4 401.0h1.4v8.8h-1.4zM229.8 399.5h1.4v8.8h-1.4zM232.5 395.3h1.4v10.4h-1.4zM233.9 393.8h1.4v11.6h-1.4zM238.2 389.6h1.4v10.5h-1.4zM243.9 384.1h1.5v11.2h-1.5zM248.3 379.2h1.5v11.7h-1.5zM255.7 365.7h1.5v12.8h-1.5zM258.8 360.3h1.5v13.4h-1.5zM261.9 354.9h1.6v13.3h-1.6zM263.4 352.9h1.6v13.3h-1.6zM269.7 342.9h1.6v14.3h-1.6zM271.3 340.7h1.6v14.1h-1.6zM272.9 338.3h1.6v13.5h-1.6zM274.5 334.9h1.6v16.0h-1.6zM276.2 330.9h1.6v18.1h-1.6zM279.4 322.7h1.7v22.3h-1.7zM286.1 314.1h1.7v16.3h-1.7zM287.8 312.6h1.7v14.2h-1.7zM291.2 309.0h1.7v12.2h-1.7zM293.5 320.1h1.7v16.5h-1.7zM298.7 318.8h1.8v17.4h-1.8zM304.0 319.5h1.8v16.4h-1.8zM307.6 319.1h1.8v16.7h-1.8zM318.6 320.1h1.9v16.1h-1.9zM322.4 319.9h1.9v15.9h-1.9zM326.2 320.3h1.9v15.7h-1.9zM328.1 320.2h1.9v16.0h-1.9zM337.8 320.2h2.0v15.6h-2.0zM341.8 320.6h2.0v15.3h-2.0zM354.0 320.9h2.1v15.1h-2.1zM370.8 321.2h2.2v14.3h-2.2zM373.0 321.0h2.2v13.9h-2.2zM390.7 320.4h2.3v14.5h-2.3zM397.6 320.4h2.3v13.8h-2.3zM399.9 320.6h2.3v13.7h-2.3zM406.9 320.4h2.4v14.0h-2.4zM409.3 321.0h2.4v13.4h-2.4zM416.5 320.5h2.4v13.5h-2.4zM423.8 320.3h2.5v12.7h-2.5zM431.2 320.2h2.5v12.6h-2.5zM433.7 319.8h2.5v12.7h-2.5zM438.7 319.8h2.5v12.4h-2.5zM441.3 319.9h2.6v12.1h-2.6zM451.6 319.3h2.6v11.9h-2.6zM454.2 319.4h2.6v12.0h-2.6zM478.4 318.7h2.8v10.9h-2.8zM484.0 318.7h2.8v10.2h-2.8zM489.6 317.9h2.8v10.6h-2.8zM492.4 317.9h2.8v10.3h-2.8zM506.8 316.6h2.9v10.5h-2.9zM518.6 315.1h3.0v11.0h-3.0zM521.5 314.5h3.0v11.4h-3.0zM524.5 314.7h3.0v10.9h-3.0zM552.4 311.1h3.2v10.0h-3.2zM575.0 306.3h3.3v10.1h-3.3zM588.3 303.5h3.4v9.5h-3.4zM591.7 302.9h3.4v9.2h-3.4zM627.9 295.1h3.6v8.2h-3.6zM631.5 294.1h3.6v8.3h-3.6zM642.4 289.8h3.7v9.4h-3.7zM653.5 285.3h3.7v9.6h-3.7zM715.5 241.0h2.8v10.0h-2.8z"/>
<path fill="#800000" d="M194.2 475.2h1.2v13.2h-1.2zM195.4 475.9h1.2v11.7h-1.2zM206.3 420.7h1.2v5.4h-1.2zM724.0 228.4h3.4v10.2h-3.4z"/>
<path fill="#730000" d="M196.5 476.2h1.2v11.5h-1.2zM197.7 477.1h1.2v10.1h-1.2zM205.1 418.8h1.2v5.8h-1.2zM312.5 296.1h1.8v6.1h-1.8zM314.3 295.7h1.8v6.3h-1.8zM718.3 236.0h2.9v1.5h-2.9zM718.3 248.0h2.9v1.5h-2.9z"/>
<path fill="#660000" d="M198.9 476.5h1.2v10.5h-1.2zM316.1 295.6h1.9v4.2h-1.9zM720.0 213.5h3.5v8.0h-3.5zM728.5 193.0h3.5v11.4h-3.5z"/>
<path fill="#590000" d="M200.1 477.7h1.2v9.2h-1.2zM201.3 477.2h1.2v9.7h-1.2zM202.5 477.7h1.2v8.7h-1.2zM203.8 477.9h1.2v8.1h-1.2zM203.8 415.5h1.2v7.0h-1.2zM318.0 293.9h1.9v5.6h-1.9z"/>
<path fill="#4d0000" d="M205.0 478.3h1.2v8.0h-1.2zM206.2 477.9h1.2v8.1h-1.2zM207.5 478.5h1.2v7.0h-1.2zM199.0 404.3h1.2v12.5h-1.2zM200.2 406.2h1.2v12.1h-1.2zM201.4 408.7h1.2v9.4h-1.2zM202.6 411.1h1.2v8.3h-1.2zM319.9 293.4h1.9v5.7h-1.9zM739.0 190.4h3.9v1.5h-3.9zM739.0 199.9h3.9v1.5h-3.9zM750.0 127.5h3.8v1.5h-3.8zM750.0 149.7h3.8v1.5h-3.8z"/>
<path fill="#400000" d="M208.7 479.2h1.3v6.1h-1.3zM210.0 479.4h1.3v5.8h-1.3zM321.8 293.0h1.9v5.2h-1.9z"/>
<path fill="#330000" d="M211.2 479.8h1.3v5.0h-1.3zM323.6 292.6h1.9v4.9h-1.9z"/>
<path fill="#260000" d="M212.5 480.3h1.3v4.8h-1.3z"/>
<path fill="#380000" d="M190.0 466.0h2.0v14.0h-2.0zM198.0 464.0h2.0v14.0h-2.0zM720.0 212.0h3.5v1.5h-3.5zM720.0 221.5h3.5v1.5h-3.5zM728.5 191.5h3.5v1.5h-3.5zM728.5 204.4h3.5v1.5h-3.5z"/>
<path fill="#4c0000" d="M192.0 460.0h2.0v20.0h-2.0zM196.0 458.0h2.0v16.0h-2.0zM736.0 147.4h2.8v9.1h-2.8z"/>
<path fill="#540000" d="M194.0 456.0h2.0v20.0h-2.0zM746.6 155.0h3.4v1.5h-3.4zM746.6 173.6h3.4v1.5h-3.4z"/>
<path fill="#b20000" d="M117.0 493.0h1.2v8.0h-1.2z"/>
<path fill="#e60000" d="M213.9 416.2h1.3v7.0h-1.3zM215.2 415.6h1.3v6.6h-1.3zM231.2 398.2h1.4v9.6h-1.4zM235.3 393.1h1.4v10.6h-1.4zM242.4 386.3h1.4v9.7h-1.4zM246.8 381.3h1.5v11.6h-1.5zM249.7 376.8h1.5v11.7h-1.5zM251.2 373.5h1.5v13.6h-1.5zM257.3 363.0h1.5v12.4h-1.5zM265.0 349.4h1.6v14.2h-1.6zM266.6 347.0h1.6v14.5h-1.6zM268.1 345.2h1.6v14.6h-1.6zM277.8 326.3h1.6v20.7h-1.6zM282.8 319.1h1.7v18.1h-1.7zM284.4 316.3h1.7v17.0h-1.7zM295.2 319.1h1.7v17.1h-1.7zM305.8 319.5h1.8v16.5h-1.8zM311.2 319.3h1.8v16.7h-1.8zM313.1 319.9h1.8v15.9h-1.8zM314.9 319.7h1.9v16.5h-1.9zM335.9 320.1h2.0v15.9h-2.0zM345.8 320.3h2.0v15.4h-2.0zM347.8 321.1h2.0v14.4h-2.0zM358.1 321.2h2.1v14.5h-2.1zM362.3 320.7h2.1v15.1h-2.1zM364.4 321.1h2.1v14.2h-2.1zM384.0 320.4h2.2v14.6h-2.2zM388.5 320.7h2.3v13.9h-2.3zM395.3 320.4h2.3v14.2h-2.3zM404.6 320.6h2.4v13.5h-2.4zM411.7 320.8h2.4v13.2h-2.4zM436.2 319.8h2.5v12.6h-2.5zM446.4 319.1h2.6v12.5h-2.6zM459.5 318.9h2.7v12.2h-2.7zM462.1 319.1h2.7v11.7h-2.7zM464.8 319.1h2.7v11.5h-2.7zM470.2 318.7h2.7v11.6h-2.7zM472.9 319.0h2.7v10.9h-2.7zM481.2 318.2h2.8v11.0h-2.8zM486.7 318.0h2.8v10.6h-2.8zM495.2 317.5h2.9v10.7h-2.9zM501.0 317.6h2.9v10.4h-2.9zM509.7 316.3h2.9v10.7h-2.9zM512.6 315.7h3.0v10.9h-3.0zM515.6 315.9h3.0v10.5h-3.0zM527.6 314.6h3.0v10.2h-3.0zM530.6 314.2h3.1v10.6h-3.1zM533.7 313.8h3.1v10.6h-3.1zM536.7 313.2h3.1v10.6h-3.1zM539.8 312.9h3.1v10.5h-3.1zM542.9 311.9h3.1v10.9h-3.1zM571.7 307.0h3.3v10.7h-3.3zM581.6 304.3h3.3v10.4h-3.3zM595.1 302.2h3.4v9.6h-3.4zM602.0 300.3h3.5v9.7h-3.5zM605.4 299.8h3.5v9.6h-3.5zM612.4 298.0h3.5v10.1h-3.5zM635.1 292.4h3.6v8.7h-3.6zM638.8 291.2h3.7v8.7h-3.7zM649.8 287.2h3.7v8.9h-3.7zM657.3 284.0h3.8v9.2h-3.8zM661.0 282.5h3.8v9.0h-3.8zM684.1 270.9h3.9v9.4h-3.9zM691.9 265.3h4.0v10.5h-4.0z"/>
<path fill="#f20000" d="M219.1 411.9h1.3v8.0h-1.3zM227.1 401.8h1.4v9.8h-1.4zM239.6 389.5h1.4v9.8h-1.4zM241.0 387.6h1.4v10.0h-1.4zM245.3 383.1h1.5v10.7h-1.5zM252.7 371.3h1.5v12.1h-1.5zM260.3 356.9h1.5v14.4h-1.5zM297.0 319.3h1.8v17.0h-1.8zM300.5 319.1h1.8v16.8h-1.8zM302.3 318.8h1.8v17.2h-1.8zM309.4 319.5h1.8v16.3h-1.8zM316.8 319.9h1.9v16.0h-1.9zM320.5 319.6h1.9v16.3h-1.9zM324.3 319.5h1.9v16.3h-1.9zM330.0 320.1h1.9v15.9h-1.9zM331.9 320.3h1.9v15.5h-1.9zM333.9 319.9h2.0v16.3h-2.0zM339.8 320.5h2.0v15.6h-2.0zM343.8 320.4h2.0v15.4h-2.0zM349.9 320.8h2.0v15.1h-2.0zM351.9 320.6h2.1v15.1h-2.1zM356.0 321.1h2.1v14.6h-2.1zM360.2 320.8h2.1v14.6h-2.1zM366.5 320.8h2.1v14.6h-2.1zM368.7 320.8h2.2v14.7h-2.2zM375.2 320.7h2.2v14.4h-2.2zM377.4 320.9h2.2v14.4h-2.2zM379.6 320.4h2.2v14.5h-2.2zM381.8 320.3h2.2v14.4h-2.2zM386.2 320.9h2.2v13.8h-2.2zM393.0 320.8h2.3v13.8h-2.3zM402.2 321.0h2.3v13.0h-2.3zM414.1 321.0h2.4v13.1h-2.4zM418.9 321.0h2.4v12.3h-2.4zM421.3 320.3h2.4v13.0h-2.4zM426.2 320.3h2.5v12.4h-2.5zM428.7 320.5h2.5v12.4h-2.5zM443.8 319.3h2.6v12.4h-2.6zM449.0 318.9h2.6v12.4h-2.6zM456.8 319.3h2.6v11.5h-2.6zM467.5 318.7h2.7v11.6h-2.7zM475.7 318.4h2.7v11.3h-2.7zM498.1 318.0h2.9v10.1h-2.9zM503.9 316.9h2.9v10.6h-2.9zM546.1 311.7h3.1v10.4h-3.1zM549.2 311.7h3.2v10.2h-3.2zM555.5 310.0h3.2v10.9h-3.2zM558.7 310.1h3.2v10.0h-3.2zM562.0 308.9h3.2v10.4h-3.2zM565.2 308.6h3.2v9.9h-3.2zM568.4 307.5h3.3v10.8h-3.3zM578.3 305.6h3.3v9.8h-3.3zM598.5 301.0h3.4v10.1h-3.4zM608.9 299.2h3.5v9.7h-3.5zM626.5 294.3h3.6v9.0h-3.6zM646.1 288.8h3.7v9.0h-3.7zM664.8 281.3h3.8v8.5h-3.8zM668.6 279.3h3.8v8.3h-3.8zM672.5 277.2h3.8v8.6h-3.8zM676.3 275.0h3.9v8.8h-3.9zM680.2 273.1h3.9v8.7h-3.9zM688.0 268.8h3.9v9.6h-3.9zM695.9 262.5h4.0v9.9h-4.0zM699.9 258.0h4.0v11.5h-4.0zM703.9 253.8h4.0v11.6h-4.0z"/>
<path fill="#a10000" d="M585.0 304.1h3.4v9.7h-3.4zM619.4 296.1h3.6v9.1h-3.6z"/>
<path fill="#aa0000" d="M615.9 296.8h3.5v10.0h-3.5zM623.0 295.1h3.6v8.8h-3.6z"/>
<path fill="#7b0000" d="M705.7 249.5h3.3v1.5h-3.3zM705.7 262.0h3.3v1.5h-3.3zM709.0 246.0h3.5v1.5h-3.5zM709.0 258.5h3.5v1.5h-3.5z"/>
<path fill="#e00000" d="M705.7 251.0h3.3v11.0h-3.3zM709.0 247.5h3.5v11.0h-3.5z"/>
<path fill="#790000" d="M712.5 242.8h3.0v1.5h-3.0zM712.5 255.0h3.0v1.5h-3.0z"/>
<path fill="#db0000" d="M712.5 244.3h3.0v10.7h-3.0z"/>
<path fill="#770000" d="M715.5 239.5h2.8v1.5h-2.8zM715.5 251.0h2.8v1.5h-2.8z"/>
<path fill="#d10000" d="M718.3 237.5h2.9v10.5h-2.9z"/>
<path fill="#700000" d="M721.2 232.0h2.8v1.5h-2.8zM721.2 245.0h2.8v1.5h-2.8z"/>
<path fill="#460000" d="M724.0 226.9h3.4v1.5h-3.4zM724.0 238.6h3.4v1.5h-3.4z"/>
<path fill="#5f0000" d="M727.4 218.9h3.9v1.5h-3.9zM727.4 231.8h3.9v1.5h-3.9zM731.3 209.8h3.7v1.5h-3.7zM731.3 222.7h3.7v1.5h-3.7z"/>
<path fill="#ad0000" d="M727.4 220.4h3.9v11.4h-3.9zM731.3 211.3h3.7v11.4h-3.7z"/>
<path fill="#5d0000" d="M736.0 199.5h3.2v1.5h-3.2zM736.0 213.5h3.2v1.5h-3.2zM742.9 173.3h3.7v1.5h-3.7zM742.9 189.6h3.7v1.5h-3.7z"/>
<path fill="#a80000" d="M736.0 201.0h3.2v12.5h-3.2zM742.9 174.8h3.7v14.8h-3.7z"/>
<path fill="#2a0000" d="M736.0 145.9h2.8v1.5h-2.8zM736.0 156.5h2.8v1.5h-2.8z"/></g>
<g filter="url(#b1)"><path fill="#148b02" d="M280.5 105.3h3.0v5.0h-3.0zM297.0 87.1h3.0v4.0h-3.0zM288.0 94.7h1.5v2.0h-1.5zM288.0 94.0h3.0v4.0h-3.0zM283.5 98.2h3.0v3.0h-3.0zM268.5 122.6h1.5v5.0h-1.5zM271.5 119.0h1.5v5.0h-1.5zM274.5 112.0h1.5v3.0h-1.5zM288.0 94.6h1.5v2.0h-1.5zM282.0 99.5h3.0v2.0h-3.0zM177.0 470.0h1.5v14.0h-1.5zM614.1 296.9h3.5v3.4h-3.5zM621.2 294.4h3.6v3.7h-3.6z"/>
<path fill="#107102" d="M292.5 90.0h3.0v3.0h-3.0zM276.0 108.5h1.5v2.0h-1.5zM264.0 130.0h1.5v4.0h-1.5zM286.5 99.4h3.0v5.0h-3.0zM295.5 88.2h3.0v2.0h-3.0zM297.0 86.7h1.5v5.0h-1.5zM102.0 495.0h1.0v5.2h-1.0zM113.0 493.6h1.0v7.2h-1.0zM115.0 493.3h1.0v7.3h-1.0zM116.0 493.3h1.0v7.4h-1.0zM179.0 474.0h1.5v8.0h-1.5zM183.0 475.0h1.5v7.0h-1.5zM177.6 414.2h1.1v6.0h-1.1zM717.1 220.4h3.9v4.6h-3.9z"/>
<path fill="#127e02" d="M267.0 129.5h3.0v3.0h-3.0zM276.0 106.2h3.0v3.0h-3.0zM270.0 117.2h1.5v5.0h-1.5zM273.0 111.0h1.5v3.0h-1.5zM277.5 106.2h1.5v3.0h-1.5zM295.5 85.7h3.0v4.0h-3.0zM276.0 106.1h1.5v2.0h-1.5zM268.5 119.4h1.5v5.0h-1.5zM117.0 493.3h1.0v7.4h-1.0zM181.0 473.0h1.5v8.0h-1.5zM178.7 415.2h1.1v7.3h-1.1zM617.6 295.3h3.5v3.8h-3.5z"/>
<path fill="#0b4c01" d="M265.5 129.9h3.0v3.0h-3.0zM265.5 127.4h1.5v4.0h-1.5zM285.0 97.7h3.0v3.0h-3.0zM270.0 117.7h1.5v5.0h-1.5zM265.5 131.7h3.0v3.0h-3.0zM295.5 90.6h1.5v5.0h-1.5zM271.5 116.4h1.5v5.0h-1.5zM280.5 105.6h3.0v2.0h-3.0zM295.5 86.0h1.5v3.0h-1.5zM280.5 100.8h1.5v5.0h-1.5zM295.5 86.2h1.5v2.0h-1.5zM291.0 89.0h3.0v3.0h-3.0zM265.5 126.0h1.5v2.0h-1.5z"/>
<path fill="#0e6502" d="M291.0 90.3h1.5v3.0h-1.5zM277.5 108.3h3.0v3.0h-3.0zM271.5 117.0h1.5v4.0h-1.5zM291.0 92.6h1.5v4.0h-1.5zM295.5 87.6h1.5v2.0h-1.5zM294.0 90.6h1.5v4.0h-1.5zM267.0 126.7h1.5v4.0h-1.5zM295.5 87.5h3.0v2.0h-3.0zM285.0 97.9h3.0v3.0h-3.0zM80.0 497.0h1.0v3.8h-1.0zM82.0 497.3h1.0v3.6h-1.0zM83.0 496.2h1.0v3.8h-1.0zM84.0 496.2h1.0v4.2h-1.0zM85.0 496.2h1.0v4.4h-1.0zM86.0 496.5h1.0v3.8h-1.0zM87.0 496.8h1.0v3.8h-1.0zM88.0 495.9h1.0v4.5h-1.0zM91.0 496.4h1.0v4.3h-1.0zM92.0 496.2h1.0v4.1h-1.0zM93.0 495.5h1.0v5.1h-1.0zM94.0 496.0h1.0v4.6h-1.0zM95.0 495.8h1.0v4.9h-1.0zM96.0 495.5h1.0v5.4h-1.0zM97.0 495.3h1.0v5.0h-1.0zM98.0 496.0h1.0v4.7h-1.0zM99.0 495.9h1.0v4.2h-1.0zM100.0 495.5h1.0v5.1h-1.0zM101.0 494.9h1.0v5.7h-1.0zM103.0 494.5h1.0v6.0h-1.0zM104.0 494.7h1.0v6.1h-1.0zM105.0 494.5h1.0v5.8h-1.0zM106.0 494.4h1.0v6.4h-1.0zM107.0 494.7h1.0v6.0h-1.0zM108.0 494.5h1.0v5.8h-1.0zM109.0 493.7h1.0v6.7h-1.0zM110.0 494.1h1.0v6.4h-1.0zM111.0 493.5h1.0v6.6h-1.0zM112.0 493.2h1.0v7.4h-1.0zM114.0 493.8h1.0v6.9h-1.0zM176.6 412.8h1.1v4.8h-1.1zM731.5 173.5h3.5v2.4h-3.5z"/>
<path fill="#0d5801" d="M81.0 497.3h1.0v3.0h-1.0zM89.0 496.0h1.0v4.8h-1.0zM90.0 496.0h1.0v4.1h-1.0zM175.5 411.0h1.1v4.1h-1.1z"/>
<path fill="#17a403" d="M118.0 492.3h1.0v8.1h-1.0zM119.0 492.0h1.0v8.1h-1.0zM124.0 492.1h1.0v7.6h-1.0zM126.0 492.0h1.0v7.2h-1.0zM131.0 490.7h1.0v7.6h-1.0zM132.0 491.2h1.0v7.7h-1.0zM133.0 491.2h1.0v6.9h-1.0zM134.0 490.6h1.0v7.5h-1.0zM136.0 490.4h1.0v8.2h-1.0zM140.0 490.0h1.0v7.0h-1.0zM141.0 489.3h1.0v7.9h-1.0zM143.0 489.2h1.0v7.5h-1.0zM145.0 488.9h1.0v7.8h-1.0zM146.0 488.1h1.0v8.5h-1.0zM150.0 487.6h1.0v8.5h-1.0zM151.0 487.9h1.0v8.1h-1.0zM154.0 486.7h1.0v8.9h-1.0zM155.0 486.8h1.0v8.1h-1.0zM158.0 485.7h1.0v8.6h-1.0zM161.0 484.6h1.0v8.7h-1.0zM164.0 484.5h1.0v8.2h-1.0zM165.0 484.0h1.0v8.3h-1.0zM175.5 464.0h1.5v22.0h-1.5zM179.8 417.5h1.1v8.4h-1.1zM593.4 301.1h3.4v1.9h-3.4zM603.7 298.7h3.5v1.8h-3.5zM607.1 298.1h3.5v1.8h-3.5zM610.6 297.5h3.5v1.5h-3.5z"/>
<path fill="#169702" d="M120.0 492.6h1.0v7.1h-1.0zM121.0 491.8h1.0v7.9h-1.0zM122.0 492.0h1.0v8.3h-1.0zM123.0 492.2h1.0v7.2h-1.0zM128.0 491.4h1.0v7.5h-1.0zM129.0 491.3h1.0v7.9h-1.0zM137.0 490.2h1.0v7.9h-1.0zM147.0 488.5h1.0v7.7h-1.0zM171.0 474.0h1.5v10.0h-1.5zM624.8 293.7h3.6v3.2h-3.6zM727.4 191.2h5.6v2.0h-5.6z"/>
<path fill="#19b003" d="M125.0 491.8h1.0v7.4h-1.0zM127.0 491.5h1.0v7.8h-1.0zM130.0 491.7h1.0v7.5h-1.0zM135.0 490.9h1.0v7.7h-1.0zM138.0 490.1h1.0v7.6h-1.0zM139.0 489.7h1.0v7.8h-1.0zM142.0 489.3h1.0v7.7h-1.0zM144.0 488.5h1.0v8.6h-1.0zM148.0 487.7h1.0v8.3h-1.0zM152.0 487.4h1.0v8.0h-1.0zM153.0 487.1h1.0v8.6h-1.0zM156.0 486.5h1.0v7.9h-1.0zM157.0 485.5h1.0v9.4h-1.0zM159.0 485.7h1.0v8.8h-1.0zM160.0 485.1h1.0v9.0h-1.0zM162.0 484.3h1.0v8.9h-1.0zM167.0 482.8h1.0v8.9h-1.0zM168.1 482.4h1.0v9.8h-1.0zM170.1 481.6h1.0v9.2h-1.0zM171.2 481.3h1.0v9.1h-1.0zM172.5 466.0h1.5v20.0h-1.5zM180.9 418.7h1.1v10.2h-1.1zM590.0 302.0h3.4v2.2h-3.4zM596.8 300.4h3.4v1.7h-3.4zM600.2 299.8h3.4v1.2h-3.4z"/>
<path fill="#1bbd03" d="M149.0 487.6h1.0v8.5h-1.0zM163.0 484.7h1.0v8.4h-1.0zM166.0 483.1h1.0v9.6h-1.0zM169.1 482.2h1.0v9.2h-1.0zM174.0 460.0h1.5v28.0h-1.5zM171.5 484.0h3.0v9.0h-3.0zM182.0 420.1h1.1v10.1h-1.1zM731.5 175.9h3.5v12.5h-3.5z"/>
<path fill="#1fd603" d="M183.1 421.5h1.1v8.8h-1.1zM184.2 422.3h1.1v9.6h-1.1zM185.4 423.7h1.1v8.0h-1.1zM186.5 425.1h1.1v8.2h-1.1zM193.4 423.8h1.2v9.8h-1.2zM194.5 423.4h1.2v10.0h-1.2zM199.3 420.7h1.2v9.3h-1.2zM201.7 419.1h1.2v10.1h-1.2zM202.9 418.6h1.2v9.0h-1.2zM206.6 415.7h1.2v9.3h-1.2zM210.4 413.1h1.3v8.2h-1.3zM212.9 411.1h1.3v8.3h-1.3zM215.5 408.6h1.3v8.8h-1.3zM218.1 406.4h1.3v8.5h-1.3zM220.7 404.2h1.3v7.4h-1.3zM226.0 398.1h1.4v7.3h-1.4zM230.1 393.2h1.4v7.4h-1.4zM231.5 392.0h1.4v7.0h-1.4zM239.9 380.3h1.4v10.4h-1.4zM242.8 377.0h1.4v11.1h-1.4zM244.2 375.1h1.5v11.3h-1.5zM253.1 359.1h1.5v12.9h-1.5zM256.1 353.2h1.5v13.8h-1.5zM276.6 333.3h1.6v9.8h-1.6zM288.2 330.6h1.7v8.0h-1.7zM304.0 327.4h1.8v9.0h-1.8zM314.9 327.3h1.9v9.1h-1.9zM328.9 328.8h1.9v7.5h-1.9zM340.0 327.0h2.0v9.2h-2.0zM345.0 329.5h2.0v6.7h-2.0zM355.1 329.8h2.1v6.3h-2.1zM357.1 329.8h2.1v6.2h-2.1zM359.2 329.9h2.1v6.1h-2.1zM363.4 330.0h2.1v5.8h-2.1zM366.0 328.5h2.1v7.2h-2.1zM373.3 331.0h2.2v4.5h-2.2zM379.9 331.0h1.1v4.3h-1.1zM383.2 329.5h0.8v5.6h-0.8zM399.6 331.5h2.3v3.1h-2.3zM406.3 326.3h2.4v8.2h-2.4zM416.0 327.5h2.4v6.6h-2.4zM424.0 330.3h2.5v3.2h-2.5zM426.5 330.3h2.5v3.0h-2.5zM428.9 330.3h2.5v2.8h-2.5zM431.4 330.3h1.1v2.6h-1.1zM432.5 326.7h2.5v6.0h-2.5zM436.0 324.2h2.5v8.4h-2.5zM441.1 324.2h2.6v8.1h-2.6zM460.9 329.0h1.7v2.0h-1.7zM465.3 323.3h0.7v7.4h-0.7zM466.0 328.8h2.7v1.9h-2.7zM475.0 323.3h2.7v6.7h-2.7zM484.6 327.8h2.8v1.6h-2.8zM499.0 326.5h2.9v1.7h-2.9zM516.5 318.3h3.0v8.2h-3.0zM520.2 324.4h3.0v1.7h-3.0zM523.2 324.2h0.6v1.5h-0.6zM526.8 316.3h3.0v9.1h-3.0zM544.2 311.8h3.1v11.2h-3.1zM627.9 292.2h3.6v3.3h-3.6zM638.8 287.9h3.7v3.8h-3.7zM646.1 285.3h3.7v3.3h-3.7zM649.8 283.0h3.7v3.9h-3.7zM672.5 272.0h3.8v4.7h-3.8zM680.2 267.4h3.9v5.5h-3.9zM684.1 265.1h3.9v5.8h-3.9zM703.9 244.6h4.0v8.2h-4.0zM715.5 229.5h2.8v6.5h-2.8z"/>
<path fill="#20e304" d="M187.6 425.4h1.1v8.7h-1.1zM189.9 424.8h1.2v8.3h-1.2zM191.0 424.5h1.2v9.2h-1.2zM192.2 424.6h1.2v9.4h-1.2zM195.7 422.9h1.2v9.2h-1.2zM204.1 417.5h1.2v9.3h-1.2zM207.9 414.6h1.3v9.0h-1.3zM214.2 409.9h1.3v8.6h-1.3zM216.8 407.3h1.3v8.7h-1.3zM223.4 401.6h1.3v6.5h-1.3zM224.7 400.3h1.3v6.3h-1.3zM228.8 394.6h1.4v7.1h-1.4zM232.9 390.4h1.4v7.0h-1.4zM234.3 387.6h1.4v8.3h-1.4zM235.7 386.0h1.4v9.2h-1.4zM238.5 382.8h1.4v9.8h-1.4zM245.7 372.2h1.5v12.7h-1.5zM248.6 368.2h1.5v13.1h-1.5zM250.1 365.2h1.5v12.8h-1.5zM251.6 362.9h1.5v12.8h-1.5zM254.6 356.8h1.5v13.2h-1.5zM257.6 351.4h1.5v12.7h-1.5zM259.2 347.7h1.5v14.3h-1.5zM260.7 345.9h1.5v13.0h-1.5zM262.2 343.7h1.6v12.8h-1.6zM263.8 341.9h1.6v12.6h-1.6zM266.9 339.5h1.6v10.5h-1.6zM268.5 337.8h1.6v10.2h-1.6zM270.1 336.7h1.6v10.1h-1.6zM284.8 331.4h1.7v8.6h-1.7zM286.5 330.8h1.7v7.5h-1.7zM289.9 330.7h1.7v6.8h-1.7zM291.6 329.5h1.7v7.8h-1.7zM295.2 327.5h1.7v8.9h-1.7zM297.0 327.5h1.8v8.9h-1.8zM298.7 327.4h1.8v9.0h-1.8zM300.5 327.4h1.8v9.0h-1.8zM302.3 327.4h1.8v9.0h-1.8zM307.6 327.3h1.8v9.0h-1.8zM309.4 327.3h1.8v9.0h-1.8zM313.1 327.3h1.8v9.1h-1.8zM316.8 327.3h1.9v9.1h-1.9zM320.5 327.2h1.9v9.1h-1.9zM322.4 327.2h1.1v9.1h-1.1zM325.4 332.5h1.6v3.8h-1.6zM332.8 328.8h2.0v7.5h-2.0zM336.7 328.8h2.0v7.4h-2.0zM342.0 327.0h1.0v9.2h-1.0zM349.1 329.5h0.9v6.6h-0.9zM350.0 328.3h2.0v7.8h-2.0zM352.0 328.3h1.0v7.8h-1.0zM353.0 329.7h2.1v6.4h-2.1zM361.3 329.9h2.1v5.9h-2.1zM365.6 330.0h0.4v5.7h-0.4zM368.1 328.5h0.9v7.1h-0.9zM369.0 331.0h2.2v4.6h-2.2zM377.7 331.0h2.2v4.3h-2.2zM386.2 331.0h2.2v4.0h-2.2zM388.5 331.0h2.3v4.0h-2.3zM390.7 331.0h1.3v3.9h-1.3zM394.3 327.0h0.7v7.8h-0.7zM401.9 331.5h2.1v3.0h-2.1zM404.0 326.4h2.3v8.1h-2.3zM408.7 326.2h2.4v8.2h-2.4zM413.5 325.9h2.4v8.4h-2.4zM415.9 325.7h0.1v8.4h-0.1zM423.3 330.5h0.7v3.0h-0.7zM435.0 324.2h1.0v8.4h-1.0zM443.6 324.2h2.6v7.9h-2.6zM451.0 328.3h2.0v3.3h-2.0zM453.0 329.0h2.6v2.5h-2.6zM455.6 329.0h2.6v2.3h-2.6zM458.3 329.0h2.7v2.2h-2.7zM462.6 323.3h2.7v7.6h-2.7zM479.0 328.1h2.8v1.7h-2.8zM481.8 328.0h2.8v1.6h-2.8zM490.2 327.5h0.8v1.5h-0.8zM501.9 326.4h2.9v1.6h-2.9zM504.8 326.2h1.2v1.5h-1.2zM506.0 319.3h2.7v8.3h-2.7zM519.5 317.9h0.7v8.3h-0.7zM537.1 323.2h0.9v1.0h-0.9zM538.0 312.7h3.1v11.4h-3.1zM541.1 312.2h3.1v11.3h-3.1zM550.5 310.9h3.2v11.1h-3.2zM631.5 290.7h3.6v3.5h-3.6zM635.1 289.8h3.6v3.0h-3.6zM653.5 281.8h3.7v3.5h-3.7zM657.3 280.1h3.8v4.2h-3.8zM676.3 269.8h3.9v5.0h-3.9zM688.0 262.0h3.9v6.2h-3.9zM695.9 254.3h4.0v7.9h-4.0zM699.9 249.5h4.0v8.6h-4.0z"/>
<path fill="#1dca03" d="M188.8 425.2h1.1v8.5h-1.1zM196.9 422.4h1.2v9.0h-1.2zM200.5 419.4h1.2v10.2h-1.2zM205.4 416.0h1.2v9.7h-1.2zM209.1 413.1h1.3v9.5h-1.3zM211.6 411.3h1.3v9.4h-1.3zM219.4 405.1h1.3v8.4h-1.3zM222.0 402.0h1.3v8.0h-1.3zM227.4 396.9h1.4v6.5h-1.4zM237.1 384.0h1.4v9.4h-1.4zM241.3 379.0h1.4v10.5h-1.4zM247.2 370.6h1.5v12.3h-1.5zM265.4 341.2h1.6v11.2h-1.6zM293.3 328.6h1.7v8.0h-1.7zM293.5 327.5h1.7v9.5h-1.7zM311.2 327.3h1.8v9.0h-1.8zM323.5 332.5h1.9v3.8h-1.9zM327.0 328.8h1.9v7.5h-1.9zM338.7 328.8h1.3v7.4h-1.3zM347.0 329.5h2.0v6.7h-2.0zM375.5 331.0h2.2v4.4h-2.2zM384.0 331.0h2.2v4.1h-2.2zM392.0 327.0h2.3v7.8h-2.3zM395.0 331.5h2.3v3.2h-2.3zM397.3 331.5h2.3v3.2h-2.3zM411.1 326.0h2.4v8.3h-2.4zM420.8 329.5h2.4v4.2h-2.4zM438.5 324.2h2.5v8.2h-2.5zM446.2 324.2h2.6v7.8h-2.6zM448.8 324.2h2.2v7.6h-2.2zM474.1 328.5h0.9v1.6h-0.9zM477.7 323.3h1.3v6.6h-1.3zM508.7 325.3h2.9v2.0h-2.9zM523.8 316.6h3.0v9.1h-3.0zM529.9 316.0h1.1v9.1h-1.1zM534.1 323.4h3.1v1.2h-3.1zM547.3 311.4h3.2v11.1h-3.2zM553.7 310.3h3.2v11.0h-3.2zM556.8 309.8h3.2v10.9h-3.2zM560.1 309.2h0.9v10.9h-0.9zM664.8 276.1h3.8v5.0h-3.8zM691.9 258.4h4.0v6.8h-4.0z"/>
<path fill="#22ef04" d="M198.1 421.4h1.2v9.7h-1.2zM271.7 336.5h1.6v8.9h-1.6zM273.3 335.6h1.6v8.9h-1.6zM274.9 334.6h1.6v9.5h-1.6zM278.2 332.5h1.6v9.5h-1.6zM279.8 332.2h1.7v10.0h-1.7zM281.5 331.6h1.7v9.8h-1.7zM283.2 332.2h1.7v7.8h-1.7zM305.8 327.4h1.8v9.0h-1.8zM318.6 327.2h1.9v9.1h-1.9zM330.8 328.8h1.9v7.5h-1.9zM334.7 328.8h2.0v7.5h-2.0zM343.0 329.5h2.0v6.7h-2.0zM371.2 331.0h2.2v4.5h-2.2zM381.0 329.5h2.2v5.7h-2.2zM418.4 328.5h2.4v5.4h-2.4zM468.7 328.7h2.7v1.8h-2.7zM471.4 328.6h2.7v1.7h-2.7zM487.4 327.6h2.8v1.5h-2.8zM511.6 325.0h1.4v2.0h-1.4zM513.0 320.1h3.0v6.8h-3.0zM516.0 319.2h0.5v7.3h-0.5zM531.0 323.6h3.1v1.3h-3.1zM642.4 286.5h3.7v3.2h-3.7zM661.0 278.2h3.8v4.5h-3.8zM668.6 273.9h3.8v5.4h-3.8z"/>
<path fill="#1fdb03" d="M569.0 307.4h4.0v8.4h-4.0zM578.0 305.4h4.0v8.0h-4.0zM612.3 296.8h3.7v4.1h-3.7zM612.3 303.4h3.7v2.9h-3.7z"/>
<path fill="#20de04" d="M705.7 241.5h3.3v8.5h-3.3zM709.0 237.0h3.5v9.5h-3.5zM712.5 232.0h3.0v8.0h-3.0z"/></g>
</g>
<g stroke="#414141" stroke-width="1" shape-rendering="crispEdges">
<line x1="91.5" y1="48" x2="91.5" y2="525"/>
<line x1="198.5" y1="48" x2="198.5" y2="525"/>
<line x1="306.5" y1="48" x2="306.5" y2="525"/>
<line x1="413.5" y1="48" x2="413.5" y2="525"/>
<line x1="520.5" y1="48" x2="520.5" y2="525"/>
<line x1="627.5" y1="48" x2="627.5" y2="525"/>
<line x1="735.5" y1="48" x2="735.5" y2="525"/>
<line x1="80" y1="501.5" x2="779" y2="501.5"/>
<line x1="80" y1="435.5" x2="779" y2="435.5"/>
<line x1="80" y1="368.5" x2="779" y2="368.5"/>
<line x1="80" y1="302.5" x2="779" y2="302.5"/>
<line x1="80" y1="237.5" x2="779" y2="237.5"/>
<line x1="80" y1="170.5" x2="779" y2="170.5"/>
<line x1="80" y1="104.5" x2="779" y2="104.5"/>
</g>
<g font-size="18" stroke="#000" stroke-width="0.6" stroke-linejoin="round">
<text transform="translate(224.8,14.0) scale(1,1.05)" textLength="284" lengthAdjust="spacingAndGlyphs" stroke-width="0.5">Jicamarca 2023 004 20:33:03 UTC</text>
<text transform="translate(546.6,14.0) scale(1,1.05)" textLength="70.2" lengthAdjust="spacingAndGlyphs" stroke-width="0.5">04Jan23</text>
<text x="52.5" y="504.5" text-anchor="end">100</text>
<text x="52.5" y="438.5" text-anchor="end">200</text>
<text x="52.5" y="371.5" text-anchor="end">300</text>
<text x="52.5" y="305.5" text-anchor="end">400</text>
<text x="52.5" y="240.5" text-anchor="end">500</text>
<text x="52.5" y="173.5" text-anchor="end">600</text>
<text x="52.5" y="107.5" text-anchor="end">700</text>
<text x="52.5" y="41.5" text-anchor="end">800</text>
<text x="89.0" y="562.5" text-anchor="middle">2.0</text>
<text x="196.0" y="562.5" text-anchor="middle">4.0</text>
<text x="304.0" y="562.5" text-anchor="middle">6.0</text>
<text x="412.2" y="562.5" text-anchor="middle">8.0</text>
<text x="519.2" y="562.5" text-anchor="middle">10.0</text>
<text x="626.2" y="562.5" text-anchor="middle">12.0</text>
<text x="734.2" y="562.5" text-anchor="middle">14.0</text>
<text x="360.7" y="590.5" textLength="137.8" lengthAdjust="spacingAndGlyphs">Frequency [MHz]</text>
<text transform="translate(13.6,335.4) rotate(-90)" textLength="95" lengthAdjust="spacingAndGlyphs">Range [km]</text>
<text x="807.6" y="19.5" textLength="75.6" lengthAdjust="spacingAndGlyphs">SNR [dB]</text>
<text x="807.1" y="50.8" font-size="19.5">O</text>
<text x="892.2" y="50.8" text-anchor="end" font-size="19.5">X</text>
</g>
<g font-size="13">
<text x="30.5" y="610.7">RxMask 11111111</text>
<text x="581.5" y="610.7" xml:space="preserve" textLength="212" lengthAdjust="spacing">VIPIR  JM91J_2023004203303.RIQ</text>
</g>
<rect x="807.5" y="55.5" width="20" height="460" fill="url(#gr)" stroke="#000" stroke-width="1" shape-rendering="crispEdges"/>
<path d="M808 423.5h6M827 423.5h-6M808 331.5h6M827 331.5h-6M808 239.5h6M827 239.5h-6M808 147.5h6M827 147.5h-6" stroke="#000" stroke-width="1" shape-rendering="crispEdges"/>
<g font-size="16">
<text x="841.5" y="518.7">0</text>
<text x="841.5" y="426.7">10</text>
<text x="841.5" y="334.7">20</text>
<text x="841.5" y="242.7">30</text>
<text x="841.5" y="150.7">40</text>
<text x="841.5" y="58.7">50</text>
</g>
<rect x="871.5" y="55.5" width="20" height="460" fill="url(#gg)" stroke="#000" stroke-width="1" shape-rendering="crispEdges"/>
<path d="M872 423.5h6M891 423.5h-6M872 331.5h6M891 331.5h-6M872 239.5h6M891 239.5h-6M872 147.5h6M891 147.5h-6" stroke="#000" stroke-width="1" shape-rendering="crispEdges"/>
<g font-size="16">
<text x="905.5" y="518.7">0</text>
<text x="905.5" y="426.7">10</text>
<text x="905.5" y="334.7">20</text>
<text x="905.5" y="242.7">30</text>
<text x="905.5" y="150.7">40</text>
<text x="905.5" y="58.7">50</text>
</g>
</svg></body></html>
